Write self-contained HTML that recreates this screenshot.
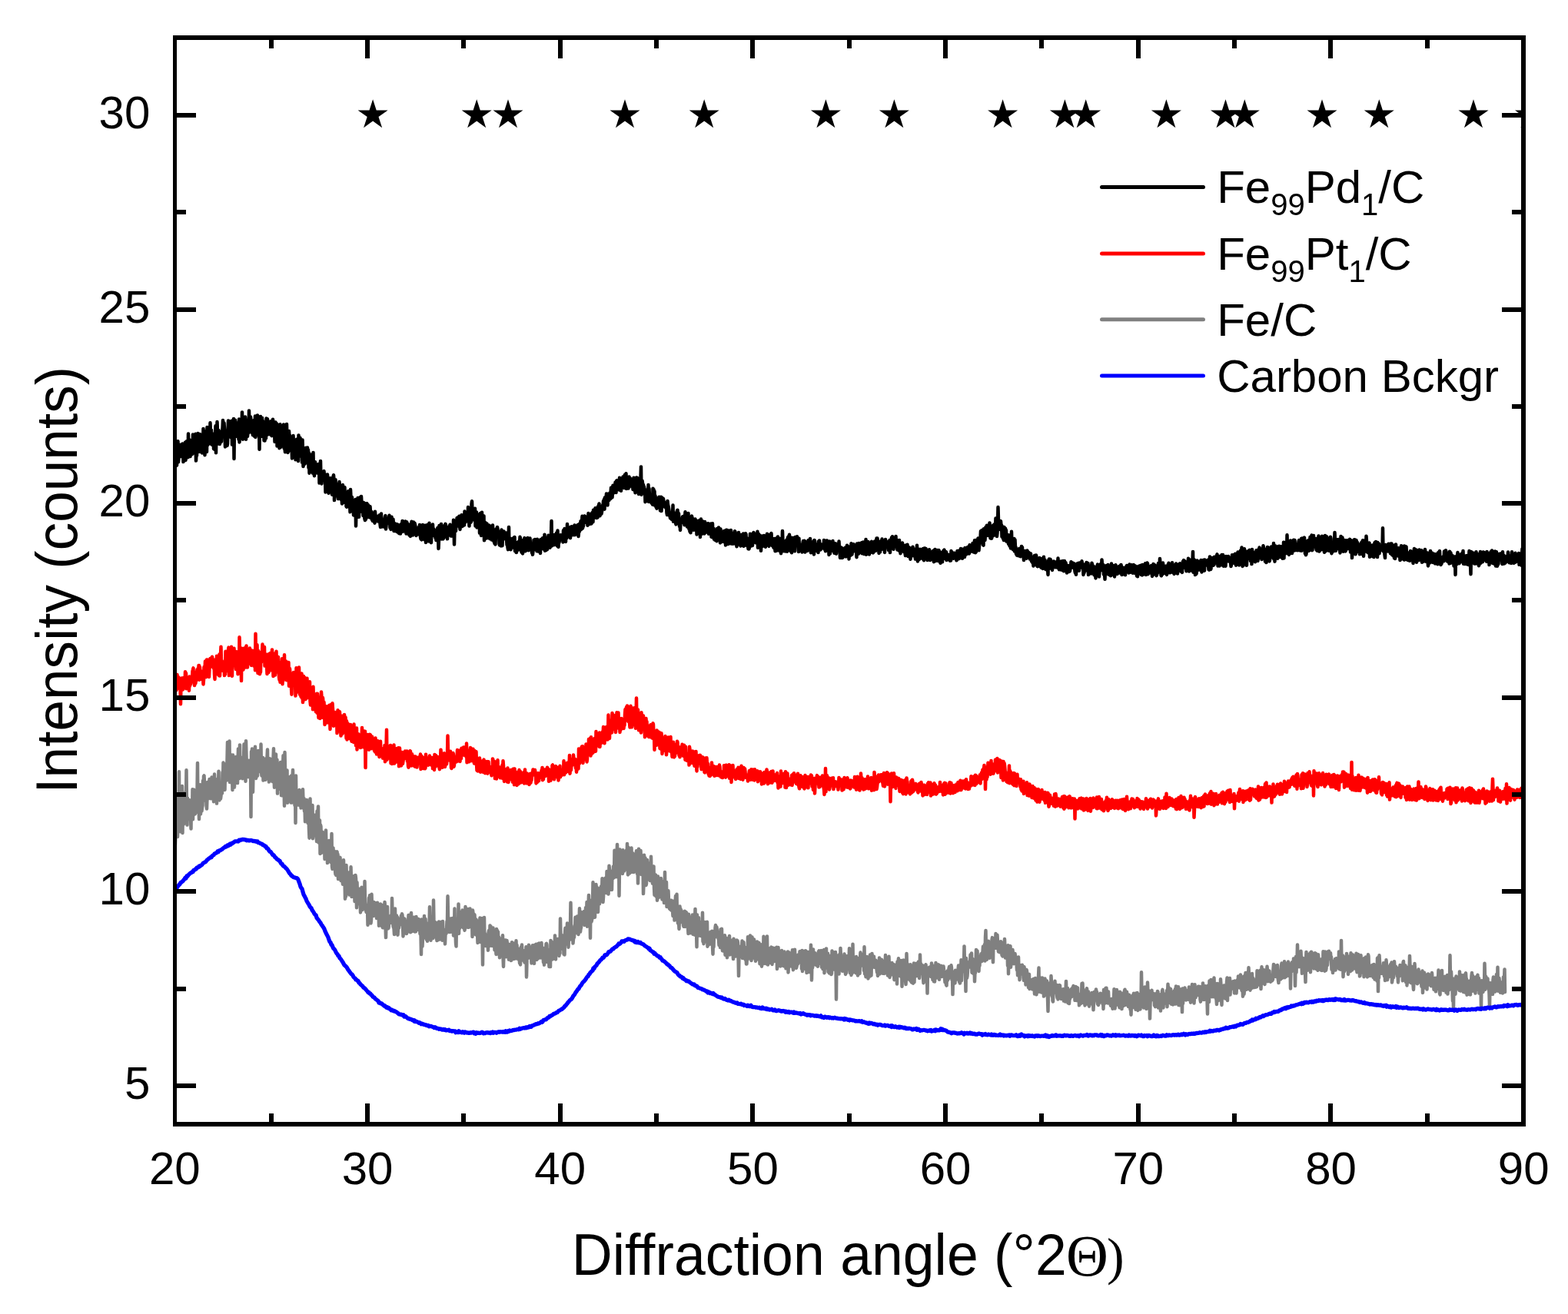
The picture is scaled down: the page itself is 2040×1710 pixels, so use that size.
<!DOCTYPE html>
<html><head><meta charset="utf-8"><title>XRD</title>
<style>html,body{margin:0;padding:0;background:#fff;overflow:hidden;width:2040px;height:1710px;}svg{display:block;}</style>
</head><body>
<svg width="2040" height="1710" viewBox="0 0 2040 1710">
<defs><clipPath id="pc"><rect x="230" y="52" width="1749" height="1408"/></clipPath></defs>
<rect width="100%" height="100%" fill="#fff"/>
<g clip-path="url(#pc)" fill="none" stroke-width="4.5" stroke-linejoin="round" stroke-linecap="round">
<path stroke="#808080" d="M227.0 1056.4L227.5 1060.3 228.0 1098.8 228.5 1082.5 229.0 1035.1 229.5 1067.3 230.0 1061.4 230.5 1052.0 231.0 1089.1 231.5 1041.4 232.0 1053.4 232.5 1067.0 233.0 1004.3 233.5 1075.5 234.0 1067.4 234.5 1082.2 235.0 1049.0 235.5 1074.7 236.0 1064.6 236.5 1034.6 237.0 1023.0 237.5 1084.0 238.0 1035.3 238.5 1045.1 239.0 1072.5 239.5 1064.4 240.0 1060.0 240.5 1055.9 241.0 1031.6 241.5 1068.3 242.0 1042.8 242.5 1002.3 243.0 1055.0 243.5 1073.6 244.0 1038.8 244.5 1065.9 245.0 1048.6 245.5 1062.7 246.0 1058.5 246.5 1041.2 247.0 1053.4 247.5 1051.2 248.0 1063.0 248.5 1078.4 249.0 1041.6 249.5 1063.3 250.0 1062.9 250.5 1027.3 251.0 1066.2 251.5 1038.4 252.0 1048.6 252.5 1027.8 253.0 1059.8 253.5 1034.5 254.0 1059.0 254.5 1034.6 255.0 1052.7 255.5 1035.2 256.0 1056.7 256.5 1030.1 257.0 993.0 257.5 1054.9 258.0 1052.2 258.5 1039.8 259.0 1066.0 259.5 1029.6 260.0 1054.2 260.5 1021.3 261.0 1059.5 261.5 1046.7 262.0 1048.9 262.5 1055.5 263.0 1050.7 263.5 1048.6 264.0 1016.1 264.5 1034.6 265.0 1010.2 265.5 1009.4 266.0 1018.1 266.5 1041.4 267.0 1040.5 267.5 1019.4 268.0 1029.9 268.5 1047.9 269.0 1052.6 269.5 1038.1 270.0 1017.9 270.5 1036.4 271.0 1037.7 271.5 1018.6 272.0 1039.0 272.5 1014.0 273.0 1037.0 273.5 1029.0 274.0 1037.6 274.5 1039.3 275.0 1035.5 275.5 1011.6 276.0 1024.9 276.5 1013.1 277.0 1033.2 277.5 1026.4 278.0 1043.2 278.5 1024.4 279.0 1007.6 279.5 1027.4 280.0 1021.7 280.5 1031.1 281.0 1017.2 281.5 1024.6 282.0 1045.6 282.5 1015.5 283.0 1014.7 283.5 1013.2 284.0 1024.7 284.5 1003.8 285.0 1029.6 285.5 1041.4 286.0 1024.2 286.5 1030.6 287.0 1039.5 287.5 1035.7 288.0 1027.6 288.5 1030.7 289.0 1032.5 289.5 1005.0 290.0 1018.0 290.5 992.6 291.0 1000.1 291.5 1016.2 292.0 1011.0 292.5 1027.9 293.0 1005.0 293.5 994.3 294.0 1004.6 294.5 1002.5 295.0 1015.4 295.5 989.0 296.0 965.9 296.5 1005.9 297.0 1002.8 297.5 995.3 298.0 992.2 298.5 964.4 299.0 1018.1 299.5 994.7 300.0 982.1 300.5 992.1 301.0 1003.6 301.5 992.2 302.0 1002.8 302.5 1027.9 303.0 982.4 303.5 1020.1 304.0 1010.9 304.5 1010.3 305.0 1024.4 305.5 988.5 306.0 1000.4 306.5 1015.1 307.0 985.0 307.5 1002.2 308.0 987.3 308.5 998.6 309.0 1019.1 309.5 992.6 310.0 974.4 310.5 981.1 311.0 991.8 311.5 1012.9 312.0 969.4 312.5 1009.1 313.0 998.6 313.5 985.5 314.0 1004.4 314.5 988.7 315.0 995.3 315.5 1013.2 316.0 1006.8 316.5 1008.0 317.0 990.3 317.5 968.5 318.0 1000.0 318.5 1013.1 319.0 978.7 319.5 1016.8 320.0 964.3 320.5 984.3 321.0 999.4 321.5 1007.1 322.0 1001.6 322.5 1009.0 323.0 1011.1 323.5 1002.1 324.0 989.7 324.5 991.5 325.0 1008.6 325.5 1000.9 326.0 998.6 326.5 1063.1 327.0 977.9 327.5 990.5 328.0 974.4 328.5 988.3 329.0 1030.8 329.5 1005.3 330.0 999.7 330.5 982.9 331.0 991.0 331.5 1003.9 332.0 971.7 332.5 1006.4 333.0 1012.9 333.5 1010.7 334.0 977.5 334.5 980.5 335.0 1009.8 335.5 993.4 336.0 977.0 336.5 990.5 337.0 1002.3 337.5 986.6 338.0 992.8 338.5 1004.2 339.0 1002.4 339.5 968.5 340.0 1003.6 340.5 1009.6 341.0 995.2 341.5 994.2 342.0 986.1 342.5 1015.6 343.0 989.0 343.5 1001.9 344.0 988.9 344.5 997.0 345.0 1011.9 345.5 1014.8 346.0 987.2 346.5 1005.4 347.0 1011.6 347.5 985.5 348.0 975.5 348.5 1011.5 349.0 1002.0 349.5 998.6 350.0 1017.6 350.5 1011.3 351.0 987.3 351.5 1010.1 352.0 1002.9 352.5 1008.8 353.0 1009.5 353.5 988.0 354.0 992.5 354.5 1017.1 355.0 991.3 355.5 987.2 356.0 974.3 356.5 1012.4 357.0 1024.8 357.5 989.0 358.0 989.2 358.5 986.8 359.0 981.5 359.5 1010.5 360.0 1013.5 360.5 988.8 361.0 1032.6 361.5 1002.7 362.0 1022.1 362.5 1027.0 363.0 1024.3 363.5 1006.1 364.0 1005.9 364.5 1014.7 365.0 992.0 365.5 1008.1 366.0 1035.1 366.5 1035.2 367.0 991.4 367.5 1015.6 368.0 998.8 368.5 983.2 369.0 995.3 369.5 1019.4 370.0 1048.7 370.5 979.0 371.0 1003.4 371.5 1012.1 372.0 1035.0 372.5 1031.7 373.0 1020.7 373.5 1002.5 374.0 1044.7 374.5 1014.4 375.0 1027.3 375.5 1039.9 376.0 1020.1 376.5 1027.0 377.0 1027.7 377.5 1010.9 378.0 1012.9 378.5 1044.5 379.0 1009.4 379.5 1030.7 380.0 1044.4 380.5 1013.1 381.0 1002.1 381.5 1028.4 382.0 1023.2 382.5 1030.6 383.0 1023.8 383.5 1048.0 384.0 1013.6 384.5 1071.1 385.0 1009.6 385.5 1048.2 386.0 1030.9 386.5 1038.3 387.0 1030.5 387.5 1031.3 388.0 1041.5 388.5 1037.4 389.0 1047.8 389.5 1027.9 390.0 1039.6 390.5 1042.7 391.0 1029.3 391.5 1051.4 392.0 1044.8 392.5 1035.8 393.0 1040.7 393.5 1051.3 394.0 1027.2 394.5 1043.3 395.0 1045.0 395.5 1038.9 396.0 1055.8 396.5 1048.6 397.0 1069.2 397.5 1056.1 398.0 1044.6 398.5 1046.5 399.0 1041.0 399.5 1049.8 400.0 1062.8 400.5 1071.0 401.0 1049.0 401.5 1057.6 402.0 1078.8 402.5 1090.7 403.0 1049.4 403.5 1039.4 404.0 1069.5 404.5 1067.9 405.0 1067.8 405.5 1069.9 406.0 1087.5 406.5 1048.1 407.0 1091.2 407.5 1087.6 408.0 1060.4 408.5 1062.7 409.0 1060.6 409.5 1072.4 410.0 1061.1 410.5 1077.2 411.0 1083.1 411.5 1074.2 412.0 1094.9 412.5 1055.5 413.0 1095.0 413.5 1059.7 414.0 1049.5 414.5 1096.6 415.0 1080.3 415.5 1068.0 416.0 1067.5 416.5 1111.0 417.0 1073.6 417.5 1075.7 418.0 1110.1 418.5 1101.7 419.0 1085.1 419.5 1082.7 420.0 1105.7 420.5 1107.5 421.0 1100.5 421.5 1095.3 422.0 1095.5 422.5 1118.0 423.0 1103.1 423.5 1085.1 424.0 1080.6 424.5 1107.4 425.0 1107.8 425.5 1103.8 426.0 1123.1 426.5 1100.1 427.0 1103.6 427.5 1099.9 428.0 1093.9 428.5 1102.9 429.0 1121.1 429.5 1099.8 430.0 1098.9 430.5 1122.1 431.0 1111.5 431.5 1085.0 432.0 1127.8 432.5 1130.9 433.0 1104.4 433.5 1103.5 434.0 1116.6 434.5 1118.0 435.0 1107.7 435.5 1127.8 436.0 1132.8 436.5 1137.7 437.0 1113.1 437.5 1139.1 438.0 1109.9 438.5 1108.3 439.0 1112.1 439.5 1111.7 440.0 1144.0 440.5 1125.6 441.0 1132.7 441.5 1129.7 442.0 1117.9 442.5 1115.9 443.0 1125.1 443.5 1146.0 444.0 1126.3 444.5 1128.2 445.0 1130.6 445.5 1147.0 446.0 1150.7 446.5 1131.0 447.0 1119.3 447.5 1133.9 448.0 1142.6 448.5 1142.6 449.0 1169.7 449.5 1157.9 450.0 1166.7 450.5 1126.1 451.0 1145.8 451.5 1137.8 452.0 1139.7 452.5 1158.9 453.0 1149.7 453.5 1147.2 454.0 1135.5 454.5 1164.4 455.0 1156.9 455.5 1145.8 456.0 1164.4 456.5 1128.2 457.0 1145.8 457.5 1167.0 458.0 1141.8 458.5 1141.4 459.0 1159.6 459.5 1163.4 460.0 1161.3 460.5 1140.0 461.0 1152.0 461.5 1172.9 462.0 1157.2 462.5 1139.1 463.0 1143.1 463.5 1153.8 464.0 1181.3 464.5 1148.3 465.0 1163.7 465.5 1176.3 466.0 1171.2 466.5 1156.5 467.0 1176.2 467.5 1156.9 468.0 1168.0 468.5 1163.9 469.0 1187.4 469.5 1180.2 470.0 1184.5 470.5 1154.7 471.0 1176.3 471.5 1184.1 472.0 1165.0 472.5 1174.5 473.0 1163.9 473.5 1164.0 474.0 1179.3 474.5 1147.0 475.0 1174.7 475.5 1181.7 476.0 1184.2 476.5 1186.9 477.0 1183.8 477.5 1179.6 478.0 1177.9 478.5 1203.8 479.0 1183.4 479.5 1184.5 480.0 1168.5 480.5 1172.1 481.0 1165.3 481.5 1169.8 482.0 1182.4 482.5 1201.4 483.0 1197.3 483.5 1163.7 484.0 1180.5 484.5 1191.3 485.0 1177.0 485.5 1178.4 486.0 1191.9 486.5 1174.1 487.0 1177.4 487.5 1182.7 488.0 1175.1 488.5 1178.3 489.0 1187.9 489.5 1180.2 490.0 1194.9 490.5 1186.3 491.0 1174.8 491.5 1186.8 492.0 1189.5 492.5 1177.2 493.0 1204.8 493.5 1180.6 494.0 1177.8 494.5 1187.4 495.0 1176.4 495.5 1196.3 496.0 1178.3 496.5 1177.6 497.0 1205.5 497.5 1193.5 498.0 1207.2 498.5 1201.3 499.0 1198.1 499.5 1181.8 500.0 1197.2 500.5 1174.0 501.0 1180.4 501.5 1202.6 502.0 1220.1 502.5 1199.4 503.0 1192.8 503.5 1205.4 504.0 1180.0 504.5 1208.6 505.0 1197.4 505.5 1207.9 506.0 1202.4 506.5 1195.3 507.0 1193.3 507.5 1196.4 508.0 1200.7 508.5 1191.4 509.0 1196.7 509.5 1200.9 510.0 1169.1 510.5 1188.6 511.0 1192.8 511.5 1205.2 512.0 1207.1 512.5 1207.9 513.0 1216.1 513.5 1202.1 514.0 1182.6 514.5 1209.2 515.0 1198.5 515.5 1205.8 516.0 1191.6 516.5 1215.3 517.0 1193.8 517.5 1216.7 518.0 1207.3 518.5 1199.6 519.0 1207.7 519.5 1197.0 520.0 1204.1 520.5 1202.6 521.0 1197.2 521.5 1194.8 522.0 1191.4 522.5 1199.2 523.0 1189.3 523.5 1191.0 524.0 1200.9 524.5 1218.4 525.0 1210.1 525.5 1204.5 526.0 1196.5 526.5 1195.6 527.0 1199.2 527.5 1206.3 528.0 1214.5 528.5 1200.2 529.0 1215.1 529.5 1210.8 530.0 1212.9 530.5 1198.8 531.0 1205.5 531.5 1191.1 532.0 1204.7 532.5 1191.0 533.0 1209.8 533.5 1196.5 534.0 1213.3 534.5 1201.0 535.0 1188.1 535.5 1203.4 536.0 1200.3 536.5 1211.9 537.0 1196.7 537.5 1206.8 538.0 1202.6 538.5 1193.7 539.0 1203.0 539.5 1212.5 540.0 1199.4 540.5 1211.3 541.0 1212.3 541.5 1193.1 542.0 1201.0 542.5 1198.3 543.0 1209.9 543.5 1201.4 544.0 1207.2 544.5 1196.0 545.0 1198.5 545.5 1199.8 546.0 1207.3 546.5 1215.4 547.0 1201.4 547.5 1216.0 548.0 1242.0 548.5 1196.6 549.0 1203.7 549.5 1231.7 550.0 1220.3 550.5 1208.3 551.0 1201.8 551.5 1211.9 552.0 1192.1 552.5 1220.2 553.0 1204.1 553.5 1195.9 554.0 1206.7 554.5 1210.7 555.0 1222.9 555.5 1205.5 556.0 1224.8 556.5 1214.6 557.0 1208.3 557.5 1203.5 558.0 1200.9 558.5 1204.7 559.0 1180.3 559.5 1200.0 560.0 1203.5 560.5 1223.8 561.0 1197.8 561.5 1215.5 562.0 1207.4 562.5 1216.1 563.0 1215.2 563.5 1220.9 564.0 1171.5 564.5 1201.9 565.0 1202.0 565.5 1205.0 566.0 1208.0 566.5 1203.9 567.0 1200.5 567.5 1211.8 568.0 1220.7 568.5 1224.1 569.0 1212.0 569.5 1222.3 570.0 1222.9 570.5 1217.2 571.0 1199.5 571.5 1217.7 572.0 1222.6 572.5 1211.8 573.0 1221.6 573.5 1199.9 574.0 1201.0 574.5 1213.6 575.0 1204.7 575.5 1223.7 576.0 1199.1 576.5 1215.3 577.0 1216.2 577.5 1209.7 578.0 1212.2 578.5 1211.2 579.0 1228.4 579.5 1215.0 580.0 1215.1 580.5 1215.0 581.0 1209.7 581.5 1199.0 582.0 1197.7 582.5 1166.3 583.0 1194.8 583.5 1205.6 584.0 1209.7 584.5 1213.0 585.0 1205.0 585.5 1200.0 586.0 1195.6 586.5 1210.6 587.0 1212.6 587.5 1196.4 588.0 1200.7 588.5 1195.0 589.0 1197.1 589.5 1202.3 590.0 1217.5 590.5 1197.4 591.0 1208.9 591.5 1182.4 592.0 1213.2 592.5 1213.0 593.0 1227.2 593.5 1231.6 594.0 1197.1 594.5 1201.6 595.0 1214.3 595.5 1203.7 596.0 1213.7 596.5 1176.4 597.0 1215.0 597.5 1197.3 598.0 1208.3 598.5 1186.9 599.0 1206.3 599.5 1204.2 600.0 1203.4 600.5 1203.6 601.0 1192.2 601.5 1184.4 602.0 1198.1 602.5 1207.0 603.0 1207.6 603.5 1198.5 604.0 1205.2 604.5 1210.8 605.0 1207.2 605.5 1180.0 606.0 1185.6 606.5 1205.8 607.0 1192.0 607.5 1201.8 608.0 1201.5 608.5 1206.7 609.0 1183.0 609.5 1203.7 610.0 1206.7 610.5 1187.1 611.0 1206.0 611.5 1182.6 612.0 1203.5 612.5 1198.0 613.0 1200.2 613.5 1206.8 614.0 1185.5 614.5 1219.0 615.0 1184.6 615.5 1188.1 616.0 1197.7 616.5 1189.8 617.0 1208.4 617.5 1190.5 618.0 1204.2 618.5 1215.8 619.0 1216.3 619.5 1196.5 620.0 1197.9 620.5 1208.0 621.0 1211.0 621.5 1226.9 622.0 1208.0 622.5 1209.9 623.0 1204.3 623.5 1220.7 624.0 1201.0 624.5 1194.4 625.0 1225.9 625.5 1200.6 626.0 1214.3 626.5 1213.2 627.0 1194.9 627.5 1217.3 628.0 1255.5 628.5 1208.5 629.0 1222.1 629.5 1202.3 630.0 1194.0 630.5 1226.7 631.0 1215.0 631.5 1224.5 632.0 1231.0 632.5 1217.2 633.0 1223.9 633.5 1225.8 634.0 1220.2 634.5 1224.0 635.0 1236.8 635.5 1213.8 636.0 1211.0 636.5 1218.1 637.0 1230.9 637.5 1204.6 638.0 1224.8 638.5 1205.5 639.0 1220.8 639.5 1214.5 640.0 1231.0 640.5 1222.4 641.0 1229.3 641.5 1207.6 642.0 1224.9 642.5 1231.1 643.0 1224.7 643.5 1236.5 644.0 1222.8 644.5 1227.7 645.0 1234.5 645.5 1241.9 646.0 1208.9 646.5 1214.5 647.0 1211.1 647.5 1214.6 648.0 1212.7 648.5 1241.7 649.0 1219.4 649.5 1230.9 650.0 1246.3 650.5 1232.4 651.0 1221.4 651.5 1225.5 652.0 1225.0 652.5 1226.7 653.0 1229.4 653.5 1233.6 654.0 1217.3 654.5 1245.0 655.0 1257.9 655.5 1237.3 656.0 1223.3 656.5 1243.5 657.0 1236.1 657.5 1232.6 658.0 1223.5 658.5 1245.3 659.0 1235.9 659.5 1224.1 660.0 1231.8 660.5 1228.0 661.0 1234.1 661.5 1237.1 662.0 1248.8 662.5 1228.9 663.0 1246.3 663.5 1247.4 664.0 1233.2 664.5 1229.5 665.0 1250.1 665.5 1242.2 666.0 1226.3 666.5 1237.4 667.0 1245.9 667.5 1238.2 668.0 1227.4 668.5 1248.1 669.0 1238.5 669.5 1231.8 670.0 1232.8 670.5 1230.7 671.0 1243.7 671.5 1224.2 672.0 1247.5 672.5 1229.9 673.0 1238.7 673.5 1237.5 674.0 1236.4 674.5 1244.3 675.0 1248.9 675.5 1235.0 676.0 1253.2 676.5 1247.2 677.0 1255.4 677.5 1236.4 678.0 1232.2 678.5 1248.6 679.0 1229.5 679.5 1247.2 680.0 1249.5 680.5 1236.8 681.0 1239.4 681.5 1243.5 682.0 1249.1 682.5 1252.4 683.0 1242.3 683.5 1245.3 684.0 1249.9 684.5 1232.3 685.0 1271.4 685.5 1249.9 686.0 1234.4 686.5 1240.7 687.0 1247.0 687.5 1244.5 688.0 1229.8 688.5 1231.8 689.0 1233.0 689.5 1232.5 690.0 1240.4 690.5 1246.8 691.0 1238.9 691.5 1253.5 692.0 1243.0 692.5 1237.7 693.0 1230.2 693.5 1239.8 694.0 1245.1 694.5 1251.3 695.0 1253.9 695.5 1230.0 696.0 1245.7 696.5 1238.7 697.0 1243.5 697.5 1228.8 698.0 1232.2 698.5 1248.9 699.0 1238.3 699.5 1234.8 700.0 1247.4 700.5 1227.9 701.0 1232.5 701.5 1227.5 702.0 1237.2 702.5 1234.2 703.0 1232.5 703.5 1246.5 704.0 1244.0 704.5 1227.1 705.0 1245.2 705.5 1233.3 706.0 1244.9 706.5 1242.4 707.0 1252.4 707.5 1240.2 708.0 1255.7 708.5 1243.1 709.0 1233.7 709.5 1240.6 710.0 1245.0 710.5 1228.2 711.0 1227.8 711.5 1229.8 712.0 1251.9 712.5 1245.6 713.0 1244.7 713.5 1236.1 714.0 1249.2 714.5 1258.0 715.0 1240.3 715.5 1236.3 716.0 1258.1 716.5 1223.9 717.0 1228.6 717.5 1225.5 718.0 1226.2 718.5 1248.6 719.0 1232.1 719.5 1247.6 720.0 1241.6 720.5 1231.0 721.0 1247.6 721.5 1241.7 722.0 1217.5 722.5 1243.0 723.0 1248.4 723.5 1222.9 724.0 1225.1 724.5 1235.8 725.0 1221.9 725.5 1233.8 726.0 1235.7 726.5 1228.4 727.0 1221.7 727.5 1243.9 728.0 1236.3 728.5 1240.6 729.0 1195.6 729.5 1217.9 730.0 1235.1 730.5 1220.7 731.0 1232.1 731.5 1229.1 732.0 1217.4 732.5 1227.1 733.0 1221.9 733.5 1241.7 734.0 1218.6 734.5 1242.5 735.0 1214.2 735.5 1207.8 736.0 1217.3 736.5 1223.9 737.0 1228.5 737.5 1217.3 738.0 1201.5 738.5 1224.2 739.0 1210.0 739.5 1232.7 740.0 1215.7 740.5 1218.6 741.0 1220.3 741.5 1222.7 742.0 1205.4 742.5 1174.8 743.0 1208.0 743.5 1204.4 744.0 1216.4 744.5 1217.0 745.0 1207.5 745.5 1227.6 746.0 1222.2 746.5 1220.3 747.0 1219.7 747.5 1207.5 748.0 1214.9 748.5 1193.8 749.0 1195.1 749.5 1196.4 750.0 1197.4 750.5 1210.6 751.0 1192.6 751.5 1200.6 752.0 1213.9 752.5 1216.0 753.0 1208.7 753.5 1198.5 754.0 1182.2 754.5 1201.7 755.0 1212.6 755.5 1208.6 756.0 1207.3 756.5 1187.1 757.0 1188.4 757.5 1190.6 758.0 1188.7 758.5 1187.7 759.0 1187.8 759.5 1197.4 760.0 1186.1 760.5 1203.9 761.0 1190.9 761.5 1201.0 762.0 1181.2 762.5 1192.6 763.0 1198.5 763.5 1174.1 764.0 1205.7 764.5 1195.2 765.0 1200.0 765.5 1178.7 766.0 1164.9 766.5 1190.9 767.0 1179.2 767.5 1184.1 768.0 1220.7 768.5 1172.1 769.0 1185.8 769.5 1199.5 770.0 1197.3 770.5 1194.3 771.0 1178.1 771.5 1148.3 772.0 1167.6 772.5 1193.2 773.0 1184.0 773.5 1184.9 774.0 1193.8 774.5 1166.9 775.0 1166.8 775.5 1151.1 776.0 1164.7 776.5 1154.4 777.0 1175.3 777.5 1173.1 778.0 1187.0 778.5 1165.7 779.0 1156.7 779.5 1158.1 780.0 1176.3 780.5 1163.4 781.0 1155.8 781.5 1165.3 782.0 1153.6 782.5 1158.9 783.0 1161.4 783.5 1143.3 784.0 1150.6 784.5 1174.0 785.0 1167.8 785.5 1155.2 786.0 1151.1 786.5 1144.7 787.0 1150.0 787.5 1142.7 788.0 1155.1 788.5 1162.1 789.0 1155.2 789.5 1134.0 790.0 1137.6 790.5 1156.3 791.0 1156.5 791.5 1163.6 792.0 1154.5 792.5 1126.8 793.0 1131.9 793.5 1157.8 794.0 1145.6 794.5 1135.2 795.0 1150.3 795.5 1139.5 796.0 1158.0 796.5 1133.6 797.0 1138.7 797.5 1143.1 798.0 1127.5 798.5 1136.1 799.0 1141.9 799.5 1106.7 800.0 1119.7 800.5 1117.9 801.0 1129.7 801.5 1117.5 802.0 1141.2 802.5 1114.4 803.0 1099.1 803.5 1112.8 804.0 1114.7 804.5 1130.0 805.0 1106.7 805.5 1165.8 806.0 1129.1 806.5 1105.5 807.0 1134.9 807.5 1113.0 808.0 1124.9 808.5 1113.0 809.0 1113.3 809.5 1122.4 810.0 1137.0 810.5 1106.3 811.0 1111.9 811.5 1120.4 812.0 1133.6 812.5 1115.0 813.0 1131.9 813.5 1129.0 814.0 1124.5 814.5 1128.3 815.0 1106.5 815.5 1121.7 816.0 1098.0 816.5 1125.9 817.0 1138.5 817.5 1102.8 818.0 1109.3 818.5 1127.6 819.0 1136.6 819.5 1125.9 820.0 1131.0 820.5 1110.6 821.0 1135.1 821.5 1103.6 822.0 1133.3 822.5 1122.9 823.0 1127.8 823.5 1110.5 824.0 1117.4 824.5 1135.1 825.0 1130.8 825.5 1117.4 826.0 1117.8 826.5 1134.1 827.0 1113.1 827.5 1117.9 828.0 1107.3 828.5 1125.8 829.0 1137.1 829.5 1111.0 830.0 1149.5 830.5 1129.8 831.0 1104.7 831.5 1123.1 832.0 1126.8 832.5 1112.1 833.0 1137.3 833.5 1106.9 834.0 1117.6 834.5 1138.0 835.0 1122.8 835.5 1136.0 836.0 1126.4 836.5 1127.0 837.0 1163.1 837.5 1149.5 838.0 1112.7 838.5 1119.2 839.0 1141.9 839.5 1116.6 840.0 1125.8 840.5 1152.1 841.0 1149.9 841.5 1120.1 842.0 1119.0 842.5 1134.2 843.0 1143.9 843.5 1144.3 844.0 1123.3 844.5 1132.3 845.0 1139.2 845.5 1130.2 846.0 1146.1 846.5 1138.2 847.0 1114.7 847.5 1139.5 848.0 1134.5 848.5 1143.4 849.0 1149.7 849.5 1135.2 850.0 1130.8 850.5 1127.4 851.0 1154.9 851.5 1164.8 852.0 1151.3 852.5 1142.6 853.0 1138.4 853.5 1166.4 854.0 1152.3 854.5 1142.7 855.0 1171.8 855.5 1168.1 856.0 1140.5 856.5 1163.3 857.0 1162.8 857.5 1167.7 858.0 1164.9 858.5 1163.9 859.0 1146.9 859.5 1149.1 860.0 1143.1 860.5 1160.6 861.0 1163.2 861.5 1170.6 862.0 1147.5 862.5 1151.6 863.0 1147.1 863.5 1152.9 864.0 1175.0 864.5 1169.3 865.0 1135.1 865.5 1169.6 866.0 1165.7 866.5 1163.9 867.0 1148.1 867.5 1180.0 868.0 1170.5 868.5 1159.4 869.0 1171.9 869.5 1159.3 870.0 1173.2 870.5 1180.4 871.0 1182.6 871.5 1171.5 872.0 1183.5 872.5 1175.9 873.0 1184.4 873.5 1171.7 874.0 1179.3 874.5 1185.6 875.0 1185.1 875.5 1192.1 876.0 1187.8 876.5 1192.0 877.0 1172.5 877.5 1197.6 878.0 1186.8 878.5 1176.2 879.0 1166.0 879.5 1182.5 880.0 1182.1 880.5 1163.7 881.0 1192.7 881.5 1196.2 882.0 1201.5 882.5 1190.0 883.0 1198.9 883.5 1209.0 884.0 1191.3 884.5 1179.5 885.0 1189.1 885.5 1183.0 886.0 1191.5 886.5 1185.1 887.0 1200.1 887.5 1186.8 888.0 1191.1 888.5 1187.0 889.0 1204.3 889.5 1205.6 890.0 1201.3 890.5 1186.6 891.0 1185.8 891.5 1205.9 892.0 1198.5 892.5 1187.1 893.0 1187.5 893.5 1191.8 894.0 1205.2 894.5 1190.6 895.0 1206.6 895.5 1215.0 896.0 1189.7 896.5 1193.4 897.0 1202.5 897.5 1193.9 898.0 1214.3 898.5 1199.8 899.0 1211.2 899.5 1209.8 900.0 1193.6 900.5 1199.4 901.0 1190.5 901.5 1215.8 902.0 1205.5 902.5 1200.3 903.0 1214.4 903.5 1216.4 904.0 1197.9 904.5 1182.9 905.0 1214.1 905.5 1217.2 906.0 1210.0 906.5 1232.2 907.0 1190.6 907.5 1217.7 908.0 1196.2 908.5 1202.2 909.0 1194.2 909.5 1214.3 910.0 1217.5 910.5 1201.1 911.0 1217.7 911.5 1200.5 912.0 1202.0 912.5 1214.0 913.0 1212.3 913.5 1218.7 914.0 1187.8 914.5 1225.2 915.0 1205.7 915.5 1228.3 916.0 1211.6 916.5 1225.6 917.0 1200.0 917.5 1214.9 918.0 1208.8 918.5 1214.2 919.0 1206.6 919.5 1204.4 920.0 1199.8 920.5 1231.7 921.0 1214.2 921.5 1229.6 922.0 1229.4 922.5 1216.7 923.0 1226.6 923.5 1213.6 924.0 1216.4 924.5 1228.6 925.0 1212.5 925.5 1227.5 926.0 1214.7 926.5 1211.7 927.0 1230.5 927.5 1241.7 928.0 1221.7 928.5 1232.4 929.0 1213.1 929.5 1212.0 930.0 1219.8 930.5 1207.4 931.0 1204.0 931.5 1209.3 932.0 1213.9 932.5 1206.6 933.0 1214.4 933.5 1212.4 934.0 1216.5 934.5 1221.4 935.0 1222.9 935.5 1230.1 936.0 1213.8 936.5 1224.3 937.0 1233.0 937.5 1209.6 938.0 1225.3 938.5 1214.3 939.0 1208.8 939.5 1232.2 940.0 1237.2 940.5 1221.4 941.0 1237.6 941.5 1237.1 942.0 1231.3 942.5 1222.2 943.0 1217.2 943.5 1242.8 944.0 1231.4 944.5 1221.4 945.0 1221.0 945.5 1231.9 946.0 1246.2 946.5 1222.2 947.0 1222.9 947.5 1242.2 948.0 1222.6 948.5 1223.4 949.0 1217.9 949.5 1242.4 950.0 1232.4 950.5 1223.6 951.0 1233.1 951.5 1241.7 952.0 1229.6 952.5 1226.1 953.0 1236.1 953.5 1240.5 954.0 1248.1 954.5 1221.8 955.0 1241.8 955.5 1224.8 956.0 1224.2 956.5 1234.1 957.0 1244.6 957.5 1243.6 958.0 1244.0 958.5 1223.6 959.0 1230.7 959.5 1224.2 960.0 1226.8 960.5 1242.8 961.0 1270.0 961.5 1242.5 962.0 1241.1 962.5 1232.0 963.0 1240.2 963.5 1245.1 964.0 1243.2 964.5 1241.9 965.0 1240.8 965.5 1224.5 966.0 1247.0 966.5 1245.2 967.0 1228.2 967.5 1226.3 968.0 1235.4 968.5 1239.1 969.0 1234.0 969.5 1248.4 970.0 1233.3 970.5 1245.1 971.0 1254.6 971.5 1254.5 972.0 1241.6 972.5 1249.0 973.0 1219.2 973.5 1241.0 974.0 1238.9 974.5 1247.1 975.0 1233.3 975.5 1242.3 976.0 1217.6 976.5 1238.7 977.0 1244.4 977.5 1250.1 978.0 1245.1 978.5 1219.4 979.0 1232.3 979.5 1231.6 980.0 1229.1 980.5 1241.3 981.0 1222.4 981.5 1233.9 982.0 1247.4 982.5 1234.4 983.0 1250.8 983.5 1238.9 984.0 1248.8 984.5 1238.5 985.0 1225.4 985.5 1248.3 986.0 1237.1 986.5 1228.8 987.0 1245.4 987.5 1226.9 988.0 1241.7 988.5 1254.3 989.0 1238.6 989.5 1245.7 990.0 1229.3 990.5 1249.4 991.0 1257.7 991.5 1242.7 992.0 1251.7 992.5 1238.9 993.0 1244.4 993.5 1218.7 994.0 1254.0 994.5 1238.2 995.0 1249.9 995.5 1239.8 996.0 1224.1 996.5 1243.7 997.0 1254.3 997.5 1245.9 998.0 1218.4 998.5 1247.2 999.0 1255.6 999.5 1233.9 1000.0 1235.0 1000.5 1253.3 1001.0 1242.1 1001.5 1250.3 1002.0 1244.6 1002.5 1248.3 1003.0 1233.5 1003.5 1232.6 1004.0 1244.2 1004.5 1255.0 1005.0 1249.5 1005.5 1233.4 1006.0 1243.8 1006.5 1250.1 1007.0 1251.1 1007.5 1241.0 1008.0 1234.1 1008.5 1249.7 1009.0 1243.1 1009.5 1234.7 1010.0 1244.7 1010.5 1232.7 1011.0 1261.0 1011.5 1249.8 1012.0 1243.5 1012.5 1233.0 1013.0 1241.7 1013.5 1257.0 1014.0 1251.9 1014.5 1243.5 1015.0 1245.8 1015.5 1257.4 1016.0 1243.6 1016.5 1244.1 1017.0 1236.9 1017.5 1246.9 1018.0 1255.3 1018.5 1246.4 1019.0 1249.8 1019.5 1257.2 1020.0 1251.5 1020.5 1238.5 1021.0 1248.8 1021.5 1241.6 1022.0 1245.8 1022.5 1260.3 1023.0 1240.4 1023.5 1247.6 1024.0 1243.0 1024.5 1258.7 1025.0 1238.5 1025.5 1265.4 1026.0 1251.6 1026.5 1239.5 1027.0 1253.4 1027.5 1257.6 1028.0 1249.5 1028.5 1246.3 1029.0 1240.4 1029.5 1257.5 1030.0 1247.6 1030.5 1246.4 1031.0 1236.2 1031.5 1257.6 1032.0 1262.2 1032.5 1260.6 1033.0 1258.7 1033.5 1251.6 1034.0 1235.7 1034.5 1248.0 1035.0 1249.5 1035.5 1259.0 1036.0 1259.7 1036.5 1257.9 1037.0 1255.4 1037.5 1245.5 1038.0 1254.3 1038.5 1242.6 1039.0 1252.0 1039.5 1247.1 1040.0 1252.3 1040.5 1238.2 1041.0 1241.9 1041.5 1251.6 1042.0 1249.4 1042.5 1241.7 1043.0 1260.7 1043.5 1236.9 1044.0 1263.9 1044.5 1260.8 1045.0 1237.8 1045.5 1257.1 1046.0 1256.4 1046.5 1242.6 1047.0 1256.2 1047.5 1260.8 1048.0 1237.2 1048.5 1244.6 1049.0 1238.1 1049.5 1265.9 1050.0 1240.5 1050.5 1239.4 1051.0 1241.7 1051.5 1258.6 1052.0 1238.9 1052.5 1265.1 1053.0 1242.6 1053.5 1245.8 1054.0 1256.3 1054.5 1244.1 1055.0 1229.8 1055.5 1247.5 1056.0 1275.4 1056.5 1247.4 1057.0 1259.8 1057.5 1255.4 1058.0 1235.6 1058.5 1244.7 1059.0 1254.3 1059.5 1247.5 1060.0 1239.9 1060.5 1242.8 1061.0 1247.4 1061.5 1255.8 1062.0 1247.2 1062.5 1242.9 1063.0 1244.0 1063.5 1243.0 1064.0 1257.7 1064.5 1239.9 1065.0 1238.7 1065.5 1237.4 1066.0 1253.8 1066.5 1241.7 1067.0 1245.5 1067.5 1248.9 1068.0 1246.2 1068.5 1237.1 1069.0 1258.6 1069.5 1245.7 1070.0 1238.0 1070.5 1260.9 1071.0 1242.9 1071.5 1242.1 1072.0 1236.0 1072.5 1266.3 1073.0 1251.1 1073.5 1258.9 1074.0 1239.4 1074.5 1258.6 1075.0 1234.4 1075.5 1259.6 1076.0 1257.4 1076.5 1249.8 1077.0 1240.7 1077.5 1264.7 1078.0 1248.0 1078.5 1243.5 1079.0 1266.4 1079.5 1258.8 1080.0 1245.2 1080.5 1251.9 1081.0 1246.4 1081.5 1268.1 1082.0 1266.3 1082.5 1237.6 1083.0 1259.1 1083.5 1242.0 1084.0 1246.7 1084.5 1247.1 1085.0 1239.6 1085.5 1261.6 1086.0 1253.7 1086.5 1258.4 1087.0 1239.0 1087.5 1255.8 1088.0 1300.4 1088.5 1243.6 1089.0 1263.4 1089.5 1255.3 1090.0 1243.8 1090.5 1257.4 1091.0 1258.8 1091.5 1267.6 1092.0 1250.4 1092.5 1241.7 1093.0 1257.6 1093.5 1233.9 1094.0 1248.7 1094.5 1260.0 1095.0 1257.5 1095.5 1245.0 1096.0 1263.8 1096.5 1260.5 1097.0 1257.7 1097.5 1258.5 1098.0 1245.8 1098.5 1241.6 1099.0 1245.4 1099.5 1262.3 1100.0 1267.9 1100.5 1248.3 1101.0 1266.3 1101.5 1262.1 1102.0 1244.3 1102.5 1250.8 1103.0 1248.6 1103.5 1258.8 1104.0 1248.0 1104.5 1250.1 1105.0 1234.2 1105.5 1246.4 1106.0 1266.1 1106.5 1251.5 1107.0 1241.3 1107.5 1269.0 1108.0 1253.1 1108.5 1267.0 1109.0 1265.1 1109.5 1228.7 1110.0 1263.1 1110.5 1260.2 1111.0 1257.4 1111.5 1249.3 1112.0 1265.0 1112.5 1259.9 1113.0 1252.5 1113.5 1266.2 1114.0 1244.9 1114.5 1255.1 1115.0 1247.3 1115.5 1253.3 1116.0 1269.4 1116.5 1247.2 1117.0 1263.5 1117.5 1264.5 1118.0 1256.5 1118.5 1267.0 1119.0 1247.1 1119.5 1239.6 1120.0 1244.3 1120.5 1252.3 1121.0 1248.2 1121.5 1242.1 1122.0 1243.4 1122.5 1247.1 1123.0 1257.4 1123.5 1251.1 1124.0 1263.2 1124.5 1232.3 1125.0 1267.3 1125.5 1263.4 1126.0 1266.8 1126.5 1271.2 1127.0 1252.9 1127.5 1249.5 1128.0 1245.1 1128.5 1270.3 1129.0 1247.5 1129.5 1273.5 1130.0 1259.0 1130.5 1266.0 1131.0 1245.9 1131.5 1270.6 1132.0 1242.5 1132.5 1261.7 1133.0 1243.5 1133.5 1269.5 1134.0 1247.1 1134.5 1241.0 1135.0 1254.3 1135.5 1248.6 1136.0 1247.4 1136.5 1253.8 1137.0 1244.8 1137.5 1258.7 1138.0 1257.8 1138.5 1258.7 1139.0 1252.2 1139.5 1249.8 1140.0 1253.6 1140.5 1260.7 1141.0 1265.2 1141.5 1259.5 1142.0 1269.9 1142.5 1255.9 1143.0 1262.3 1143.5 1265.7 1144.0 1246.5 1144.5 1267.5 1145.0 1266.7 1145.5 1249.5 1146.0 1261.6 1146.5 1248.8 1147.0 1248.7 1147.5 1250.2 1148.0 1252.4 1148.5 1266.7 1149.0 1266.2 1149.5 1264.8 1150.0 1251.4 1150.5 1267.0 1151.0 1252.1 1151.5 1260.5 1152.0 1243.0 1152.5 1266.3 1153.0 1253.6 1153.5 1261.0 1154.0 1248.9 1154.5 1251.0 1155.0 1269.4 1155.5 1262.7 1156.0 1264.9 1156.5 1244.8 1157.0 1262.0 1157.5 1271.9 1158.0 1268.6 1158.5 1260.7 1159.0 1258.1 1159.5 1268.5 1160.0 1266.3 1160.5 1252.9 1161.0 1260.0 1161.5 1261.4 1162.0 1262.1 1162.5 1255.1 1163.0 1268.0 1163.5 1275.2 1164.0 1260.1 1164.5 1272.8 1165.0 1268.7 1165.5 1273.6 1166.0 1261.1 1166.5 1255.0 1167.0 1280.5 1167.5 1251.5 1168.0 1258.0 1168.5 1252.4 1169.0 1247.2 1169.5 1269.8 1170.0 1259.9 1170.5 1264.9 1171.0 1263.9 1171.5 1250.3 1172.0 1268.0 1172.5 1271.5 1173.0 1249.9 1173.5 1283.7 1174.0 1262.4 1174.5 1265.0 1175.0 1256.5 1175.5 1249.4 1176.0 1252.5 1176.5 1256.0 1177.0 1271.5 1177.5 1267.4 1178.0 1275.5 1178.5 1281.0 1179.0 1272.2 1179.5 1241.1 1180.0 1259.6 1180.5 1268.6 1181.0 1254.9 1181.5 1274.3 1182.0 1259.0 1182.5 1270.2 1183.0 1272.6 1183.5 1258.4 1184.0 1275.7 1184.5 1255.3 1185.0 1272.3 1185.5 1277.5 1186.0 1278.3 1186.5 1265.8 1187.0 1274.1 1187.5 1270.6 1188.0 1279.7 1188.5 1267.1 1189.0 1253.6 1189.5 1278.1 1190.0 1255.1 1190.5 1268.2 1191.0 1260.4 1191.5 1264.6 1192.0 1270.3 1192.5 1253.7 1193.0 1261.5 1193.5 1254.8 1194.0 1264.8 1194.5 1263.8 1195.0 1251.6 1195.5 1261.9 1196.0 1273.0 1196.5 1265.6 1197.0 1242.6 1197.5 1262.1 1198.0 1253.9 1198.5 1256.9 1199.0 1262.9 1199.5 1257.2 1200.0 1266.8 1200.5 1256.5 1201.0 1272.2 1201.5 1279.3 1202.0 1277.2 1202.5 1274.4 1203.0 1270.5 1203.5 1275.8 1204.0 1259.5 1204.5 1255.2 1205.0 1262.8 1205.5 1276.9 1206.0 1269.2 1206.5 1292.6 1207.0 1264.0 1207.5 1271.3 1208.0 1268.1 1208.5 1269.2 1209.0 1258.8 1209.5 1265.2 1210.0 1261.3 1210.5 1259.1 1211.0 1258.1 1211.5 1271.2 1212.0 1253.4 1212.5 1261.2 1213.0 1263.4 1213.5 1275.1 1214.0 1260.3 1214.5 1257.0 1215.0 1277.3 1215.5 1271.6 1216.0 1277.6 1216.5 1269.9 1217.0 1272.0 1217.5 1252.9 1218.0 1257.6 1218.5 1272.5 1219.0 1264.8 1219.5 1270.4 1220.0 1271.8 1220.5 1257.1 1221.0 1255.3 1221.5 1269.2 1222.0 1274.8 1222.5 1260.9 1223.0 1268.3 1223.5 1268.1 1224.0 1256.7 1224.5 1260.9 1225.0 1257.3 1225.5 1270.9 1226.0 1261.0 1226.5 1268.4 1227.0 1267.3 1227.5 1257.4 1228.0 1262.5 1228.5 1266.0 1229.0 1271.5 1229.5 1278.4 1230.0 1270.4 1230.5 1270.6 1231.0 1281.6 1231.5 1282.6 1232.0 1269.4 1232.5 1263.4 1233.0 1275.5 1233.5 1267.8 1234.0 1273.6 1234.5 1260.5 1235.0 1258.1 1235.5 1265.6 1236.0 1269.7 1236.5 1265.8 1237.0 1259.0 1237.5 1256.3 1238.0 1259.7 1238.5 1275.2 1239.0 1268.7 1239.5 1294.1 1240.0 1272.2 1240.5 1265.0 1241.0 1266.2 1241.5 1272.5 1242.0 1265.1 1242.5 1279.5 1243.0 1262.8 1243.5 1263.2 1244.0 1272.5 1244.5 1270.1 1245.0 1274.5 1245.5 1270.9 1246.0 1265.5 1246.5 1261.7 1247.0 1256.6 1247.5 1258.3 1248.0 1277.7 1248.5 1259.6 1249.0 1279.6 1249.5 1272.3 1250.0 1264.7 1250.5 1249.3 1251.0 1276.2 1251.5 1261.4 1252.0 1260.7 1252.5 1251.7 1253.0 1254.2 1253.5 1254.8 1254.0 1254.3 1254.5 1231.4 1255.0 1259.7 1255.5 1260.7 1256.0 1267.4 1256.5 1290.0 1257.0 1247.1 1257.5 1271.5 1258.0 1272.7 1258.5 1270.3 1259.0 1262.1 1259.5 1256.2 1260.0 1256.1 1260.5 1252.3 1261.0 1254.0 1261.5 1251.0 1262.0 1258.6 1262.5 1242.6 1263.0 1247.2 1263.5 1254.1 1264.0 1240.6 1264.5 1265.8 1265.0 1262.5 1265.5 1248.1 1266.0 1260.9 1266.5 1267.1 1267.0 1261.5 1267.5 1252.1 1268.0 1277.3 1268.5 1264.0 1269.0 1266.1 1269.5 1255.6 1270.0 1236.0 1270.5 1250.6 1271.0 1239.5 1271.5 1237.5 1272.0 1258.1 1272.5 1253.0 1273.0 1253.4 1273.5 1264.0 1274.0 1251.1 1274.5 1257.0 1275.0 1244.5 1275.5 1248.2 1276.0 1244.4 1276.5 1241.3 1277.0 1244.8 1277.5 1250.9 1278.0 1239.9 1278.5 1239.6 1279.0 1231.8 1279.5 1242.6 1280.0 1232.8 1280.5 1232.9 1281.0 1229.1 1281.5 1250.5 1282.0 1219.5 1282.5 1211.0 1283.0 1238.8 1283.5 1245.3 1284.0 1248.7 1284.5 1239.7 1285.0 1234.6 1285.5 1228.1 1286.0 1224.7 1286.5 1241.7 1287.0 1243.1 1287.5 1246.7 1288.0 1230.2 1288.5 1231.9 1289.0 1226.9 1289.5 1236.2 1290.0 1237.2 1290.5 1223.0 1291.0 1220.1 1291.5 1243.2 1292.0 1252.3 1292.5 1223.3 1293.0 1221.3 1293.5 1223.2 1294.0 1232.0 1294.5 1233.7 1295.0 1233.7 1295.5 1215.0 1296.0 1217.2 1296.5 1228.2 1297.0 1234.0 1297.5 1216.8 1298.0 1226.8 1298.5 1234.1 1299.0 1238.4 1299.5 1230.0 1300.0 1231.4 1300.5 1226.2 1301.0 1239.3 1301.5 1234.7 1302.0 1225.2 1302.5 1238.0 1303.0 1229.9 1303.5 1243.0 1304.0 1226.7 1304.5 1244.4 1305.0 1241.3 1305.5 1241.9 1306.0 1235.0 1306.5 1239.1 1307.0 1222.1 1307.5 1234.5 1308.0 1246.6 1308.5 1238.4 1309.0 1231.9 1309.5 1232.2 1310.0 1235.2 1310.5 1233.3 1311.0 1256.6 1311.5 1230.3 1312.0 1267.3 1312.5 1233.4 1313.0 1231.6 1313.5 1243.6 1314.0 1234.2 1314.5 1231.1 1315.0 1258.8 1315.5 1253.1 1316.0 1249.6 1316.5 1251.9 1317.0 1241.9 1317.5 1236.1 1318.0 1242.7 1318.5 1249.7 1319.0 1254.2 1319.5 1243.1 1320.0 1250.6 1320.5 1240.9 1321.0 1244.6 1321.5 1251.0 1322.0 1249.0 1322.5 1253.1 1323.0 1262.5 1323.5 1251.3 1324.0 1269.2 1324.5 1258.8 1325.0 1245.4 1325.5 1259.4 1326.0 1257.8 1326.5 1275.3 1327.0 1256.1 1327.5 1268.2 1328.0 1265.3 1328.5 1260.5 1329.0 1261.9 1329.5 1259.8 1330.0 1255.8 1330.5 1263.7 1331.0 1260.2 1331.5 1272.7 1332.0 1275.8 1332.5 1258.2 1333.0 1262.8 1333.5 1273.5 1334.0 1263.9 1334.5 1281.5 1335.0 1267.3 1335.5 1261.9 1336.0 1263.9 1336.5 1278.2 1337.0 1279.8 1337.5 1275.0 1338.0 1285.2 1338.5 1269.4 1339.0 1267.8 1339.5 1287.0 1340.0 1275.2 1340.5 1279.6 1341.0 1276.4 1341.5 1275.0 1342.0 1284.1 1342.5 1285.0 1343.0 1287.4 1343.5 1286.8 1344.0 1279.8 1344.5 1273.9 1345.0 1285.9 1345.5 1279.9 1346.0 1293.4 1346.5 1284.9 1347.0 1273.1 1347.5 1275.5 1348.0 1291.7 1348.5 1294.3 1349.0 1277.6 1349.5 1281.0 1350.0 1274.6 1350.5 1279.2 1351.0 1271.6 1351.5 1259.5 1352.0 1290.8 1352.5 1271.7 1353.0 1285.8 1353.5 1286.5 1354.0 1277.8 1354.5 1286.5 1355.0 1291.4 1355.5 1287.2 1356.0 1272.4 1356.5 1287.4 1357.0 1276.3 1357.5 1277.3 1358.0 1296.6 1358.5 1295.7 1359.0 1294.5 1359.5 1273.5 1360.0 1278.7 1360.5 1278.2 1361.0 1284.2 1361.5 1278.7 1362.0 1276.4 1362.5 1292.6 1363.0 1298.6 1363.5 1315.9 1364.0 1285.3 1364.5 1279.8 1365.0 1282.5 1365.5 1293.9 1366.0 1288.9 1366.5 1287.6 1367.0 1294.1 1367.5 1270.1 1368.0 1279.3 1368.5 1296.4 1369.0 1282.2 1369.5 1302.2 1370.0 1303.5 1370.5 1285.3 1371.0 1285.4 1371.5 1291.8 1372.0 1286.1 1372.5 1276.8 1373.0 1289.5 1373.5 1286.6 1374.0 1281.4 1374.5 1283.5 1375.0 1294.3 1375.5 1298.4 1376.0 1282.2 1376.5 1300.4 1377.0 1288.8 1377.5 1290.9 1378.0 1293.8 1378.5 1282.1 1379.0 1282.4 1379.5 1298.7 1380.0 1293.7 1380.5 1299.9 1381.0 1287.5 1381.5 1296.3 1382.0 1298.1 1382.5 1299.8 1383.0 1292.1 1383.5 1287.2 1384.0 1302.6 1384.5 1289.3 1385.0 1290.3 1385.5 1298.6 1386.0 1303.6 1386.5 1289.0 1387.0 1276.9 1387.5 1292.9 1388.0 1301.5 1388.5 1301.9 1389.0 1286.0 1389.5 1305.1 1390.0 1301.0 1390.5 1305.9 1391.0 1306.0 1391.5 1299.0 1392.0 1300.1 1392.5 1294.0 1393.0 1292.8 1393.5 1287.5 1394.0 1297.3 1394.5 1286.8 1395.0 1291.0 1395.5 1285.2 1396.0 1286.7 1396.5 1283.0 1397.0 1284.1 1397.5 1287.7 1398.0 1286.9 1398.5 1301.8 1399.0 1297.1 1399.5 1284.0 1400.0 1291.5 1400.5 1302.1 1401.0 1300.2 1401.5 1287.7 1402.0 1285.4 1402.5 1296.3 1403.0 1293.2 1403.5 1293.8 1404.0 1308.3 1404.5 1304.0 1405.0 1304.8 1405.5 1300.4 1406.0 1306.3 1406.5 1305.0 1407.0 1298.4 1407.5 1280.0 1408.0 1293.0 1408.5 1279.6 1409.0 1294.6 1409.5 1292.9 1410.0 1305.5 1410.5 1290.6 1411.0 1292.1 1411.5 1308.4 1412.0 1303.0 1412.5 1301.1 1413.0 1288.6 1413.5 1287.5 1414.0 1286.3 1414.5 1291.6 1415.0 1292.0 1415.5 1306.8 1416.0 1290.6 1416.5 1307.5 1417.0 1309.6 1417.5 1306.1 1418.0 1307.1 1418.5 1293.9 1419.0 1297.9 1419.5 1295.9 1420.0 1305.8 1420.5 1291.9 1421.0 1297.2 1421.5 1297.0 1422.0 1302.1 1422.5 1314.3 1423.0 1302.1 1423.5 1291.0 1424.0 1295.1 1424.5 1300.8 1425.0 1300.9 1425.5 1294.2 1426.0 1287.5 1426.5 1291.3 1427.0 1290.7 1427.5 1303.3 1428.0 1306.6 1428.5 1306.1 1429.0 1308.0 1429.5 1295.1 1430.0 1305.5 1430.5 1294.3 1431.0 1295.2 1431.5 1292.8 1432.0 1295.9 1432.5 1295.2 1433.0 1298.0 1433.5 1293.6 1434.0 1294.1 1434.5 1306.5 1435.0 1297.9 1435.5 1312.9 1436.0 1288.0 1436.5 1288.5 1437.0 1299.2 1437.5 1292.7 1438.0 1305.4 1438.5 1286.1 1439.0 1303.4 1439.5 1285.7 1440.0 1303.4 1440.5 1304.0 1441.0 1298.6 1441.5 1305.6 1442.0 1290.6 1442.5 1301.2 1443.0 1301.1 1443.5 1300.8 1444.0 1301.1 1444.5 1306.1 1445.0 1308.6 1445.5 1304.0 1446.0 1299.9 1446.5 1300.8 1447.0 1307.4 1447.5 1312.7 1448.0 1312.6 1448.5 1305.4 1449.0 1301.7 1449.5 1287.2 1450.0 1300.9 1450.5 1312.6 1451.0 1308.2 1451.5 1304.8 1452.0 1308.3 1452.5 1292.1 1453.0 1288.1 1453.5 1304.3 1454.0 1297.7 1454.5 1295.0 1455.0 1295.2 1455.5 1294.6 1456.0 1307.3 1456.5 1311.2 1457.0 1290.8 1457.5 1300.5 1458.0 1297.9 1458.5 1302.4 1459.0 1292.4 1459.5 1313.1 1460.0 1298.1 1460.5 1305.5 1461.0 1295.0 1461.5 1309.2 1462.0 1297.9 1462.5 1294.3 1463.0 1289.2 1463.5 1287.7 1464.0 1293.9 1464.5 1307.8 1465.0 1305.0 1465.5 1299.8 1466.0 1290.8 1466.5 1297.0 1467.0 1302.1 1467.5 1302.7 1468.0 1310.1 1468.5 1294.8 1469.0 1304.3 1469.5 1295.1 1470.0 1296.7 1470.5 1313.7 1471.0 1309.0 1471.5 1320.7 1472.0 1305.9 1472.5 1303.0 1473.0 1300.2 1473.5 1300.8 1474.0 1295.1 1474.5 1311.0 1475.0 1292.7 1475.5 1296.3 1476.0 1308.6 1476.5 1301.1 1477.0 1298.0 1477.5 1313.7 1478.0 1292.6 1478.5 1294.7 1479.0 1300.8 1479.5 1292.1 1480.0 1313.9 1480.5 1314.8 1481.0 1293.7 1481.5 1309.3 1482.0 1298.4 1482.5 1301.3 1483.0 1295.2 1483.5 1313.4 1484.0 1300.2 1484.5 1306.2 1485.0 1265.3 1485.5 1293.5 1486.0 1309.4 1486.5 1286.6 1487.0 1290.1 1487.5 1307.9 1488.0 1311.5 1488.5 1310.3 1489.0 1308.1 1489.5 1284.4 1490.0 1289.6 1490.5 1307.6 1491.0 1310.6 1491.5 1312.9 1492.0 1293.0 1492.5 1297.5 1493.0 1278.5 1493.5 1291.1 1494.0 1288.4 1494.5 1301.7 1495.0 1290.1 1495.5 1298.9 1496.0 1325.6 1496.5 1306.0 1497.0 1294.9 1497.5 1293.2 1498.0 1291.8 1498.5 1288.7 1499.0 1295.9 1499.5 1293.7 1500.0 1301.3 1500.5 1293.2 1501.0 1296.3 1501.5 1293.3 1502.0 1308.3 1502.5 1303.3 1503.0 1310.2 1503.5 1297.3 1504.0 1309.3 1504.5 1293.1 1505.0 1298.7 1505.5 1301.3 1506.0 1289.9 1506.5 1290.7 1507.0 1311.4 1507.5 1297.4 1508.0 1304.8 1508.5 1294.8 1509.0 1301.9 1509.5 1304.7 1510.0 1315.6 1510.5 1294.0 1511.0 1308.6 1511.5 1308.0 1512.0 1290.1 1512.5 1287.9 1513.0 1297.9 1513.5 1311.4 1514.0 1299.0 1514.5 1293.5 1515.0 1296.6 1515.5 1305.7 1516.0 1294.0 1516.5 1304.4 1517.0 1300.1 1517.5 1299.3 1518.0 1289.1 1518.5 1310.3 1519.0 1293.1 1519.5 1280.8 1520.0 1295.6 1520.5 1284.9 1521.0 1297.6 1521.5 1292.0 1522.0 1305.2 1522.5 1303.7 1523.0 1286.9 1523.5 1289.9 1524.0 1306.8 1524.5 1298.0 1525.0 1304.8 1525.5 1300.1 1526.0 1307.4 1526.5 1306.5 1527.0 1298.2 1527.5 1292.4 1528.0 1289.2 1528.5 1297.7 1529.0 1287.1 1529.5 1306.6 1530.0 1283.6 1530.5 1297.8 1531.0 1305.1 1531.5 1303.3 1532.0 1299.7 1532.5 1295.0 1533.0 1284.3 1533.5 1308.1 1534.0 1298.9 1534.5 1308.2 1535.0 1302.8 1535.5 1287.6 1536.0 1305.3 1536.5 1300.3 1537.0 1295.3 1537.5 1296.6 1538.0 1317.1 1538.5 1286.6 1539.0 1306.0 1539.5 1297.5 1540.0 1297.5 1540.5 1299.0 1541.0 1288.5 1541.5 1285.5 1542.0 1289.7 1542.5 1295.8 1543.0 1301.4 1543.5 1297.7 1544.0 1297.5 1544.5 1288.9 1545.0 1289.3 1545.5 1296.7 1546.0 1300.7 1546.5 1293.4 1547.0 1284.4 1547.5 1292.5 1548.0 1295.2 1548.5 1292.9 1549.0 1304.7 1549.5 1286.5 1550.0 1294.3 1550.5 1291.8 1551.0 1281.1 1551.5 1291.7 1552.0 1285.3 1552.5 1292.0 1553.0 1301.5 1553.5 1305.5 1554.0 1297.4 1554.5 1281.2 1555.0 1296.5 1555.5 1298.2 1556.0 1292.0 1556.5 1289.9 1557.0 1294.4 1557.5 1294.3 1558.0 1286.3 1558.5 1294.2 1559.0 1283.8 1559.5 1295.3 1560.0 1283.9 1560.5 1290.5 1561.0 1284.0 1561.5 1300.9 1562.0 1303.6 1562.5 1297.1 1563.0 1293.8 1563.5 1293.1 1564.0 1298.0 1564.5 1293.0 1565.0 1279.4 1565.5 1300.8 1566.0 1291.8 1566.5 1301.1 1567.0 1288.3 1567.5 1285.3 1568.0 1283.2 1568.5 1291.5 1569.0 1295.6 1569.5 1284.4 1570.0 1284.7 1570.5 1301.8 1571.0 1319.4 1571.5 1282.8 1572.0 1297.8 1572.5 1299.2 1573.0 1303.9 1573.5 1276.6 1574.0 1294.3 1574.5 1294.9 1575.0 1296.6 1575.5 1275.1 1576.0 1289.3 1576.5 1297.2 1577.0 1286.0 1577.5 1293.0 1578.0 1292.2 1578.5 1288.9 1579.0 1297.3 1579.5 1272.6 1580.0 1290.0 1580.5 1293.7 1581.0 1281.3 1581.5 1291.2 1582.0 1299.0 1582.5 1300.4 1583.0 1307.0 1583.5 1279.9 1584.0 1292.6 1584.5 1293.3 1585.0 1302.1 1585.5 1301.4 1586.0 1300.0 1586.5 1281.8 1587.0 1279.9 1587.5 1299.2 1588.0 1274.2 1588.5 1282.5 1589.0 1297.4 1589.5 1307.9 1590.0 1287.9 1590.5 1294.1 1591.0 1288.0 1591.5 1287.7 1592.0 1287.9 1592.5 1282.5 1593.0 1286.0 1593.5 1292.1 1594.0 1299.6 1594.5 1295.4 1595.0 1285.0 1595.5 1288.1 1596.0 1278.0 1596.5 1272.6 1597.0 1301.9 1597.5 1276.8 1598.0 1287.1 1598.5 1288.2 1599.0 1281.7 1599.5 1280.5 1600.0 1273.0 1600.5 1294.6 1601.0 1284.6 1601.5 1280.7 1602.0 1279.9 1602.5 1286.6 1603.0 1286.6 1603.5 1277.5 1604.0 1277.3 1604.5 1282.8 1605.0 1285.6 1605.5 1281.7 1606.0 1292.5 1606.5 1276.6 1607.0 1287.5 1607.5 1279.2 1608.0 1279.7 1608.5 1292.6 1609.0 1285.2 1609.5 1282.5 1610.0 1275.2 1610.5 1285.0 1611.0 1270.4 1611.5 1275.9 1612.0 1272.5 1612.5 1285.5 1613.0 1271.9 1613.5 1273.9 1614.0 1268.5 1614.5 1282.8 1615.0 1279.8 1615.5 1288.8 1616.0 1289.6 1616.5 1282.4 1617.0 1296.7 1617.5 1276.4 1618.0 1271.1 1618.5 1293.7 1619.0 1288.3 1619.5 1269.4 1620.0 1278.0 1620.5 1266.0 1621.0 1283.4 1621.5 1287.8 1622.0 1272.7 1622.5 1287.4 1623.0 1278.9 1623.5 1265.0 1624.0 1275.4 1624.5 1259.2 1625.0 1270.4 1625.5 1276.7 1626.0 1278.9 1626.5 1288.7 1627.0 1271.6 1627.5 1274.1 1628.0 1286.5 1628.5 1276.7 1629.0 1267.1 1629.5 1279.3 1630.0 1278.7 1630.5 1273.1 1631.0 1285.2 1631.5 1281.7 1632.0 1282.4 1632.5 1281.8 1633.0 1283.0 1633.5 1284.7 1634.0 1275.0 1634.5 1284.4 1635.0 1284.2 1635.5 1263.2 1636.0 1274.4 1636.5 1281.8 1637.0 1276.5 1637.5 1272.3 1638.0 1265.0 1638.5 1281.8 1639.0 1272.2 1639.5 1262.8 1640.0 1274.2 1640.5 1287.1 1641.0 1275.0 1641.5 1258.2 1642.0 1263.2 1642.5 1268.7 1643.0 1275.3 1643.5 1279.6 1644.0 1278.1 1644.5 1262.2 1645.0 1279.9 1645.5 1281.0 1646.0 1271.3 1646.5 1262.7 1647.0 1269.8 1647.5 1263.9 1648.0 1267.4 1648.5 1257.8 1649.0 1262.8 1649.5 1277.2 1650.0 1268.3 1650.5 1268.7 1651.0 1268.2 1651.5 1263.5 1652.0 1272.9 1652.5 1276.8 1653.0 1277.7 1653.5 1275.7 1654.0 1270.8 1654.5 1274.7 1655.0 1276.4 1655.5 1269.2 1656.0 1274.8 1656.5 1261.2 1657.0 1254.9 1657.5 1269.2 1658.0 1259.9 1658.5 1264.0 1659.0 1270.8 1659.5 1256.8 1660.0 1270.9 1660.5 1268.5 1661.0 1267.3 1661.5 1259.2 1662.0 1256.0 1662.5 1271.3 1663.0 1275.7 1663.5 1279.1 1664.0 1266.1 1664.5 1264.6 1665.0 1271.9 1665.5 1265.5 1666.0 1274.6 1666.5 1266.8 1667.0 1257.4 1667.5 1253.5 1668.0 1273.0 1668.5 1257.6 1669.0 1255.6 1669.5 1253.9 1670.0 1258.0 1670.5 1271.3 1671.0 1251.3 1671.5 1272.3 1672.0 1258.6 1672.5 1265.5 1673.0 1267.2 1673.5 1270.7 1674.0 1257.3 1674.5 1263.1 1675.0 1254.7 1675.5 1252.8 1676.0 1251.5 1676.5 1269.8 1677.0 1266.2 1677.5 1264.2 1678.0 1255.3 1678.5 1254.9 1679.0 1286.5 1679.5 1256.3 1680.0 1258.8 1680.5 1264.2 1681.0 1252.2 1681.5 1257.2 1682.0 1263.2 1682.5 1259.8 1683.0 1247.5 1683.5 1256.8 1684.0 1258.5 1684.5 1256.6 1685.0 1283.0 1685.5 1261.9 1686.0 1245.0 1686.5 1265.7 1687.0 1251.2 1687.5 1249.8 1688.0 1229.6 1688.5 1252.6 1689.0 1252.1 1689.5 1249.0 1690.0 1258.3 1690.5 1246.4 1691.0 1243.6 1691.5 1252.2 1692.0 1251.1 1692.5 1237.8 1693.0 1251.5 1693.5 1253.0 1694.0 1266.8 1694.5 1257.9 1695.0 1246.7 1695.5 1264.2 1696.0 1262.4 1696.5 1262.1 1697.0 1252.4 1697.5 1254.7 1698.0 1264.0 1698.5 1278.1 1699.0 1253.2 1699.5 1238.9 1700.0 1253.1 1700.5 1241.7 1701.0 1262.8 1701.5 1253.1 1702.0 1258.9 1702.5 1258.7 1703.0 1250.1 1703.5 1256.4 1704.0 1248.3 1704.5 1240.2 1705.0 1265.2 1705.5 1247.5 1706.0 1238.7 1706.5 1256.9 1707.0 1257.1 1707.5 1257.0 1708.0 1259.0 1708.5 1242.0 1709.0 1240.8 1709.5 1260.4 1710.0 1251.4 1710.5 1244.6 1711.0 1240.2 1711.5 1260.2 1712.0 1241.1 1712.5 1261.0 1713.0 1251.3 1713.5 1247.6 1714.0 1261.4 1714.5 1262.8 1715.0 1242.3 1715.5 1247.4 1716.0 1253.1 1716.5 1249.7 1717.0 1261.4 1717.5 1251.7 1718.0 1254.9 1718.5 1258.7 1719.0 1262.8 1719.5 1248.2 1720.0 1262.9 1720.5 1249.1 1721.0 1261.0 1721.5 1238.3 1722.0 1243.5 1722.5 1245.7 1723.0 1252.1 1723.5 1263.7 1724.0 1238.6 1724.5 1254.1 1725.0 1262.9 1725.5 1260.3 1726.0 1249.7 1726.5 1239.6 1727.0 1256.1 1727.5 1249.4 1728.0 1238.2 1728.5 1245.6 1729.0 1237.7 1729.5 1241.3 1730.0 1247.8 1730.5 1245.8 1731.0 1240.2 1731.5 1246.8 1732.0 1245.2 1732.5 1261.7 1733.0 1250.8 1733.5 1254.6 1734.0 1266.1 1734.5 1251.7 1735.0 1255.5 1735.5 1253.9 1736.0 1262.3 1736.5 1252.3 1737.0 1247.9 1737.5 1262.6 1738.0 1249.6 1738.5 1247.3 1739.0 1259.8 1739.5 1249.8 1740.0 1251.8 1740.5 1249.3 1741.0 1251.5 1741.5 1258.8 1742.0 1238.4 1742.5 1261.0 1743.0 1254.6 1743.5 1255.2 1744.0 1261.7 1744.5 1257.2 1745.0 1223.9 1745.5 1255.4 1746.0 1256.9 1746.5 1261.8 1747.0 1243.5 1747.5 1271.2 1748.0 1259.8 1748.5 1251.8 1749.0 1264.2 1749.5 1245.7 1750.0 1254.0 1750.5 1255.0 1751.0 1257.9 1751.5 1253.8 1752.0 1240.9 1752.5 1261.7 1753.0 1259.7 1753.5 1255.1 1754.0 1268.0 1754.5 1258.2 1755.0 1257.4 1755.5 1244.4 1756.0 1249.7 1756.5 1260.4 1757.0 1263.9 1757.5 1240.2 1758.0 1258.5 1758.5 1251.3 1759.0 1262.6 1759.5 1244.1 1760.0 1242.5 1760.5 1252.2 1761.0 1249.4 1761.5 1252.0 1762.0 1260.4 1762.5 1258.7 1763.0 1248.3 1763.5 1247.8 1764.0 1256.7 1764.5 1240.8 1765.0 1260.7 1765.5 1265.2 1766.0 1242.8 1766.5 1246.7 1767.0 1241.9 1767.5 1249.0 1768.0 1250.3 1768.5 1251.7 1769.0 1270.4 1769.5 1269.8 1770.0 1252.8 1770.5 1243.2 1771.0 1253.8 1771.5 1263.6 1772.0 1261.6 1772.5 1265.5 1773.0 1261.0 1773.5 1252.3 1774.0 1249.2 1774.5 1271.2 1775.0 1246.9 1775.5 1261.6 1776.0 1255.6 1776.5 1266.1 1777.0 1245.5 1777.5 1261.3 1778.0 1247.4 1778.5 1269.6 1779.0 1271.4 1779.5 1260.8 1780.0 1242.3 1780.5 1244.2 1781.0 1264.8 1781.5 1256.5 1782.0 1264.6 1782.5 1270.0 1783.0 1263.5 1783.5 1266.7 1784.0 1262.6 1784.5 1256.5 1785.0 1264.4 1785.5 1256.0 1786.0 1259.2 1786.5 1272.0 1787.0 1271.4 1787.5 1254.9 1788.0 1270.5 1788.5 1274.5 1789.0 1257.9 1789.5 1259.8 1790.0 1257.1 1790.5 1262.0 1791.0 1264.3 1791.5 1276.7 1792.0 1247.1 1792.5 1246.4 1793.0 1290.1 1793.5 1252.9 1794.0 1272.5 1794.5 1243.2 1795.0 1251.9 1795.5 1265.0 1796.0 1261.2 1796.5 1257.3 1797.0 1265.3 1797.5 1266.6 1798.0 1259.9 1798.5 1263.0 1799.0 1267.0 1799.5 1264.7 1800.0 1253.2 1800.5 1267.1 1801.0 1270.3 1801.5 1258.2 1802.0 1276.0 1802.5 1269.0 1803.0 1261.5 1803.5 1249.3 1804.0 1256.0 1804.5 1256.9 1805.0 1275.2 1805.5 1271.6 1806.0 1263.5 1806.5 1270.1 1807.0 1271.2 1807.5 1269.9 1808.0 1267.2 1808.5 1260.3 1809.0 1255.2 1809.5 1269.7 1810.0 1256.3 1810.5 1252.6 1811.0 1278.5 1811.5 1275.1 1812.0 1263.3 1812.5 1269.8 1813.0 1272.1 1813.5 1261.7 1814.0 1251.2 1814.5 1258.8 1815.0 1264.8 1815.5 1260.6 1816.0 1257.8 1816.5 1264.6 1817.0 1259.2 1817.5 1266.2 1818.0 1270.6 1818.5 1268.8 1819.0 1278.4 1819.5 1263.6 1820.0 1269.2 1820.5 1270.4 1821.0 1261.4 1821.5 1255.9 1822.0 1260.0 1822.5 1267.1 1823.0 1256.7 1823.5 1261.7 1824.0 1262.1 1824.5 1261.9 1825.0 1276.3 1825.5 1252.7 1826.0 1251.0 1826.5 1273.2 1827.0 1268.8 1827.5 1270.1 1828.0 1274.8 1828.5 1256.6 1829.0 1278.0 1829.5 1265.1 1830.0 1272.1 1830.5 1282.4 1831.0 1268.2 1831.5 1259.0 1832.0 1263.6 1832.5 1278.2 1833.0 1267.5 1833.5 1265.5 1834.0 1243.9 1834.5 1257.0 1835.0 1261.4 1835.5 1263.8 1836.0 1279.2 1836.5 1271.8 1837.0 1258.1 1837.5 1269.8 1838.0 1267.9 1838.5 1281.5 1839.0 1287.9 1839.5 1277.0 1840.0 1277.2 1840.5 1254.0 1841.0 1263.4 1841.5 1272.9 1842.0 1266.2 1842.5 1274.6 1843.0 1279.1 1843.5 1270.0 1844.0 1280.3 1844.5 1268.7 1845.0 1277.5 1845.5 1261.4 1846.0 1274.4 1846.5 1269.5 1847.0 1269.6 1847.5 1278.6 1848.0 1265.9 1848.5 1275.3 1849.0 1274.3 1849.5 1283.9 1850.0 1273.7 1850.5 1263.5 1851.0 1292.0 1851.5 1279.3 1852.0 1268.5 1852.5 1268.0 1853.0 1265.7 1853.5 1285.5 1854.0 1268.8 1854.5 1268.4 1855.0 1280.7 1855.5 1273.2 1856.0 1278.0 1856.5 1287.6 1857.0 1275.3 1857.5 1279.4 1858.0 1267.6 1858.5 1281.6 1859.0 1278.2 1859.5 1273.1 1860.0 1279.8 1860.5 1278.2 1861.0 1268.5 1861.5 1271.5 1862.0 1283.3 1862.5 1269.5 1863.0 1266.1 1863.5 1273.6 1864.0 1276.3 1864.5 1277.0 1865.0 1277.1 1865.5 1287.8 1866.0 1273.4 1866.5 1273.4 1867.0 1272.9 1867.5 1287.5 1868.0 1290.3 1868.5 1280.9 1869.0 1275.8 1869.5 1287.0 1870.0 1279.9 1870.5 1271.4 1871.0 1277.3 1871.5 1262.6 1872.0 1269.9 1872.5 1277.4 1873.0 1292.9 1873.5 1294.4 1874.0 1280.8 1874.5 1274.0 1875.0 1265.2 1875.5 1285.2 1876.0 1262.9 1876.5 1284.3 1877.0 1285.7 1877.5 1272.4 1878.0 1288.9 1878.5 1279.2 1879.0 1276.5 1879.5 1286.5 1880.0 1270.8 1880.5 1281.7 1881.0 1272.5 1881.5 1291.6 1882.0 1280.6 1882.5 1279.2 1883.0 1269.0 1883.5 1293.6 1884.0 1279.5 1884.5 1287.0 1885.0 1288.3 1885.5 1281.6 1886.0 1278.4 1886.5 1243.3 1887.0 1276.1 1887.5 1281.2 1888.0 1264.4 1888.5 1275.5 1889.0 1287.7 1889.5 1288.4 1890.0 1302.6 1890.5 1292.1 1891.0 1312.2 1891.5 1273.8 1892.0 1287.2 1892.5 1286.4 1893.0 1290.7 1893.5 1293.7 1894.0 1275.2 1894.5 1270.4 1895.0 1281.2 1895.5 1274.0 1896.0 1281.4 1896.5 1279.0 1897.0 1275.5 1897.5 1282.9 1898.0 1287.4 1898.5 1288.7 1899.0 1264.4 1899.5 1275.9 1900.0 1268.5 1900.5 1289.6 1901.0 1280.7 1901.5 1277.2 1902.0 1275.3 1902.5 1283.5 1903.0 1269.2 1903.5 1277.8 1904.0 1291.1 1904.5 1281.4 1905.0 1276.3 1905.5 1285.0 1906.0 1291.6 1906.5 1267.6 1907.0 1266.3 1907.5 1274.2 1908.0 1273.8 1908.5 1294.7 1909.0 1285.2 1909.5 1285.6 1910.0 1285.7 1910.5 1277.5 1911.0 1280.5 1911.5 1276.8 1912.0 1294.3 1912.5 1286.4 1913.0 1294.4 1913.5 1279.5 1914.0 1279.3 1914.5 1270.1 1915.0 1266.0 1915.5 1289.7 1916.0 1269.8 1916.5 1282.0 1917.0 1289.0 1917.5 1289.7 1918.0 1280.7 1918.5 1284.6 1919.0 1275.4 1919.5 1292.6 1920.0 1271.6 1920.5 1274.0 1921.0 1275.1 1921.5 1281.6 1922.0 1274.1 1922.5 1268.7 1923.0 1288.3 1923.5 1273.2 1924.0 1273.0 1924.5 1292.6 1925.0 1288.8 1925.5 1284.8 1926.0 1288.1 1926.5 1277.8 1927.0 1312.4 1927.5 1276.2 1928.0 1281.3 1928.5 1284.9 1929.0 1279.4 1929.5 1291.0 1930.0 1276.1 1930.5 1278.7 1931.0 1285.7 1931.5 1253.7 1932.0 1272.0 1932.5 1287.8 1933.0 1270.6 1933.5 1271.9 1934.0 1285.7 1934.5 1282.0 1935.0 1284.1 1935.5 1273.6 1936.0 1285.2 1936.5 1278.7 1937.0 1284.8 1937.5 1293.1 1938.0 1309.9 1938.5 1284.9 1939.0 1279.2 1939.5 1289.5 1940.0 1292.8 1940.5 1286.8 1941.0 1279.8 1941.5 1293.8 1942.0 1293.9 1942.5 1275.3 1943.0 1271.4 1943.5 1284.8 1944.0 1276.1 1944.5 1290.2 1945.0 1290.5 1945.5 1275.3 1946.0 1275.7 1946.5 1287.7 1947.0 1267.9 1947.5 1275.6 1948.0 1283.5 1948.5 1258.8 1949.0 1289.7 1949.5 1278.9 1950.0 1279.5 1950.5 1273.1 1951.0 1279.3 1951.5 1285.9 1952.0 1291.7 1952.5 1282.3 1953.0 1282.7 1953.5 1284.0 1954.0 1278.3 1954.5 1286.4 1955.0 1292.5 1955.5 1291.1 1956.0 1271.4 1956.5 1276.2 1957.0 1275.0 1957.5 1261.4 1958.0 1290.9"/>
<path stroke="#ff0000" d="M227.0 884.3L227.5 884.9 228.0 899.2 228.5 878.0 229.0 889.2 229.5 898.2 230.0 880.0 230.5 878.0 231.0 884.3 231.5 895.7 232.0 889.3 232.5 881.4 233.0 888.8 233.5 893.0 234.0 886.6 234.5 892.3 235.0 916.2 235.5 892.0 236.0 883.2 236.5 882.4 237.0 882.5 237.5 886.0 238.0 897.4 238.5 895.0 239.0 882.1 239.5 895.5 240.0 886.9 240.5 892.8 241.0 874.2 241.5 878.6 242.0 876.0 242.5 896.2 243.0 889.2 243.5 893.4 244.0 890.1 244.5 885.6 245.0 889.1 245.5 889.5 246.0 898.8 246.5 880.6 247.0 892.7 247.5 886.9 248.0 890.4 248.5 884.4 249.0 887.3 249.5 882.3 250.0 882.8 250.5 873.3 251.0 871.6 251.5 869.4 252.0 887.5 252.5 882.6 253.0 892.1 253.5 890.4 254.0 876.1 254.5 889.2 255.0 880.2 255.5 885.7 256.0 875.9 256.5 871.6 257.0 872.0 257.5 870.1 258.0 883.3 258.5 866.1 259.0 866.1 259.5 884.8 260.0 868.1 260.5 874.7 261.0 874.4 261.5 878.2 262.0 873.5 262.5 883.9 263.0 882.5 263.5 875.1 264.0 879.5 264.5 890.5 265.0 884.9 265.5 868.0 266.0 877.9 266.5 870.6 267.0 860.5 267.5 870.0 268.0 881.2 268.5 879.3 269.0 858.5 269.5 863.3 270.0 858.8 270.5 879.8 271.0 861.6 271.5 858.8 272.0 881.0 272.5 869.2 273.0 866.5 273.5 857.0 274.0 868.0 274.5 867.1 275.0 865.6 275.5 856.6 276.0 854.7 276.5 857.8 277.0 866.7 277.5 860.7 278.0 869.8 278.5 864.3 279.0 877.6 279.5 883.9 280.0 858.6 280.5 861.8 281.0 866.5 281.5 871.6 282.0 853.8 282.5 861.8 283.0 864.5 283.5 870.0 284.0 878.0 284.5 878.7 285.0 877.3 285.5 851.4 286.0 879.6 286.5 869.6 287.0 851.6 287.5 841.7 288.0 863.7 288.5 860.5 289.0 860.4 289.5 872.6 290.0 872.9 290.5 862.2 291.0 873.5 291.5 861.9 292.0 879.1 292.5 863.7 293.0 877.6 293.5 847.8 294.0 873.7 294.5 864.6 295.0 864.3 295.5 849.3 296.0 865.5 296.5 855.3 297.0 845.8 297.5 842.6 298.0 879.1 298.5 868.0 299.0 846.8 299.5 851.1 300.0 856.2 300.5 868.2 301.0 841.7 301.5 876.7 302.0 879.8 302.5 851.3 303.0 859.5 303.5 854.3 304.0 860.9 304.5 843.7 305.0 859.4 305.5 864.6 306.0 862.3 306.5 865.0 307.0 871.1 307.5 847.9 308.0 849.3 308.5 850.9 309.0 855.4 309.5 877.3 310.0 869.9 310.5 860.9 311.0 875.1 311.5 829.2 312.0 847.6 312.5 851.7 313.0 850.2 313.5 860.7 314.0 886.0 314.5 843.7 315.0 859.8 315.5 860.5 316.0 860.0 316.5 871.5 317.0 866.4 317.5 867.3 318.0 843.5 318.5 846.4 319.0 845.4 319.5 864.8 320.0 868.5 320.5 840.6 321.0 865.7 321.5 862.8 322.0 868.4 322.5 846.0 323.0 861.2 323.5 845.5 324.0 845.4 324.5 863.5 325.0 843.5 325.5 859.2 326.0 849.3 326.5 856.6 327.0 865.9 327.5 846.6 328.0 854.0 328.5 852.0 329.0 847.1 329.5 852.1 330.0 847.0 330.5 866.8 331.0 861.1 331.5 847.4 332.0 872.2 332.5 824.7 333.0 865.5 333.5 863.3 334.0 853.2 334.5 839.3 335.0 868.5 335.5 876.1 336.0 846.8 336.5 851.4 337.0 854.6 337.5 861.6 338.0 877.3 338.5 875.3 339.0 874.5 339.5 849.0 340.0 861.8 340.5 856.0 341.0 848.7 341.5 838.6 342.0 849.1 342.5 852.0 343.0 843.2 343.5 844.2 344.0 842.0 344.5 866.6 345.0 862.8 345.5 851.3 346.0 861.4 346.5 856.0 347.0 865.5 347.5 877.1 348.0 855.2 348.5 863.8 349.0 851.4 349.5 874.9 350.0 871.9 350.5 850.8 351.0 852.3 351.5 853.6 352.0 849.7 352.5 856.0 353.0 872.3 353.5 866.2 354.0 845.4 354.5 859.1 355.0 855.6 355.5 880.0 356.0 850.4 356.5 859.5 357.0 859.0 357.5 859.2 358.0 878.4 358.5 851.8 359.0 858.7 359.5 847.8 360.0 874.7 360.5 862.1 361.0 871.3 361.5 858.0 362.0 854.9 362.5 867.0 363.0 880.8 363.5 884.8 364.0 862.2 364.5 887.8 365.0 861.9 365.5 872.5 366.0 865.3 366.5 871.5 367.0 857.2 367.5 890.3 368.0 867.8 368.5 885.7 369.0 858.9 369.5 875.2 370.0 852.2 370.5 879.1 371.0 868.2 371.5 873.6 372.0 860.5 372.5 867.4 373.0 885.3 373.5 861.7 374.0 871.8 374.5 868.9 375.0 866.0 375.5 862.0 376.0 892.8 376.5 892.8 377.0 870.1 377.5 876.2 378.0 891.3 378.5 884.5 379.0 895.2 379.5 903.8 380.0 879.3 380.5 887.7 381.0 882.0 381.5 878.8 382.0 874.9 382.5 889.4 383.0 884.5 383.5 890.3 384.0 885.1 384.5 905.6 385.0 895.9 385.5 869.3 386.0 898.4 386.5 900.5 387.0 898.0 387.5 880.1 388.0 883.9 388.5 881.0 389.0 868.5 389.5 886.7 390.0 903.6 390.5 901.0 391.0 897.4 391.5 906.7 392.0 882.0 392.5 876.5 393.0 908.6 393.5 884.6 394.0 913.9 394.5 888.4 395.0 880.0 395.5 900.1 396.0 881.4 396.5 910.3 397.0 891.1 397.5 910.0 398.0 882.7 398.5 903.7 399.0 902.3 399.5 882.7 400.0 908.3 400.5 888.1 401.0 895.7 401.5 894.7 402.0 907.7 402.5 890.5 403.0 887.2 403.5 912.5 404.0 917.6 404.5 906.8 405.0 895.5 405.5 914.9 406.0 902.6 406.5 896.2 407.0 923.2 407.5 893.7 408.0 913.0 408.5 911.7 409.0 916.2 409.5 913.2 410.0 915.8 410.5 921.1 411.0 926.2 411.5 906.7 412.0 902.8 412.5 927.8 413.0 902.8 413.5 907.6 414.0 925.2 414.5 934.2 415.0 931.2 415.5 918.6 416.0 913.6 416.5 935.0 417.0 925.7 417.5 923.5 418.0 900.4 418.5 907.2 419.0 907.6 419.5 933.7 420.0 908.1 420.5 913.9 421.0 928.0 421.5 913.8 422.0 921.5 422.5 943.0 423.0 938.6 423.5 919.1 424.0 938.0 424.5 923.2 425.0 926.0 425.5 920.2 426.0 940.4 426.5 919.2 427.0 934.4 427.5 932.4 428.0 937.4 428.5 917.8 429.0 926.7 429.5 948.9 430.0 929.2 430.5 922.6 431.0 916.8 431.5 926.9 432.0 939.5 432.5 915.3 433.0 922.9 433.5 933.3 434.0 944.8 434.5 936.2 435.0 939.5 435.5 928.2 436.0 927.1 436.5 933.4 437.0 929.7 437.5 935.9 438.0 927.8 438.5 954.1 439.0 939.8 439.5 924.2 440.0 928.7 440.5 951.5 441.0 938.5 441.5 931.3 442.0 926.2 442.5 945.4 443.0 944.7 443.5 957.6 444.0 931.6 444.5 952.5 445.0 949.5 445.5 955.0 446.0 953.5 446.5 945.9 447.0 931.3 447.5 950.2 448.0 930.1 448.5 934.1 449.0 951.0 449.5 933.4 450.0 944.0 450.5 960.6 451.0 938.3 451.5 962.4 452.0 960.7 452.5 941.4 453.0 948.7 453.5 954.9 454.0 954.8 454.5 944.7 455.0 961.2 455.5 951.0 456.0 942.9 456.5 961.8 457.0 960.1 457.5 964.7 458.0 959.3 458.5 949.9 459.0 956.9 459.5 953.9 460.0 965.9 460.5 942.5 461.0 963.1 461.5 964.8 462.0 948.1 462.5 947.9 463.0 970.3 463.5 969.8 464.0 947.6 464.5 975.5 465.0 959.9 465.5 961.5 466.0 961.9 466.5 955.6 467.0 968.0 467.5 965.0 468.0 969.8 468.5 962.7 469.0 973.1 469.5 958.4 470.0 960.6 470.5 962.5 471.0 947.0 471.5 966.0 472.0 952.5 472.5 972.3 473.0 951.3 473.5 966.1 474.0 966.3 474.5 961.4 475.0 951.7 475.5 999.1 476.0 957.8 476.5 957.6 477.0 966.8 477.5 975.0 478.0 956.1 478.5 962.2 479.0 969.8 479.5 957.2 480.0 975.8 480.5 967.5 481.0 955.7 481.5 956.1 482.0 956.6 482.5 965.9 483.0 974.2 483.5 973.2 484.0 958.4 484.5 961.7 485.0 967.7 485.5 963.8 486.0 967.8 486.5 961.9 487.0 976.8 487.5 970.3 488.0 978.6 488.5 960.5 489.0 970.0 489.5 966.3 490.0 981.4 490.5 974.6 491.0 976.6 491.5 964.3 492.0 975.5 492.5 982.1 493.0 980.1 493.5 985.0 494.0 977.3 494.5 976.1 495.0 964.7 495.5 980.7 496.0 983.5 496.5 980.9 497.0 979.1 497.5 976.1 498.0 986.7 498.5 978.9 499.0 974.0 499.5 978.0 500.0 980.9 500.5 969.9 501.0 991.3 501.5 986.9 502.0 970.3 502.5 971.3 503.0 949.8 503.5 988.8 504.0 970.4 504.5 987.0 505.0 976.4 505.5 971.5 506.0 974.7 506.5 977.2 507.0 983.6 507.5 977.3 508.0 969.9 508.5 993.1 509.0 981.0 509.5 973.8 510.0 994.1 510.5 987.2 511.0 981.3 511.5 970.7 512.0 988.1 512.5 969.5 513.0 993.6 513.5 989.7 514.0 985.7 514.5 988.3 515.0 991.5 515.5 982.8 516.0 991.4 516.5 973.9 517.0 986.8 517.5 990.3 518.0 981.3 518.5 973.3 519.0 997.2 519.5 991.6 520.0 973.5 520.5 989.1 521.0 978.2 521.5 980.4 522.0 996.4 522.5 987.7 523.0 991.4 523.5 978.9 524.0 993.8 524.5 990.5 525.0 983.1 525.5 984.1 526.0 979.0 526.5 987.2 527.0 977.6 527.5 984.3 528.0 985.3 528.5 983.3 529.0 981.5 529.5 977.4 530.0 990.7 530.5 986.8 531.0 996.7 531.5 998.8 532.0 996.8 532.5 985.0 533.0 993.3 533.5 977.3 534.0 977.6 534.5 995.1 535.0 991.7 535.5 996.4 536.0 981.2 536.5 986.8 537.0 993.9 537.5 990.8 538.0 994.8 538.5 984.5 539.0 996.5 539.5 997.5 540.0 997.6 540.5 984.4 541.0 996.9 541.5 988.0 542.0 989.0 542.5 998.6 543.0 993.5 543.5 989.5 544.0 985.8 544.5 991.7 545.0 990.9 545.5 990.6 546.0 991.6 546.5 985.7 547.0 981.6 547.5 1000.9 548.0 992.0 548.5 983.9 549.0 986.5 549.5 994.9 550.0 987.1 550.5 999.9 551.0 995.4 551.5 995.7 552.0 994.1 552.5 985.8 553.0 1000.3 553.5 999.3 554.0 981.7 554.5 994.4 555.0 995.3 555.5 989.7 556.0 988.9 556.5 990.7 557.0 995.7 557.5 993.8 558.0 986.2 558.5 986.8 559.0 983.5 559.5 994.9 560.0 994.1 560.5 989.7 561.0 991.3 561.5 995.8 562.0 985.9 562.5 985.9 563.0 1000.1 563.5 986.8 564.0 986.8 564.5 996.5 565.0 1001.9 565.5 981.9 566.0 989.1 566.5 997.8 567.0 983.1 567.5 986.9 568.0 995.5 568.5 996.4 569.0 984.8 569.5 989.4 570.0 992.2 570.5 990.1 571.0 990.9 571.5 999.1 572.0 1001.1 572.5 987.7 573.0 987.1 573.5 975.7 574.0 981.9 574.5 984.9 575.0 990.8 575.5 998.8 576.0 986.9 576.5 983.6 577.0 993.6 577.5 986.6 578.0 980.2 578.5 981.3 579.0 997.9 579.5 982.6 580.0 992.9 580.5 989.9 581.0 994.4 581.5 987.8 582.0 982.1 582.5 957.6 583.0 982.5 583.5 983.5 584.0 986.5 584.5 983.2 585.0 989.7 585.5 988.6 586.0 977.8 586.5 985.6 587.0 999.0 587.5 1000.0 588.0 983.0 588.5 980.2 589.0 984.8 589.5 980.0 590.0 981.8 590.5 997.7 591.0 995.7 591.5 984.9 592.0 989.0 592.5 990.4 593.0 990.5 593.5 991.5 594.0 989.8 594.5 989.5 595.0 976.0 595.5 988.4 596.0 990.4 596.5 978.3 597.0 979.3 597.5 990.1 598.0 979.7 598.5 990.9 599.0 976.3 599.5 985.9 600.0 987.2 600.5 973.7 601.0 977.3 601.5 979.0 602.0 976.0 602.5 973.5 603.0 972.7 603.5 982.7 604.0 972.6 604.5 981.8 605.0 981.4 605.5 978.0 606.0 973.6 606.5 985.0 607.0 967.6 607.5 992.3 608.0 982.2 608.5 990.3 609.0 981.4 609.5 976.9 610.0 978.0 610.5 991.3 611.0 982.0 611.5 978.6 612.0 972.9 612.5 975.0 613.0 976.0 613.5 982.7 614.0 990.2 614.5 974.8 615.0 982.5 615.5 974.8 616.0 980.6 616.5 983.7 617.0 993.6 617.5 977.1 618.0 983.2 618.5 993.2 619.0 989.8 619.5 978.3 620.0 994.7 620.5 1002.7 621.0 995.3 621.5 1003.4 622.0 998.7 622.5 990.9 623.0 997.2 623.5 999.3 624.0 986.6 624.5 992.9 625.0 1004.7 625.5 1001.4 626.0 994.2 626.5 1002.4 627.0 1002.5 627.5 990.4 628.0 996.9 628.5 1004.8 629.0 990.4 629.5 988.6 630.0 990.3 630.5 993.8 631.0 1006.2 631.5 994.9 632.0 1005.9 632.5 1003.8 633.0 1003.6 633.5 990.9 634.0 997.9 634.5 1006.7 635.0 1003.5 635.5 991.2 636.0 1000.3 636.5 999.1 637.0 1002.9 637.5 998.4 638.0 1003.6 638.5 998.3 639.0 1005.6 639.5 1009.3 640.0 1006.3 640.5 1006.1 641.0 987.4 641.5 989.2 642.0 992.1 642.5 1001.7 643.0 996.3 643.5 990.9 644.0 1013.1 644.5 997.5 645.0 993.4 645.5 999.1 646.0 1013.5 646.5 1007.9 647.0 1010.9 647.5 989.3 648.0 1008.6 648.5 1001.5 649.0 997.9 649.5 1002.4 650.0 1003.5 650.5 1009.6 651.0 1012.3 651.5 1002.4 652.0 1001.3 652.5 1007.7 653.0 1002.8 653.5 995.4 654.0 1012.9 654.5 990.3 655.0 996.1 655.5 1006.5 656.0 1016.9 656.5 1016.1 657.0 1009.1 657.5 1001.2 658.0 1015.0 658.5 1012.4 659.0 1009.8 659.5 1006.2 660.0 1017.6 660.5 999.6 661.0 1014.0 661.5 1018.0 662.0 1007.9 662.5 1004.2 663.0 1014.3 663.5 1009.4 664.0 1004.0 664.5 1002.1 665.0 1014.4 665.5 1002.8 666.0 1009.6 666.5 1009.9 667.0 1017.8 667.5 1000.8 668.0 1013.4 668.5 1000.7 669.0 1021.2 669.5 1000.4 670.0 1019.2 670.5 1011.4 671.0 1004.4 671.5 1009.5 672.0 1005.2 672.5 1021.9 673.0 1015.4 673.5 1011.4 674.0 1018.5 674.5 1020.4 675.0 1006.0 675.5 1002.1 676.0 1016.6 676.5 1007.8 677.0 1004.1 677.5 1018.5 678.0 1013.6 678.5 1006.4 679.0 1013.3 679.5 1013.8 680.0 1017.7 680.5 1010.0 681.0 1011.3 681.5 1005.1 682.0 1019.5 682.5 1018.0 683.0 1001.5 683.5 1016.8 684.0 1018.5 684.5 1019.1 685.0 1016.6 685.5 1006.4 686.0 1019.3 686.5 1008.3 687.0 1019.3 687.5 1014.6 688.0 1014.3 688.5 1021.0 689.0 1019.4 689.5 1007.0 690.0 1008.7 690.5 1018.7 691.0 1011.2 691.5 1015.5 692.0 1005.9 692.5 1006.2 693.0 1006.2 693.5 1001.4 694.0 1008.4 694.5 1003.0 695.0 1006.4 695.5 1006.8 696.0 1002.0 696.5 1005.1 697.0 1010.6 697.5 1019.4 698.0 1008.9 698.5 1010.2 699.0 1018.0 699.5 1008.6 700.0 1006.3 700.5 1008.6 701.0 1016.3 701.5 1006.6 702.0 1012.3 702.5 1007.4 703.0 1009.4 703.5 1009.8 704.0 1007.9 704.5 1002.6 705.0 1005.6 705.5 998.9 706.0 1015.2 706.5 1013.1 707.0 1014.2 707.5 1006.4 708.0 1008.7 708.5 1010.3 709.0 1001.4 709.5 1009.9 710.0 1005.2 710.5 1005.6 711.0 1001.9 711.5 1002.3 712.0 998.8 712.5 1009.4 713.0 1004.0 713.5 1000.6 714.0 1016.7 714.5 1015.2 715.0 1004.0 715.5 1008.4 716.0 1002.2 716.5 1015.7 717.0 1004.5 717.5 1012.1 718.0 1010.2 718.5 996.0 719.0 995.5 719.5 1003.1 720.0 998.7 720.5 1012.9 721.0 1014.2 721.5 1008.5 722.0 1001.5 722.5 998.4 723.0 997.1 723.5 1005.5 724.0 1004.9 724.5 998.6 725.0 1007.7 725.5 1011.9 726.0 1006.6 726.5 1015.5 727.0 1010.0 727.5 1004.7 728.0 1000.2 728.5 996.8 729.0 1011.3 729.5 1001.6 730.0 1007.4 730.5 1003.5 731.0 1008.8 731.5 1006.3 732.0 1003.2 732.5 1004.5 733.0 1006.7 733.5 990.2 734.0 1008.3 734.5 994.4 735.0 1000.1 735.5 1001.5 736.0 1005.5 736.5 996.6 737.0 1003.5 737.5 1002.3 738.0 992.7 738.5 1001.7 739.0 995.7 739.5 1004.1 740.0 1004.2 740.5 996.7 741.0 982.9 741.5 1006.7 742.0 999.8 742.5 987.9 743.0 1002.0 743.5 993.4 744.0 988.7 744.5 990.7 745.0 995.6 745.5 991.3 746.0 982.5 746.5 986.5 747.0 987.7 747.5 994.6 748.0 989.2 748.5 988.0 749.0 999.7 749.5 991.8 750.0 1004.7 750.5 1000.4 751.0 998.3 751.5 993.0 752.0 994.6 752.5 1000.5 753.0 974.6 753.5 987.0 754.0 993.6 754.5 979.4 755.0 975.6 755.5 985.7 756.0 974.8 756.5 973.2 757.0 971.6 757.5 987.0 758.0 971.2 758.5 992.9 759.0 982.9 759.5 977.5 760.0 975.3 760.5 975.7 761.0 974.6 761.5 987.9 762.0 982.0 762.5 968.4 763.0 982.0 763.5 991.4 764.0 988.1 764.5 968.7 765.0 977.5 765.5 981.1 766.0 962.1 766.5 969.7 767.0 967.0 767.5 980.0 768.0 960.8 768.5 983.5 769.0 959.2 769.5 981.4 770.0 971.1 770.5 962.2 771.0 965.0 771.5 979.7 772.0 965.6 772.5 975.8 773.0 978.0 773.5 960.9 774.0 968.7 774.5 967.0 775.0 977.8 775.5 952.0 776.0 963.8 776.5 969.5 777.0 955.5 777.5 955.6 778.0 966.3 778.5 963.9 779.0 964.8 779.5 971.7 780.0 953.6 780.5 972.0 781.0 953.9 781.5 967.7 782.0 966.8 782.5 966.0 783.0 962.1 783.5 966.3 784.0 952.3 784.5 958.0 785.0 946.0 785.5 961.3 786.0 966.2 786.5 967.2 787.0 948.7 787.5 961.7 788.0 956.2 788.5 950.9 789.0 946.1 789.5 952.0 790.0 947.5 790.5 962.6 791.0 957.3 791.5 930.6 792.0 954.1 792.5 951.6 793.0 960.9 793.5 944.0 794.0 953.4 794.5 947.7 795.0 938.9 795.5 937.2 796.0 953.4 796.5 928.0 797.0 936.4 797.5 942.5 798.0 936.3 798.5 947.5 799.0 930.9 799.5 948.9 800.0 945.7 800.5 944.8 801.0 953.0 801.5 932.3 802.0 938.7 802.5 927.2 803.0 931.5 803.5 940.7 804.0 947.4 804.5 927.5 805.0 947.3 805.5 945.5 806.0 938.3 806.5 953.0 807.0 936.9 807.5 949.8 808.0 948.7 808.5 935.1 809.0 946.0 809.5 939.6 810.0 937.6 810.5 940.4 811.0 944.3 811.5 947.9 812.0 942.2 812.5 943.8 813.0 929.7 813.5 923.2 814.0 922.6 814.5 924.9 815.0 920.2 815.5 937.2 816.0 918.4 816.5 930.9 817.0 927.5 817.5 939.1 818.0 932.3 818.5 923.4 819.0 941.6 819.5 946.5 820.0 938.7 820.5 918.8 821.0 943.4 821.5 924.2 822.0 946.3 822.5 940.4 823.0 939.4 823.5 921.6 824.0 927.5 824.5 926.9 825.0 943.1 825.5 921.2 826.0 931.6 826.5 941.5 827.0 947.8 827.5 933.9 828.0 908.5 828.5 946.9 829.0 943.3 829.5 937.3 830.0 923.5 830.5 932.8 831.0 950.2 831.5 944.0 832.0 941.0 832.5 940.2 833.0 930.4 833.5 948.7 834.0 953.4 834.5 927.3 835.0 943.0 835.5 935.5 836.0 948.4 836.5 931.7 837.0 931.5 837.5 941.5 838.0 939.5 838.5 949.0 839.0 959.3 839.5 937.6 840.0 940.1 840.5 935.1 841.0 943.6 841.5 938.9 842.0 953.0 842.5 945.6 843.0 950.0 843.5 958.3 844.0 958.9 844.5 944.7 845.0 949.2 845.5 954.5 846.0 953.7 846.5 943.3 847.0 959.4 847.5 958.4 848.0 952.2 848.5 945.4 849.0 960.7 849.5 941.2 850.0 942.9 850.5 957.4 851.0 956.2 851.5 975.8 852.0 952.1 852.5 952.3 853.0 957.0 853.5 970.1 854.0 964.8 854.5 950.5 855.0 951.3 855.5 969.3 856.0 963.6 856.5 962.1 857.0 953.1 857.5 952.8 858.0 953.4 858.5 974.0 859.0 974.3 859.5 964.0 860.0 969.3 860.5 954.2 861.0 962.1 861.5 980.9 862.0 966.5 862.5 967.9 863.0 967.5 863.5 977.1 864.0 960.3 864.5 972.0 865.0 974.9 865.5 957.9 866.0 964.1 866.5 971.3 867.0 982.3 867.5 974.8 868.0 969.5 868.5 973.5 869.0 968.9 869.5 959.6 870.0 961.9 870.5 974.9 871.0 977.2 871.5 968.5 872.0 966.6 872.5 958.9 873.0 978.2 873.5 966.5 874.0 975.9 874.5 984.9 875.0 979.5 875.5 975.6 876.0 965.8 876.5 975.5 877.0 985.4 877.5 969.0 878.0 984.2 878.5 975.1 879.0 980.5 879.5 978.7 880.0 973.3 880.5 973.7 881.0 964.8 881.5 965.8 882.0 972.5 882.5 977.6 883.0 971.9 883.5 983.1 884.0 978.4 884.5 985.3 885.0 981.9 885.5 972.6 886.0 972.4 886.5 978.9 887.0 977.7 887.5 968.8 888.0 969.7 888.5 975.8 889.0 983.8 889.5 976.2 890.0 969.7 890.5 972.3 891.0 980.7 891.5 988.8 892.0 971.7 892.5 986.1 893.0 988.5 893.5 989.8 894.0 984.9 894.5 986.6 895.0 986.1 895.5 989.2 896.0 980.8 896.5 995.6 897.0 971.8 897.5 975.0 898.0 987.7 898.5 993.2 899.0 981.9 899.5 985.2 900.0 992.8 900.5 992.3 901.0 977.5 901.5 991.8 902.0 982.4 902.5 994.0 903.0 992.5 903.5 996.8 904.0 991.1 904.5 978.2 905.0 984.9 905.5 978.0 906.0 996.5 906.5 1003.4 907.0 987.5 907.5 998.0 908.0 983.9 908.5 990.0 909.0 989.3 909.5 989.9 910.0 983.0 910.5 984.6 911.0 982.8 911.5 994.4 912.0 989.2 912.5 1001.2 913.0 997.5 913.5 987.5 914.0 985.2 914.5 999.8 915.0 1000.9 915.5 993.4 916.0 995.8 916.5 1004.9 917.0 1005.3 917.5 986.6 918.0 995.6 918.5 1003.6 919.0 997.7 919.5 986.3 920.0 994.9 920.5 994.6 921.0 993.8 921.5 1007.0 922.0 1004.3 922.5 1009.5 923.0 1004.8 923.5 1010.1 924.0 999.5 924.5 1009.1 925.0 998.8 925.5 1004.7 926.0 992.6 926.5 1006.2 927.0 998.9 927.5 1007.5 928.0 996.8 928.5 997.3 929.0 999.1 929.5 1009.8 930.0 1003.0 930.5 998.0 931.0 998.8 931.5 998.6 932.0 1009.1 932.5 1006.4 933.0 998.0 933.5 1008.8 934.0 999.2 934.5 1008.3 935.0 1009.2 935.5 1008.9 936.0 995.6 936.5 998.0 937.0 1008.2 937.5 1005.4 938.0 1011.2 938.5 1006.4 939.0 1006.2 939.5 1009.4 940.0 1012.0 940.5 1004.1 941.0 1009.3 941.5 1009.9 942.0 996.2 942.5 1004.1 943.0 1004.4 943.5 1004.7 944.0 1011.7 944.5 995.7 945.0 995.8 945.5 1010.2 946.0 999.5 946.5 1004.0 947.0 1001.2 947.5 1010.1 948.0 1007.1 948.5 995.3 949.0 1012.7 949.5 1004.2 950.0 1000.8 950.5 997.5 951.0 996.6 951.5 1017.9 952.0 1001.1 952.5 1002.2 953.0 1004.8 953.5 996.1 954.0 1009.7 954.5 1006.8 955.0 1011.3 955.5 1005.6 956.0 1003.4 956.5 1008.9 957.0 1013.9 957.5 1009.5 958.0 1012.6 958.5 1001.2 959.0 1011.4 959.5 1003.4 960.0 1002.9 960.5 998.7 961.0 1012.9 961.5 1000.8 962.0 1001.2 962.5 1005.4 963.0 1004.1 963.5 1013.9 964.0 1001.4 964.5 996.8 965.0 1000.6 965.5 1012.5 966.0 1013.5 966.5 1014.7 967.0 1007.3 967.5 998.9 968.0 1008.3 968.5 1002.7 969.0 1000.1 969.5 1003.7 970.0 1011.8 970.5 1009.2 971.0 1011.1 971.5 1011.7 972.0 1010.0 972.5 1012.4 973.0 1016.6 973.5 1008.3 974.0 1012.2 974.5 1006.3 975.0 1002.9 975.5 1012.2 976.0 1011.0 976.5 1014.7 977.0 1006.9 977.5 1001.2 978.0 1014.2 978.5 1003.4 979.0 1014.7 979.5 1001.6 980.0 1002.6 980.5 1004.5 981.0 1002.5 981.5 1015.4 982.0 1001.2 982.5 1005.2 983.0 1007.0 983.5 1009.2 984.0 1012.5 984.5 1009.5 985.0 1004.2 985.5 1003.4 986.0 1017.2 986.5 1008.6 987.0 1006.3 987.5 1007.3 988.0 1005.2 988.5 1015.3 989.0 1004.2 989.5 1013.8 990.0 1008.1 990.5 1013.1 991.0 1020.5 991.5 1010.7 992.0 1006.4 992.5 1014.6 993.0 1007.7 993.5 1008.0 994.0 1019.6 994.5 1005.0 995.0 1008.2 995.5 1009.5 996.0 1017.0 996.5 1017.3 997.0 1007.9 997.5 1001.5 998.0 1004.2 998.5 1005.6 999.0 1020.2 999.5 1011.1 1000.0 1013.4 1000.5 1017.1 1001.0 1009.3 1001.5 1005.5 1002.0 1018.6 1002.5 1006.1 1003.0 1009.0 1003.5 1004.1 1004.0 1015.7 1004.5 1018.7 1005.0 1010.3 1005.5 1003.5 1006.0 1010.7 1006.5 1007.9 1007.0 1007.9 1007.5 1016.0 1008.0 1014.5 1008.5 1015.5 1009.0 1010.2 1009.5 1014.5 1010.0 1012.4 1010.5 1008.0 1011.0 1006.0 1011.5 1018.4 1012.0 1009.9 1012.5 1025.5 1013.0 1020.5 1013.5 1011.5 1014.0 1020.3 1014.5 1012.7 1015.0 1019.1 1015.5 1023.8 1016.0 1003.5 1016.5 1020.1 1017.0 1009.2 1017.5 1009.4 1018.0 1018.9 1018.5 1007.2 1019.0 1014.4 1019.5 1007.1 1020.0 1007.3 1020.5 1014.0 1021.0 1007.4 1021.5 1024.6 1022.0 1004.2 1022.5 1008.9 1023.0 1025.1 1023.5 1009.7 1024.0 1017.6 1024.5 1006.6 1025.0 1022.0 1025.5 1015.7 1026.0 1020.8 1026.5 1020.1 1027.0 1018.6 1027.5 1013.7 1028.0 1016.8 1028.5 1021.3 1029.0 1014.5 1029.5 1019.6 1030.0 1009.0 1030.5 1022.0 1031.0 1019.3 1031.5 1007.8 1032.0 1009.2 1032.5 1011.8 1033.0 1006.2 1033.5 1015.7 1034.0 1017.3 1034.5 1017.0 1035.0 1013.5 1035.5 1010.4 1036.0 1020.0 1036.5 1012.7 1037.0 1008.5 1037.5 1020.7 1038.0 1006.7 1038.5 1019.9 1039.0 1020.4 1039.5 1024.2 1040.0 1026.3 1040.5 1014.3 1041.0 1016.7 1041.5 1009.2 1042.0 1017.7 1042.5 1012.1 1043.0 1017.7 1043.5 1010.9 1044.0 1023.9 1044.5 1017.3 1045.0 1022.3 1045.5 1014.6 1046.0 1013.8 1046.5 1026.4 1047.0 1013.5 1047.5 1009.1 1048.0 1011.3 1048.5 1020.1 1049.0 1014.8 1049.5 1024.2 1050.0 1019.8 1050.5 1024.2 1051.0 1011.1 1051.5 1025.3 1052.0 1011.2 1052.5 1017.1 1053.0 1013.4 1053.5 1016.4 1054.0 1019.1 1054.5 1012.8 1055.0 1008.6 1055.5 1016.2 1056.0 1009.6 1056.5 1023.5 1057.0 1017.1 1057.5 1015.6 1058.0 1027.9 1058.5 1015.6 1059.0 1016.5 1059.5 1013.1 1060.0 1032.4 1060.5 1022.7 1061.0 1018.7 1061.5 1013.6 1062.0 1019.3 1062.5 1011.7 1063.0 1009.1 1063.5 1017.8 1064.0 1010.6 1064.5 1011.3 1065.0 1017.6 1065.5 1024.5 1066.0 1013.5 1066.5 1024.2 1067.0 1011.7 1067.5 1017.2 1068.0 1016.3 1068.5 1022.3 1069.0 1020.4 1069.5 1017.9 1070.0 1009.5 1070.5 1010.4 1071.0 1010.5 1071.5 1024.4 1072.0 1027.4 1072.5 1034.0 1073.0 1024.1 1073.5 1023.1 1074.0 1000.0 1074.5 1030.1 1075.0 1009.4 1075.5 1011.8 1076.0 1009.3 1076.5 1022.1 1077.0 1023.6 1077.5 1013.8 1078.0 1015.3 1078.5 1012.4 1079.0 1027.4 1079.5 1025.5 1080.0 1019.5 1080.5 1020.4 1081.0 1016.1 1081.5 1018.2 1082.0 1012.8 1082.5 1021.4 1083.0 1022.2 1083.5 1021.2 1084.0 1012.2 1084.5 1027.1 1085.0 1021.2 1085.5 1021.1 1086.0 1017.1 1086.5 1018.2 1087.0 1021.8 1087.5 1017.6 1088.0 1021.7 1088.5 1023.3 1089.0 1022.4 1089.5 1019.3 1090.0 1024.2 1090.5 1027.6 1091.0 1022.2 1091.5 1011.9 1092.0 1014.3 1092.5 1020.3 1093.0 1017.5 1093.5 1021.1 1094.0 1017.8 1094.5 1018.3 1095.0 1014.4 1095.5 1028.5 1096.0 1021.6 1096.5 1027.5 1097.0 1026.5 1097.5 1027.4 1098.0 1024.1 1098.5 1012.1 1099.0 1019.0 1099.5 1019.2 1100.0 1015.2 1100.5 1014.7 1101.0 1015.0 1101.5 1024.5 1102.0 1016.1 1102.5 1012.2 1103.0 1024.8 1103.5 1020.3 1104.0 1015.4 1104.5 1015.4 1105.0 1017.1 1105.5 1021.3 1106.0 1026.4 1106.5 1025.9 1107.0 1015.4 1107.5 1016.9 1108.0 1019.3 1108.5 1021.5 1109.0 1016.4 1109.5 1017.2 1110.0 1019.7 1110.5 1022.9 1111.0 1024.4 1111.5 1020.2 1112.0 1011.1 1112.5 1015.0 1113.0 1020.1 1113.5 1016.1 1114.0 1027.7 1114.5 1013.6 1115.0 1025.7 1115.5 1010.7 1116.0 1025.1 1116.5 1021.9 1117.0 1027.5 1117.5 1027.6 1118.0 1024.2 1118.5 1028.6 1119.0 1017.1 1119.5 1021.0 1120.0 1006.6 1120.5 1014.6 1121.0 1025.8 1121.5 1012.3 1122.0 1017.2 1122.5 1013.7 1123.0 1024.5 1123.5 1027.6 1124.0 1021.2 1124.5 1025.2 1125.0 1026.9 1125.5 1014.2 1126.0 1021.8 1126.5 1026.0 1127.0 1025.3 1127.5 1022.8 1128.0 1023.4 1128.5 1018.0 1129.0 1010.5 1129.5 1024.8 1130.0 1026.3 1130.5 1015.2 1131.0 1018.1 1131.5 1024.9 1132.0 1014.6 1132.5 1015.3 1133.0 1015.4 1133.5 1011.9 1134.0 1028.7 1134.5 1024.7 1135.0 1019.2 1135.5 1023.5 1136.0 1024.5 1136.5 1018.1 1137.0 1028.2 1137.5 1004.9 1138.0 1010.4 1138.5 1009.8 1139.0 1020.4 1139.5 1022.3 1140.0 1023.6 1140.5 1027.1 1141.0 1024.6 1141.5 1020.1 1142.0 1015.6 1142.5 1016.2 1143.0 1008.4 1143.5 1017.3 1144.0 1014.7 1144.5 1009.1 1145.0 1011.7 1145.5 1009.6 1146.0 1008.2 1146.5 1009.4 1147.0 1015.8 1147.5 1008.3 1148.0 1017.4 1148.5 1019.0 1149.0 1022.8 1149.5 1018.5 1150.0 1005.9 1150.5 1006.4 1151.0 1023.4 1151.5 1007.2 1152.0 1011.0 1152.5 1012.9 1153.0 1018.9 1153.5 1011.8 1154.0 1005.3 1154.5 1018.9 1155.0 1020.6 1155.5 1006.6 1156.0 1016.1 1156.5 1010.8 1157.0 1020.2 1157.5 1010.7 1158.0 1014.0 1158.5 1043.2 1159.0 1018.1 1159.5 1020.8 1160.0 1006.4 1160.5 1011.9 1161.0 1017.2 1161.5 1024.0 1162.0 1013.7 1162.5 1014.0 1163.0 1006.2 1163.5 1013.4 1164.0 1018.9 1164.5 1019.3 1165.0 1016.4 1165.5 1025.9 1166.0 1011.5 1166.5 1022.0 1167.0 1016.3 1167.5 1020.7 1168.0 1017.6 1168.5 1015.6 1169.0 1012.9 1169.5 1013.4 1170.0 1020.9 1170.5 1029.9 1171.0 1016.5 1171.5 1029.4 1172.0 1024.3 1172.5 1015.0 1173.0 1015.1 1173.5 1016.5 1174.0 1031.5 1174.5 1026.0 1175.0 1033.2 1175.5 1019.5 1176.0 1018.3 1176.5 1023.4 1177.0 1015.6 1177.5 1025.2 1178.0 1024.9 1178.5 1033.4 1179.0 1029.1 1179.5 1012.4 1180.0 1016.4 1180.5 1017.3 1181.0 1025.7 1181.5 1022.2 1182.0 1027.4 1182.5 1031.5 1183.0 1022.5 1183.5 1025.8 1184.0 1033.4 1184.5 1027.3 1185.0 1024.1 1185.5 1016.2 1186.0 1016.9 1186.5 1031.5 1187.0 1014.8 1187.5 1017.5 1188.0 1029.9 1188.5 1029.5 1189.0 1026.0 1189.5 1027.0 1190.0 1021.2 1190.5 1023.3 1191.0 1022.3 1191.5 1019.9 1192.0 1027.3 1192.5 1026.3 1193.0 1025.6 1193.5 1028.2 1194.0 1030.2 1194.5 1031.4 1195.0 1024.8 1195.5 1021.0 1196.0 1019.7 1196.5 1026.9 1197.0 1020.5 1197.5 1023.0 1198.0 1029.5 1198.5 1018.1 1199.0 1024.3 1199.5 1020.9 1200.0 1024.8 1200.5 1035.5 1201.0 1022.1 1201.5 1033.1 1202.0 1028.7 1202.5 1021.7 1203.0 1033.9 1203.5 1030.5 1204.0 1025.0 1204.5 1032.6 1205.0 1030.2 1205.5 1023.8 1206.0 1034.0 1206.5 1027.1 1207.0 1019.8 1207.5 1022.5 1208.0 1018.2 1208.5 1030.8 1209.0 1018.9 1209.5 1027.5 1210.0 1028.1 1210.5 1018.5 1211.0 1035.5 1211.5 1033.9 1212.0 1034.0 1212.5 1022.5 1213.0 1021.8 1213.5 1021.1 1214.0 1033.5 1214.5 1031.5 1215.0 1023.7 1215.5 1019.2 1216.0 1032.9 1216.5 1022.3 1217.0 1021.6 1217.5 1032.8 1218.0 1033.5 1218.5 1027.3 1219.0 1032.2 1219.5 1026.3 1220.0 1024.6 1220.5 1030.2 1221.0 1027.2 1221.5 1023.9 1222.0 1030.0 1222.5 1028.1 1223.0 1017.9 1223.5 1028.5 1224.0 1025.4 1224.5 1029.4 1225.0 1027.9 1225.5 1030.1 1226.0 1023.5 1226.5 1028.1 1227.0 1034.4 1227.5 1020.9 1228.0 1030.4 1228.5 1019.4 1229.0 1018.9 1229.5 1033.8 1230.0 1021.1 1230.5 1019.5 1231.0 1032.4 1231.5 1024.4 1232.0 1027.2 1232.5 1029.0 1233.0 1026.7 1233.5 1029.8 1234.0 1024.4 1234.5 1031.8 1235.0 1022.0 1235.5 1018.3 1236.0 1030.3 1236.5 1032.5 1237.0 1031.0 1237.5 1019.1 1238.0 1024.8 1238.5 1028.1 1239.0 1027.1 1239.5 1030.4 1240.0 1032.1 1240.5 1027.9 1241.0 1031.1 1241.5 1021.9 1242.0 1024.0 1242.5 1031.0 1243.0 1022.2 1243.5 1025.6 1244.0 1027.2 1244.5 1020.5 1245.0 1027.1 1245.5 1029.3 1246.0 1025.9 1246.5 1017.9 1247.0 1022.2 1247.5 1024.1 1248.0 1020.4 1248.5 1027.9 1249.0 1026.7 1249.5 1015.7 1250.0 1026.4 1250.5 1028.0 1251.0 1025.4 1251.5 1025.3 1252.0 1024.7 1252.5 1017.7 1253.0 1016.7 1253.5 1023.8 1254.0 1025.3 1254.5 1017.0 1255.0 1023.0 1255.5 1015.9 1256.0 1026.4 1256.5 1026.2 1257.0 1014.2 1257.5 1025.6 1258.0 1017.6 1258.5 1020.0 1259.0 1020.1 1259.5 1027.0 1260.0 1019.1 1260.5 1023.2 1261.0 1026.5 1261.5 1021.1 1262.0 1021.3 1262.5 1023.0 1263.0 1018.7 1263.5 1010.2 1264.0 1015.9 1264.5 1014.2 1265.0 1012.8 1265.5 1021.5 1266.0 1013.6 1266.5 1012.1 1267.0 1010.6 1267.5 1014.9 1268.0 1014.0 1268.5 1022.0 1269.0 1008.7 1269.5 1019.2 1270.0 1009.6 1270.5 1019.9 1271.0 1011.0 1271.5 1014.2 1272.0 1015.8 1272.5 1014.3 1273.0 1017.8 1273.5 1013.8 1274.0 1012.2 1274.5 1010.0 1275.0 1008.2 1275.5 1019.6 1276.0 1008.4 1276.5 1011.0 1277.0 1005.4 1277.5 1014.0 1278.0 1004.3 1278.5 1001.6 1279.0 1006.5 1279.5 1007.5 1280.0 1001.1 1280.5 996.0 1281.0 1001.8 1281.5 998.2 1282.0 1027.0 1282.5 1004.5 1283.0 1011.3 1283.5 1014.5 1284.0 1002.4 1284.5 1011.3 1285.0 1002.6 1285.5 992.7 1286.0 1003.2 1286.5 1001.6 1287.0 997.3 1287.5 995.9 1288.0 1007.2 1288.5 1007.7 1289.0 1007.5 1289.5 989.9 1290.0 1006.8 1290.5 1005.8 1291.0 994.2 1291.5 1005.0 1292.0 995.5 1292.5 1006.7 1293.0 997.6 1293.5 996.0 1294.0 1000.2 1294.5 1003.3 1295.0 988.7 1295.5 997.7 1296.0 988.5 1296.5 988.9 1297.0 991.9 1297.5 987.0 1298.0 1005.5 1298.5 997.3 1299.0 991.0 1299.5 1000.6 1300.0 993.2 1300.5 988.9 1301.0 997.5 1301.5 992.9 1302.0 996.3 1302.5 1012.0 1303.0 990.4 1303.5 1000.9 1304.0 1001.6 1304.5 1004.3 1305.0 1015.5 1305.5 991.1 1306.0 1011.7 1306.5 993.1 1307.0 995.4 1307.5 1001.5 1308.0 1007.6 1308.5 1006.0 1309.0 1012.0 1309.5 1017.1 1310.0 1015.1 1310.5 1009.2 1311.0 1018.3 1311.5 1005.4 1312.0 1006.7 1312.5 1008.0 1313.0 996.5 1313.5 1019.2 1314.0 1002.8 1314.5 1004.4 1315.0 1004.9 1315.5 1016.0 1316.0 1017.2 1316.5 1019.4 1317.0 1008.3 1317.5 1007.9 1318.0 1020.9 1318.5 1010.0 1319.0 1005.9 1319.5 1022.2 1320.0 1006.5 1320.5 1021.1 1321.0 1011.8 1321.5 1019.9 1322.0 1017.1 1322.5 1023.0 1323.0 1014.9 1323.5 1007.8 1324.0 1018.3 1324.5 1013.4 1325.0 1016.0 1325.5 1013.7 1326.0 1016.8 1326.5 1016.2 1327.0 1017.8 1327.5 1024.0 1328.0 1014.3 1328.5 1027.4 1329.0 1016.6 1329.5 1029.4 1330.0 1027.3 1330.5 1024.8 1331.0 1023.5 1331.5 1016.7 1332.0 1032.9 1332.5 1027.7 1333.0 1022.0 1333.5 1022.7 1334.0 1031.6 1334.5 1029.0 1335.0 1030.3 1335.5 1032.0 1336.0 1018.3 1336.5 1034.9 1337.0 1033.2 1337.5 1027.6 1338.0 1029.6 1338.5 1028.4 1339.0 1035.8 1339.5 1020.4 1340.0 1021.9 1340.5 1024.4 1341.0 1032.3 1341.5 1029.6 1342.0 1030.2 1342.5 1038.0 1343.0 1032.8 1343.5 1023.1 1344.0 1030.3 1344.5 1031.3 1345.0 1038.7 1345.5 1025.0 1346.0 1035.6 1346.5 1038.5 1347.0 1026.6 1347.5 1041.5 1348.0 1031.7 1348.5 1027.2 1349.0 1040.4 1349.5 1043.6 1350.0 1035.4 1350.5 1029.2 1351.0 1027.1 1351.5 1043.3 1352.0 1036.4 1352.5 1043.7 1353.0 1036.2 1353.5 1040.4 1354.0 1037.0 1354.5 1035.4 1355.0 1039.3 1355.5 1027.9 1356.0 1034.7 1356.5 1039.8 1357.0 1032.8 1357.5 1031.7 1358.0 1032.8 1358.5 1031.5 1359.0 1042.0 1359.5 1030.9 1360.0 1044.8 1360.5 1035.2 1361.0 1041.7 1361.5 1038.4 1362.0 1036.9 1362.5 1038.0 1363.0 1031.8 1363.5 1032.0 1364.0 1044.2 1364.5 1049.7 1365.0 1047.7 1365.5 1041.0 1366.0 1034.8 1366.5 1038.7 1367.0 1041.4 1367.5 1040.8 1368.0 1044.8 1368.5 1038.7 1369.0 1046.1 1369.5 1044.4 1370.0 1042.0 1370.5 1043.0 1371.0 1048.7 1371.5 1046.9 1372.0 1033.5 1372.5 1048.2 1373.0 1049.6 1373.5 1032.9 1374.0 1037.3 1374.5 1049.1 1375.0 1040.0 1375.5 1046.1 1376.0 1048.2 1376.5 1044.2 1377.0 1039.6 1377.5 1045.7 1378.0 1042.8 1378.5 1040.2 1379.0 1041.2 1379.5 1049.7 1380.0 1040.6 1380.5 1049.3 1381.0 1044.3 1381.5 1038.9 1382.0 1037.1 1382.5 1047.8 1383.0 1037.0 1383.5 1051.3 1384.0 1036.2 1384.5 1052.7 1385.0 1036.2 1385.5 1036.8 1386.0 1050.7 1386.5 1039.4 1387.0 1039.8 1387.5 1042.6 1388.0 1043.9 1388.5 1038.1 1389.0 1049.7 1389.5 1037.5 1390.0 1038.1 1390.5 1051.3 1391.0 1042.6 1391.5 1036.2 1392.0 1037.3 1392.5 1040.2 1393.0 1041.2 1393.5 1051.4 1394.0 1043.5 1394.5 1042.2 1395.0 1042.9 1395.5 1039.3 1396.0 1042.8 1396.5 1051.3 1397.0 1050.4 1397.5 1045.2 1398.0 1039.4 1398.5 1065.5 1399.0 1041.8 1399.5 1052.9 1400.0 1049.8 1400.5 1048.6 1401.0 1041.9 1401.5 1045.9 1402.0 1052.5 1402.5 1048.9 1403.0 1042.3 1403.5 1049.1 1404.0 1041.3 1404.5 1039.4 1405.0 1049.2 1405.5 1051.5 1406.0 1049.7 1406.5 1041.9 1407.0 1038.6 1407.5 1052.6 1408.0 1042.5 1408.5 1049.5 1409.0 1050.5 1409.5 1039.5 1410.0 1054.5 1410.5 1053.8 1411.0 1041.1 1411.5 1042.0 1412.0 1053.4 1412.5 1042.2 1413.0 1045.3 1413.5 1039.1 1414.0 1051.1 1414.5 1042.4 1415.0 1052.7 1415.5 1054.9 1416.0 1046.2 1416.5 1045.0 1417.0 1040.2 1417.5 1050.9 1418.0 1052.7 1418.5 1039.0 1419.0 1055.7 1419.5 1041.4 1420.0 1045.1 1420.5 1044.7 1421.0 1046.0 1421.5 1044.1 1422.0 1051.0 1422.5 1038.6 1423.0 1048.0 1423.5 1044.0 1424.0 1047.2 1424.5 1047.5 1425.0 1044.8 1425.5 1042.1 1426.0 1042.8 1426.5 1051.9 1427.0 1037.6 1427.5 1052.3 1428.0 1051.2 1428.5 1045.6 1429.0 1050.8 1429.5 1042.1 1430.0 1037.0 1430.5 1051.6 1431.0 1041.5 1431.5 1043.8 1432.0 1048.2 1432.5 1042.5 1433.0 1040.0 1433.5 1053.4 1434.0 1045.2 1434.5 1050.3 1435.0 1047.8 1435.5 1045.2 1436.0 1055.3 1436.5 1054.0 1437.0 1046.5 1437.5 1043.5 1438.0 1045.1 1438.5 1050.9 1439.0 1041.6 1439.5 1045.5 1440.0 1037.7 1440.5 1042.1 1441.0 1052.2 1441.5 1054.9 1442.0 1053.5 1442.5 1040.2 1443.0 1046.6 1443.5 1048.8 1444.0 1050.5 1444.5 1042.3 1445.0 1052.0 1445.5 1044.2 1446.0 1045.6 1446.5 1041.6 1447.0 1040.4 1447.5 1048.4 1448.0 1050.7 1448.5 1045.5 1449.0 1050.3 1449.5 1045.3 1450.0 1051.9 1450.5 1044.2 1451.0 1041.8 1451.5 1049.3 1452.0 1041.9 1452.5 1049.2 1453.0 1051.3 1453.5 1041.7 1454.0 1048.0 1454.5 1047.1 1455.0 1052.2 1455.5 1042.1 1456.0 1042.2 1456.5 1043.3 1457.0 1051.1 1457.5 1041.2 1458.0 1041.5 1458.5 1045.9 1459.0 1051.6 1459.5 1050.1 1460.0 1040.4 1460.5 1044.5 1461.0 1053.0 1461.5 1047.4 1462.0 1041.4 1462.5 1040.1 1463.0 1046.2 1463.5 1049.4 1464.0 1054.9 1464.5 1050.9 1465.0 1050.5 1465.5 1042.7 1466.0 1036.7 1466.5 1043.6 1467.0 1046.3 1467.5 1047.7 1468.0 1053.3 1468.5 1048.2 1469.0 1051.4 1469.5 1048.4 1470.0 1043.6 1470.5 1045.4 1471.0 1052.2 1471.5 1045.3 1472.0 1043.9 1472.5 1039.5 1473.0 1048.7 1473.5 1044.4 1474.0 1040.0 1474.5 1044.7 1475.0 1047.5 1475.5 1049.7 1476.0 1051.2 1476.5 1043.0 1477.0 1047.1 1477.5 1042.2 1478.0 1046.3 1478.5 1047.3 1479.0 1049.7 1479.5 1039.1 1480.0 1039.4 1480.5 1049.7 1481.0 1043.6 1481.5 1040.5 1482.0 1045.4 1482.5 1045.0 1483.0 1042.5 1483.5 1052.6 1484.0 1050.7 1484.5 1044.8 1485.0 1051.0 1485.5 1045.8 1486.0 1043.4 1486.5 1043.6 1487.0 1044.1 1487.5 1047.9 1488.0 1052.9 1488.5 1051.1 1489.0 1050.2 1489.5 1046.6 1490.0 1049.5 1490.5 1043.7 1491.0 1039.3 1491.5 1040.7 1492.0 1045.0 1492.5 1044.4 1493.0 1052.5 1493.5 1048.8 1494.0 1050.8 1494.5 1042.5 1495.0 1048.9 1495.5 1041.6 1496.0 1049.5 1496.5 1042.0 1497.0 1039.7 1497.5 1040.5 1498.0 1044.4 1498.5 1050.6 1499.0 1051.5 1499.5 1041.6 1500.0 1044.6 1500.5 1040.5 1501.0 1048.7 1501.5 1041.6 1502.0 1048.7 1502.5 1045.9 1503.0 1045.2 1503.5 1044.9 1504.0 1061.4 1504.5 1053.7 1505.0 1042.6 1505.5 1045.5 1506.0 1052.4 1506.5 1041.9 1507.0 1039.4 1507.5 1047.9 1508.0 1043.8 1508.5 1049.4 1509.0 1052.8 1509.5 1046.1 1510.0 1044.1 1510.5 1042.7 1511.0 1051.1 1511.5 1045.4 1512.0 1046.8 1512.5 1048.3 1513.0 1042.3 1513.5 1052.0 1514.0 1042.6 1514.5 1049.5 1515.0 1050.2 1515.5 1037.4 1516.0 1048.2 1516.5 1044.5 1517.0 1052.0 1517.5 1032.8 1518.0 1049.1 1518.5 1040.3 1519.0 1045.3 1519.5 1050.1 1520.0 1039.0 1520.5 1042.0 1521.0 1039.8 1521.5 1038.0 1522.0 1042.0 1522.5 1043.5 1523.0 1047.9 1523.5 1040.5 1524.0 1040.1 1524.5 1039.6 1525.0 1045.9 1525.5 1047.8 1526.0 1048.9 1526.5 1048.3 1527.0 1042.7 1527.5 1049.4 1528.0 1041.5 1528.5 1044.7 1529.0 1049.9 1529.5 1044.9 1530.0 1052.8 1530.5 1040.1 1531.0 1053.2 1531.5 1044.6 1532.0 1050.2 1532.5 1039.7 1533.0 1043.4 1533.5 1038.0 1534.0 1052.2 1534.5 1042.1 1535.0 1052.9 1535.5 1052.3 1536.0 1041.6 1536.5 1035.9 1537.0 1040.4 1537.5 1037.8 1538.0 1051.1 1538.5 1038.9 1539.0 1049.6 1539.5 1038.9 1540.0 1046.8 1540.5 1037.7 1541.0 1043.7 1541.5 1039.9 1542.0 1043.3 1542.5 1050.2 1543.0 1052.7 1543.5 1051.7 1544.0 1043.2 1544.5 1047.7 1545.0 1050.8 1545.5 1052.5 1546.0 1043.6 1546.5 1048.5 1547.0 1044.9 1547.5 1054.6 1548.0 1041.5 1548.5 1046.8 1549.0 1035.8 1549.5 1049.9 1550.0 1047.7 1550.5 1039.2 1551.0 1047.9 1551.5 1048.7 1552.0 1047.6 1552.5 1051.5 1553.0 1042.2 1553.5 1063.8 1554.0 1053.4 1554.5 1038.5 1555.0 1037.1 1555.5 1038.6 1556.0 1049.6 1556.5 1045.8 1557.0 1048.9 1557.5 1044.9 1558.0 1045.9 1558.5 1043.0 1559.0 1050.0 1559.5 1049.3 1560.0 1039.3 1560.5 1042.6 1561.0 1044.4 1561.5 1049.2 1562.0 1040.8 1562.5 1051.2 1563.0 1047.1 1563.5 1038.2 1564.0 1047.7 1564.5 1049.5 1565.0 1049.9 1565.5 1049.6 1566.0 1036.2 1566.5 1049.4 1567.0 1039.7 1567.5 1034.4 1568.0 1033.7 1568.5 1043.5 1569.0 1041.5 1569.5 1041.8 1570.0 1039.5 1570.5 1042.4 1571.0 1046.1 1571.5 1039.9 1572.0 1035.4 1572.5 1034.8 1573.0 1043.8 1573.5 1034.5 1574.0 1032.4 1574.5 1045.7 1575.0 1032.4 1575.5 1030.0 1576.0 1046.7 1576.5 1033.4 1577.0 1034.2 1577.5 1035.4 1578.0 1037.2 1578.5 1032.8 1579.0 1043.6 1579.5 1048.2 1580.0 1045.6 1580.5 1043.9 1581.0 1033.8 1581.5 1046.6 1582.0 1032.9 1582.5 1038.8 1583.0 1041.6 1583.5 1041.5 1584.0 1046.5 1584.5 1041.9 1585.0 1038.6 1585.5 1043.9 1586.0 1043.8 1586.5 1034.8 1587.0 1040.7 1587.5 1043.1 1588.0 1039.2 1588.5 1042.8 1589.0 1043.1 1589.5 1031.9 1590.0 1045.3 1590.5 1036.6 1591.0 1030.7 1591.5 1035.2 1592.0 1045.3 1592.5 1034.7 1593.0 1046.2 1593.5 1038.1 1594.0 1035.0 1594.5 1043.7 1595.0 1032.0 1595.5 1039.2 1596.0 1032.7 1596.5 1029.8 1597.0 1037.1 1597.5 1034.8 1598.0 1028.8 1598.5 1034.6 1599.0 1041.4 1599.5 1039.4 1600.0 1043.9 1600.5 1028.1 1601.0 1039.2 1601.5 1035.8 1602.0 1040.6 1602.5 1037.1 1603.0 1035.1 1603.5 1043.0 1604.0 1039.4 1604.5 1037.6 1605.0 1040.0 1605.5 1033.0 1606.0 1052.3 1606.5 1038.7 1607.0 1039.0 1607.5 1042.3 1608.0 1036.6 1608.5 1040.6 1609.0 1038.5 1609.5 1038.4 1610.0 1041.3 1610.5 1036.1 1611.0 1033.6 1611.5 1031.3 1612.0 1042.7 1612.5 1032.2 1613.0 1027.0 1613.5 1035.4 1614.0 1037.5 1614.5 1039.7 1615.0 1029.4 1615.5 1039.5 1616.0 1038.5 1616.5 1034.4 1617.0 1029.2 1617.5 1044.0 1618.0 1030.7 1618.5 1029.8 1619.0 1033.3 1619.5 1036.4 1620.0 1041.2 1620.5 1035.6 1621.0 1037.7 1621.5 1029.5 1622.0 1036.9 1622.5 1039.8 1623.0 1038.4 1623.5 1036.4 1624.0 1028.5 1624.5 1033.5 1625.0 1036.3 1625.5 1041.3 1626.0 1041.7 1626.5 1026.2 1627.0 1040.8 1627.5 1031.6 1628.0 1034.2 1628.5 1029.0 1629.0 1030.6 1629.5 1026.8 1630.0 1031.2 1630.5 1029.4 1631.0 1028.0 1631.5 1028.5 1632.0 1036.3 1632.5 1031.9 1633.0 1029.9 1633.5 1027.6 1634.0 1029.5 1634.5 1038.3 1635.0 1038.8 1635.5 1036.0 1636.0 1037.3 1636.5 1039.5 1637.0 1023.6 1637.5 1041.4 1638.0 1037.6 1638.5 1026.4 1639.0 1040.6 1639.5 1034.7 1640.0 1026.8 1640.5 1038.0 1641.0 1024.9 1641.5 1032.3 1642.0 1029.9 1642.5 1032.7 1643.0 1037.3 1643.5 1030.0 1644.0 1036.0 1644.5 1024.8 1645.0 1037.5 1645.5 1027.9 1646.0 1020.3 1646.5 1023.2 1647.0 1037.9 1647.5 1018.4 1648.0 1037.6 1648.5 1035.2 1649.0 1033.0 1649.5 1035.9 1650.0 1024.0 1650.5 1034.9 1651.0 1024.2 1651.5 1035.2 1652.0 1023.6 1652.5 1032.8 1653.0 1029.2 1653.5 1034.8 1654.0 1030.6 1654.5 1044.6 1655.0 1026.1 1655.5 1033.6 1656.0 1037.4 1656.5 1020.4 1657.0 1032.2 1657.5 1024.7 1658.0 1036.5 1658.5 1034.5 1659.0 1030.7 1659.5 1024.6 1660.0 1033.7 1660.5 1032.5 1661.0 1023.1 1661.5 1024.6 1662.0 1020.8 1662.5 1027.6 1663.0 1022.9 1663.5 1024.1 1664.0 1025.3 1664.5 1028.0 1665.0 1033.8 1665.5 1021.0 1666.0 1019.5 1666.5 1029.2 1667.0 1029.0 1667.5 1026.1 1668.0 1033.4 1668.5 1021.3 1669.0 1030.8 1669.5 1027.6 1670.0 1030.3 1670.5 1021.6 1671.0 1016.7 1671.5 1027.7 1672.0 1022.3 1672.5 1021.4 1673.0 1027.3 1673.5 1022.2 1674.0 1031.1 1674.5 1019.0 1675.0 1024.7 1675.5 1020.1 1676.0 1016.4 1676.5 1024.7 1677.0 1023.1 1677.5 1024.4 1678.0 1022.1 1678.5 1018.6 1679.0 1016.0 1679.5 1020.9 1680.0 1020.5 1680.5 1013.4 1681.0 1018.5 1681.5 1011.7 1682.0 1013.5 1682.5 1010.8 1683.0 1011.2 1683.5 1021.4 1684.0 1022.1 1684.5 1022.7 1685.0 1018.0 1685.5 1019.7 1686.0 1018.8 1686.5 1008.5 1687.0 1012.1 1687.5 1026.7 1688.0 1007.0 1688.5 1010.0 1689.0 1017.8 1689.5 1016.0 1690.0 1021.1 1690.5 1015.2 1691.0 1022.1 1691.5 1014.6 1692.0 1018.1 1692.5 1021.2 1693.0 1026.2 1693.5 1008.2 1694.0 1014.8 1694.5 1014.9 1695.0 1006.3 1695.5 1025.7 1696.0 1020.3 1696.5 1012.4 1697.0 1011.4 1697.5 1007.5 1698.0 1011.4 1698.5 1010.7 1699.0 1011.8 1699.5 1017.1 1700.0 1015.4 1700.5 1024.0 1701.0 1020.7 1701.5 1006.1 1702.0 1006.1 1702.5 1018.6 1703.0 1016.1 1703.5 1004.3 1704.0 1008.8 1704.5 1008.7 1705.0 1016.7 1705.5 1010.3 1706.0 1022.1 1706.5 1022.5 1707.0 1020.9 1707.5 1021.5 1708.0 1023.5 1708.5 1009.4 1709.0 1035.4 1709.5 1003.2 1710.0 1008.2 1710.5 1006.8 1711.0 1014.4 1711.5 1016.9 1712.0 1019.2 1712.5 1010.4 1713.0 1006.4 1713.5 1007.9 1714.0 1022.4 1714.5 1024.0 1715.0 1017.9 1715.5 1007.5 1716.0 1006.2 1716.5 1014.3 1717.0 1018.8 1717.5 1020.4 1718.0 1018.2 1718.5 1008.8 1719.0 1021.4 1719.5 1020.8 1720.0 1010.7 1720.5 1008.1 1721.0 1006.0 1721.5 1008.2 1722.0 1012.6 1722.5 1014.0 1723.0 1014.4 1723.5 1023.6 1724.0 1014.0 1724.5 1011.2 1725.0 1021.2 1725.5 1007.7 1726.0 1009.7 1726.5 1018.2 1727.0 1018.2 1727.5 1016.1 1728.0 1011.2 1728.5 1008.6 1729.0 1007.5 1729.5 1020.5 1730.0 1016.0 1730.5 1015.7 1731.0 1017.3 1731.5 1024.0 1732.0 1024.0 1732.5 1012.5 1733.0 1009.4 1733.5 1008.8 1734.0 1009.5 1734.5 1024.0 1735.0 1011.6 1735.5 1008.1 1736.0 1008.7 1736.5 1018.1 1737.0 1016.0 1737.5 1018.3 1738.0 1025.9 1738.5 1014.4 1739.0 1022.0 1739.5 1017.1 1740.0 1009.5 1740.5 1026.1 1741.0 1020.7 1741.5 1019.3 1742.0 1028.0 1742.5 1014.3 1743.0 1015.0 1743.5 1010.0 1744.0 1016.2 1744.5 1017.3 1745.0 1016.8 1745.5 1011.6 1746.0 1008.0 1746.5 1013.9 1747.0 1004.6 1747.5 1005.6 1748.0 1007.3 1748.5 1004.6 1749.0 1024.8 1749.5 1006.5 1750.0 1010.2 1750.5 1023.2 1751.0 1006.9 1751.5 1018.8 1752.0 1022.7 1752.5 1015.1 1753.0 1021.2 1753.5 1022.6 1754.0 1008.5 1754.5 1021.8 1755.0 1019.6 1755.5 1009.3 1756.0 1023.0 1756.5 1023.2 1757.0 1025.8 1757.5 1020.1 1758.0 1022.8 1758.5 991.9 1759.0 1027.8 1759.5 1009.9 1760.0 1016.8 1760.5 1015.4 1761.0 1021.3 1761.5 1025.2 1762.0 1028.3 1762.5 1014.3 1763.0 1023.8 1763.5 1024.1 1764.0 1012.0 1764.5 1028.7 1765.0 1018.0 1765.5 1019.3 1766.0 1013.5 1766.5 1019.7 1767.0 1028.7 1767.5 1008.8 1768.0 1012.8 1768.5 1027.1 1769.0 1016.8 1769.5 1028.9 1770.0 1021.3 1770.5 1024.8 1771.0 1014.0 1771.5 1011.6 1772.0 1012.3 1772.5 1024.4 1773.0 1017.0 1773.5 1014.8 1774.0 1013.1 1774.5 1017.9 1775.0 1021.8 1775.5 1025.0 1776.0 1021.9 1776.5 1021.2 1777.0 1013.9 1777.5 1017.6 1778.0 1026.3 1778.5 1024.0 1779.0 1031.7 1779.5 1012.0 1780.0 1018.2 1780.5 1015.4 1781.0 1029.9 1781.5 1025.9 1782.0 1029.0 1782.5 1016.6 1783.0 1030.0 1783.5 1016.3 1784.0 1015.9 1784.5 1019.3 1785.0 1025.8 1785.5 1027.9 1786.0 1014.6 1786.5 1019.9 1787.0 1028.3 1787.5 1019.4 1788.0 1016.4 1788.5 1014.2 1789.0 1015.9 1789.5 1015.3 1790.0 1031.0 1790.5 1018.5 1791.0 1031.8 1791.5 1025.9 1792.0 1027.3 1792.5 1016.2 1793.0 1017.0 1793.5 1019.1 1794.0 1011.3 1794.5 1025.0 1795.0 1019.6 1795.5 1019.0 1796.0 1022.3 1796.5 1025.7 1797.0 1032.9 1797.5 1022.7 1798.0 1034.5 1798.5 1026.3 1799.0 1017.9 1799.5 1022.9 1800.0 1031.3 1800.5 1018.7 1801.0 1023.4 1801.5 1022.4 1802.0 1020.6 1802.5 1028.6 1803.0 1030.2 1803.5 1020.1 1804.0 1034.4 1804.5 1032.2 1805.0 1036.4 1805.5 1036.2 1806.0 1024.9 1806.5 1026.2 1807.0 1025.2 1807.5 1018.3 1808.0 1040.6 1808.5 1033.7 1809.0 1034.3 1809.5 1029.2 1810.0 1033.6 1810.5 1031.8 1811.0 1035.3 1811.5 1032.3 1812.0 1025.7 1812.5 1024.5 1813.0 1034.6 1813.5 1024.8 1814.0 1033.8 1814.5 1036.4 1815.0 1034.8 1815.5 1029.3 1816.0 1021.9 1816.5 1037.2 1817.0 1020.7 1817.5 1018.9 1818.0 1027.8 1818.5 1036.1 1819.0 1030.1 1819.5 1022.3 1820.0 1019.6 1820.5 1029.4 1821.0 1026.4 1821.5 1022.1 1822.0 1024.6 1822.5 1037.9 1823.0 1030.6 1823.5 1028.6 1824.0 1023.7 1824.5 1026.9 1825.0 1023.5 1825.5 1032.1 1826.0 1032.5 1826.5 1026.1 1827.0 1030.5 1827.5 1031.9 1828.0 1025.5 1828.5 1037.9 1829.0 1025.1 1829.5 1035.2 1830.0 1041.0 1830.5 1029.6 1831.0 1023.4 1831.5 1032.7 1832.0 1030.1 1832.5 1028.0 1833.0 1039.2 1833.5 1023.6 1834.0 1040.7 1834.5 1029.8 1835.0 1028.5 1835.5 1027.0 1836.0 1030.0 1836.5 1033.0 1837.0 1040.9 1837.5 1034.0 1838.0 1032.0 1838.5 1038.0 1839.0 1029.8 1839.5 1026.6 1840.0 1027.9 1840.5 1040.8 1841.0 1035.6 1841.5 1032.5 1842.0 1037.6 1842.5 1026.1 1843.0 1041.6 1843.5 1039.2 1844.0 1027.6 1844.5 1031.0 1845.0 1026.5 1845.5 1017.4 1846.0 1028.1 1846.5 1039.3 1847.0 1024.2 1847.5 1026.4 1848.0 1028.9 1848.5 1024.3 1849.0 1027.7 1849.5 1029.3 1850.0 1034.6 1850.5 1038.0 1851.0 1027.6 1851.5 1031.3 1852.0 1034.7 1852.5 1030.2 1853.0 1035.7 1853.5 1039.9 1854.0 1029.0 1854.5 1030.9 1855.0 1023.5 1855.5 1025.3 1856.0 1034.5 1856.5 1030.5 1857.0 1028.8 1857.5 1041.9 1858.0 1029.1 1858.5 1036.2 1859.0 1029.3 1859.5 1040.2 1860.0 1027.3 1860.5 1026.2 1861.0 1033.7 1861.5 1041.2 1862.0 1030.8 1862.5 1038.3 1863.0 1031.8 1863.5 1038.2 1864.0 1027.3 1864.5 1041.5 1865.0 1036.3 1865.5 1032.4 1866.0 1039.5 1866.5 1028.8 1867.0 1029.7 1867.5 1038.6 1868.0 1041.1 1868.5 1041.3 1869.0 1035.2 1869.5 1037.1 1870.0 1037.8 1870.5 1029.7 1871.0 1041.9 1871.5 1034.1 1872.0 1040.4 1872.5 1027.7 1873.0 1028.7 1873.5 1026.0 1874.0 1031.6 1874.5 1024.7 1875.0 1033.7 1875.5 1035.7 1876.0 1040.4 1876.5 1041.1 1877.0 1042.6 1877.5 1038.5 1878.0 1038.6 1878.5 1032.3 1879.0 1038.7 1879.5 1033.2 1880.0 1037.4 1880.5 1031.8 1881.0 1035.5 1881.5 1037.3 1882.0 1035.2 1882.5 1026.8 1883.0 1026.3 1883.5 1039.9 1884.0 1025.7 1884.5 1032.2 1885.0 1031.1 1885.5 1026.4 1886.0 1031.3 1886.5 1024.7 1887.0 1027.8 1887.5 1046.1 1888.0 1044.5 1888.5 1040.4 1889.0 1040.4 1889.5 1030.7 1890.0 1039.2 1890.5 1026.6 1891.0 1029.3 1891.5 1029.8 1892.0 1035.2 1892.5 1036.2 1893.0 1041.6 1893.5 1039.3 1894.0 1025.2 1894.5 1044.3 1895.0 1035.0 1895.5 1041.6 1896.0 1025.5 1896.5 1041.5 1897.0 1035.3 1897.5 1040.5 1898.0 1039.0 1898.5 1031.4 1899.0 1028.6 1899.5 1028.6 1900.0 1030.0 1900.5 1039.6 1901.0 1035.2 1901.5 1038.0 1902.0 1042.4 1902.5 1025.4 1903.0 1027.6 1903.5 1037.1 1904.0 1041.0 1904.5 1031.4 1905.0 1040.3 1905.5 1040.6 1906.0 1042.2 1906.5 1040.9 1907.0 1041.2 1907.5 1039.3 1908.0 1027.4 1908.5 1029.2 1909.0 1034.7 1909.5 1036.6 1910.0 1026.3 1910.5 1042.3 1911.0 1027.3 1911.5 1038.6 1912.0 1025.2 1912.5 1026.6 1913.0 1030.5 1913.5 1045.0 1914.0 1029.9 1914.5 1026.0 1915.0 1036.4 1915.5 1042.6 1916.0 1035.8 1916.5 1032.5 1917.0 1028.6 1917.5 1037.7 1918.0 1033.4 1918.5 1044.5 1919.0 1035.8 1919.5 1031.1 1920.0 1040.7 1920.5 1044.6 1921.0 1042.5 1921.5 1034.9 1922.0 1044.6 1922.5 1034.3 1923.0 1031.8 1923.5 1032.0 1924.0 1028.8 1924.5 1044.8 1925.0 1041.6 1925.5 1039.6 1926.0 1037.1 1926.5 1030.6 1927.0 1034.2 1927.5 1031.3 1928.0 1030.1 1928.5 1032.3 1929.0 1028.1 1929.5 1039.3 1930.0 1026.6 1930.5 1032.3 1931.0 1035.8 1931.5 1039.9 1932.0 1033.7 1932.5 1045.7 1933.0 1031.8 1933.5 1042.7 1934.0 1044.3 1934.5 1029.5 1935.0 1034.8 1935.5 1031.1 1936.0 1030.5 1936.5 1034.7 1937.0 1038.5 1937.5 1040.5 1938.0 1042.6 1938.5 1037.5 1939.0 1030.6 1939.5 1038.8 1940.0 1042.3 1940.5 1038.1 1941.0 1042.4 1941.5 1025.2 1942.0 1013.7 1942.5 1026.7 1943.0 1041.2 1943.5 1030.3 1944.0 1035.0 1944.5 1035.4 1945.0 1037.0 1945.5 1033.6 1946.0 1029.1 1946.5 1036.1 1947.0 1028.3 1947.5 1032.2 1948.0 1025.4 1948.5 1030.4 1949.0 1031.7 1949.5 1042.6 1950.0 1042.0 1950.5 1037.5 1951.0 1028.8 1951.5 1041.2 1952.0 1043.6 1952.5 1039.7 1953.0 1039.1 1953.5 1033.6 1954.0 1038.3 1954.5 1030.5 1955.0 1033.7 1955.5 1039.8 1956.0 1036.1 1956.5 1029.8 1957.0 1032.0 1957.5 1032.0 1958.0 1034.8 1958.5 1026.0 1959.0 1031.8 1959.5 1041.1 1960.0 1020.2 1960.5 1045.6 1961.0 1032.3 1961.5 1040.2 1962.0 1028.5 1962.5 1034.1 1963.0 1028.4 1963.5 1024.9 1964.0 1035.9 1964.5 1033.5 1965.0 1041.7 1965.5 1026.7 1966.0 1028.4 1966.5 1038.0 1967.0 1027.5 1967.5 1029.9 1968.0 1031.2 1968.5 1027.9 1969.0 1028.0 1969.5 1036.0 1970.0 1029.5 1970.5 1040.7 1971.0 1034.1 1971.5 1030.9 1972.0 1029.5 1972.5 1035.6 1973.0 1037.7 1973.5 1035.5 1974.0 1027.6 1974.5 1037.5 1975.0 1027.7 1975.5 1028.2 1976.0 1035.0 1976.5 1031.6 1977.0 1031.9 1977.5 1038.0 1978.0 1027.5 1978.5 1028.3 1979.0 1030.1 1979.5 1025.8 1980.0 1035.1 1980.5 1036.2 1981.0 1031.4 1981.5 1024.3 1982.0 1032.7 1982.5 1029.8 1983.0 1038.0"/>
<path stroke="#000000" d="M227.0 607.8L227.5 604.5 228.0 579.2 228.5 603.8 229.0 597.2 229.5 583.3 230.0 605.7 230.5 588.7 231.0 590.8 231.5 574.2 232.0 601.4 232.5 595.9 233.0 585.2 233.5 594.5 234.0 585.0 234.5 588.3 235.0 578.8 235.5 585.0 236.0 578.8 236.5 581.1 237.0 594.3 237.5 577.6 238.0 584.3 238.5 601.1 239.0 596.7 239.5 592.7 240.0 586.6 240.5 580.9 241.0 575.8 241.5 598.9 242.0 585.1 242.5 574.4 243.0 590.7 243.5 590.5 244.0 584.3 244.5 595.2 245.0 564.5 245.5 582.8 246.0 584.2 246.5 572.2 247.0 591.1 247.5 594.0 248.0 586.0 248.5 573.7 249.0 591.7 249.5 583.1 250.0 584.4 250.5 590.7 251.0 565.5 251.5 578.9 252.0 586.9 252.5 588.6 253.0 571.2 253.5 582.6 254.0 570.7 254.5 564.8 255.0 599.6 255.5 589.9 256.0 592.9 256.5 581.5 257.0 569.6 257.5 564.1 258.0 581.4 258.5 585.1 259.0 587.6 259.5 575.3 260.0 565.0 260.5 583.7 261.0 587.9 261.5 587.9 262.0 569.8 262.5 574.9 263.0 589.5 263.5 570.2 264.0 577.1 264.5 557.9 265.0 581.9 265.5 588.0 266.0 587.2 266.5 592.2 267.0 578.2 267.5 561.2 268.0 583.9 268.5 565.7 269.0 587.9 269.5 556.0 270.0 579.4 270.5 564.4 271.0 571.3 271.5 571.1 272.0 577.6 272.5 563.3 273.0 566.3 273.5 550.2 274.0 567.0 274.5 573.5 275.0 559.7 275.5 578.4 276.0 569.6 276.5 579.2 277.0 573.2 277.5 566.3 278.0 584.0 278.5 573.5 279.0 584.9 279.5 563.7 280.0 571.7 280.5 554.3 281.0 589.3 281.5 558.5 282.0 564.9 282.5 549.1 283.0 561.3 283.5 577.6 284.0 575.2 284.5 559.9 285.0 566.7 285.5 563.1 286.0 578.0 286.5 564.6 287.0 573.1 287.5 575.2 288.0 574.7 288.5 561.4 289.0 564.1 289.5 557.5 290.0 547.0 290.5 555.4 291.0 559.8 291.5 550.5 292.0 557.8 292.5 564.0 293.0 581.4 293.5 573.3 294.0 573.2 294.5 574.2 295.0 568.1 295.5 580.0 296.0 577.5 296.5 561.2 297.0 547.5 297.5 561.7 298.0 548.0 298.5 548.4 299.0 558.0 299.5 566.8 300.0 552.3 300.5 569.3 301.0 564.0 301.5 547.8 302.0 578.6 302.5 560.9 303.0 554.4 303.5 573.3 304.0 544.9 304.5 596.9 305.0 548.7 305.5 555.7 306.0 546.8 306.5 568.2 307.0 553.1 307.5 560.1 308.0 565.4 308.5 560.8 309.0 557.6 309.5 550.3 310.0 559.8 310.5 571.9 311.0 545.6 311.5 575.5 312.0 562.8 312.5 553.3 313.0 557.0 313.5 557.5 314.0 552.1 314.5 555.1 315.0 536.4 315.5 555.2 316.0 571.8 316.5 546.6 317.0 566.8 317.5 552.7 318.0 545.9 318.5 569.5 319.0 542.5 319.5 547.7 320.0 571.8 320.5 547.9 321.0 568.1 321.5 553.9 322.0 567.9 322.5 558.9 323.0 548.6 323.5 563.5 324.0 534.6 324.5 551.3 325.0 551.2 325.5 557.6 326.0 542.6 326.5 547.0 327.0 556.4 327.5 553.6 328.0 563.7 328.5 559.8 329.0 566.3 329.5 560.6 330.0 556.3 330.5 547.0 331.0 567.6 331.5 555.3 332.0 541.4 332.5 569.0 333.0 558.4 333.5 566.0 334.0 561.4 334.5 564.4 335.0 540.5 335.5 548.5 336.0 562.2 336.5 559.1 337.0 548.0 337.5 584.7 338.0 543.8 338.5 557.5 339.0 542.1 339.5 568.1 340.0 548.6 340.5 544.7 341.0 543.8 341.5 550.9 342.0 547.8 342.5 557.2 343.0 554.2 343.5 573.2 344.0 571.3 344.5 573.5 345.0 567.0 345.5 562.0 346.0 570.5 346.5 544.5 347.0 552.4 347.5 549.9 348.0 545.3 348.5 565.5 349.0 550.3 349.5 552.4 350.0 552.0 350.5 548.9 351.0 565.3 351.5 565.3 352.0 560.6 352.5 548.3 353.0 560.3 353.5 567.2 354.0 550.6 354.5 558.2 355.0 545.7 355.5 549.2 356.0 554.3 356.5 559.9 357.0 560.5 357.5 574.8 358.0 556.6 358.5 549.5 359.0 575.2 359.5 555.1 360.0 551.2 360.5 580.4 361.0 572.2 361.5 560.7 362.0 552.9 362.5 560.6 363.0 561.9 363.5 583.3 364.0 562.6 364.5 552.3 365.0 582.1 365.5 573.1 366.0 559.3 366.5 554.7 367.0 568.0 367.5 554.3 368.0 575.8 368.5 573.3 369.0 552.5 369.5 582.7 370.0 584.0 370.5 583.5 371.0 588.2 371.5 582.6 372.0 561.3 372.5 561.3 373.0 551.9 373.5 573.9 374.0 577.1 374.5 588.9 375.0 572.4 375.5 587.3 376.0 561.0 376.5 567.7 377.0 566.6 377.5 579.8 378.0 579.4 378.5 573.8 379.0 578.3 379.5 579.9 380.0 596.4 380.5 576.4 381.0 592.2 381.5 566.9 382.0 577.0 382.5 582.2 383.0 587.4 383.5 574.1 384.0 578.0 384.5 598.3 385.0 588.2 385.5 585.8 386.0 571.7 386.5 573.9 387.0 574.0 387.5 573.0 388.0 599.9 388.5 566.4 389.0 585.3 389.5 570.9 390.0 593.4 390.5 569.8 391.0 572.9 391.5 576.6 392.0 583.4 392.5 573.5 393.0 601.8 393.5 572.4 394.0 587.2 394.5 606.9 395.0 602.1 395.5 586.7 396.0 601.2 396.5 603.7 397.0 583.8 397.5 602.8 398.0 582.7 398.5 586.5 399.0 594.3 399.5 600.2 400.0 582.6 400.5 595.5 401.0 585.5 401.5 608.8 402.0 589.6 402.5 615.7 403.0 604.1 403.5 593.3 404.0 591.8 404.5 602.4 405.0 596.3 405.5 604.8 406.0 603.0 406.5 591.3 407.0 615.8 407.5 588.9 408.0 616.5 408.5 615.8 409.0 619.2 409.5 611.9 410.0 601.2 410.5 610.9 411.0 607.1 411.5 613.6 412.0 604.2 412.5 615.4 413.0 605.1 413.5 608.1 414.0 614.9 414.5 611.2 415.0 603.8 415.5 628.6 416.0 621.8 416.5 620.6 417.0 599.9 417.5 622.7 418.0 625.5 418.5 629.4 419.0 618.6 419.5 621.1 420.0 616.7 420.5 624.9 421.0 614.5 421.5 613.1 422.0 619.8 422.5 624.7 423.0 618.6 423.5 640.5 424.0 619.4 424.5 618.0 425.0 635.1 425.5 625.3 426.0 617.6 426.5 623.0 427.0 638.8 427.5 641.7 428.0 631.9 428.5 622.8 429.0 631.9 429.5 623.3 430.0 622.4 430.5 630.4 431.0 629.1 431.5 636.9 432.0 643.7 432.5 622.1 433.0 634.9 433.5 620.6 434.0 618.3 434.5 624.0 435.0 651.1 435.5 636.1 436.0 643.2 436.5 624.2 437.0 636.5 437.5 632.4 438.0 632.3 438.5 645.7 439.0 630.2 439.5 639.4 440.0 649.2 440.5 635.7 441.0 637.7 441.5 627.1 442.0 632.9 442.5 635.4 443.0 639.8 443.5 650.0 444.0 646.7 444.5 647.2 445.0 655.6 445.5 632.5 446.0 631.1 446.5 644.7 447.0 634.3 447.5 645.7 448.0 649.7 448.5 634.2 449.0 654.3 449.5 647.7 450.0 647.7 450.5 659.0 451.0 659.7 451.5 642.8 452.0 642.9 452.5 659.2 453.0 639.2 453.5 654.3 454.0 641.5 454.5 645.9 455.0 653.1 455.5 666.3 456.0 637.1 456.5 646.9 457.0 659.4 457.5 652.1 458.0 647.0 458.5 664.3 459.0 651.0 459.5 660.1 460.0 670.4 460.5 662.0 461.0 662.8 461.5 662.0 462.0 664.3 462.5 650.0 463.0 684.5 463.5 663.4 464.0 666.6 464.5 671.5 465.0 668.2 465.5 648.1 466.0 653.0 466.5 657.9 467.0 672.8 467.5 658.2 468.0 654.7 468.5 647.2 469.0 655.8 469.5 665.5 470.0 646.0 470.5 654.3 471.0 654.2 471.5 666.3 472.0 661.4 472.5 671.1 473.0 653.9 473.5 661.3 474.0 671.6 474.5 675.4 475.0 677.0 475.5 655.2 476.0 675.8 476.5 672.0 477.0 663.0 477.5 655.3 478.0 657.9 478.5 672.7 479.0 657.3 479.5 663.4 480.0 665.2 480.5 673.3 481.0 663.9 481.5 659.2 482.0 666.0 482.5 665.2 483.0 674.5 483.5 666.0 484.0 676.6 484.5 673.3 485.0 678.1 485.5 677.9 486.0 672.2 486.5 671.9 487.0 670.6 487.5 680.7 488.0 665.8 488.5 672.3 489.0 672.6 489.5 675.5 490.0 675.6 490.5 675.0 491.0 672.1 491.5 678.4 492.0 672.1 492.5 675.4 493.0 676.2 493.5 670.4 494.0 671.0 494.5 682.0 495.0 686.1 495.5 684.6 496.0 668.5 496.5 684.2 497.0 685.5 497.5 684.9 498.0 682.2 498.5 678.3 499.0 683.5 499.5 681.2 500.0 685.8 500.5 675.9 501.0 672.9 501.5 671.1 502.0 688.5 502.5 684.5 503.0 676.2 503.5 681.0 504.0 675.5 504.5 680.7 505.0 676.9 505.5 677.2 506.0 673.7 506.5 670.8 507.0 673.7 507.5 686.8 508.0 677.2 508.5 688.9 509.0 683.1 509.5 672.7 510.0 681.8 510.5 682.3 511.0 682.3 511.5 675.8 512.0 682.4 512.5 691.0 513.0 680.8 513.5 682.6 514.0 691.1 514.5 690.2 515.0 688.6 515.5 682.0 516.0 690.9 516.5 691.9 517.0 684.5 517.5 682.6 518.0 690.0 518.5 693.3 519.0 689.9 519.5 694.2 520.0 689.4 520.5 690.4 521.0 694.6 521.5 682.5 522.0 692.3 522.5 681.8 523.0 684.5 523.5 677.9 524.0 691.8 524.5 681.8 525.0 691.4 525.5 678.9 526.0 681.5 526.5 682.7 527.0 681.2 527.5 678.4 528.0 690.4 528.5 694.6 529.0 679.2 529.5 680.1 530.0 682.6 530.5 682.0 531.0 693.3 531.5 683.5 532.0 689.1 532.5 696.5 533.0 682.7 533.5 695.9 534.0 697.9 534.5 689.5 535.0 687.8 535.5 678.8 536.0 682.1 536.5 688.6 537.0 696.6 537.5 687.7 538.0 679.6 538.5 687.6 539.0 693.7 539.5 680.8 540.0 683.2 540.5 684.9 541.0 691.3 541.5 697.0 542.0 687.3 542.5 693.1 543.0 687.4 543.5 690.8 544.0 691.9 544.5 695.3 545.0 686.1 545.5 690.0 546.0 683.1 546.5 689.7 547.0 698.9 547.5 701.4 548.0 691.8 548.5 702.4 549.0 690.7 549.5 688.6 550.0 683.0 550.5 699.6 551.0 695.1 551.5 701.0 552.0 702.1 552.5 690.4 553.0 683.7 553.5 684.0 554.0 705.9 554.5 703.7 555.0 683.5 555.5 702.0 556.0 696.0 556.5 682.8 557.0 697.1 557.5 700.9 558.0 704.5 558.5 680.7 559.0 697.7 559.5 699.9 560.0 684.1 560.5 689.4 561.0 706.3 561.5 688.4 562.0 686.9 562.5 697.4 563.0 682.5 563.5 691.5 564.0 688.1 564.5 693.8 565.0 693.9 565.5 694.4 566.0 689.9 566.5 700.1 567.0 699.8 567.5 703.1 568.0 694.3 568.5 694.5 569.0 688.0 569.5 686.8 570.0 695.5 570.5 713.9 571.0 702.0 571.5 684.1 572.0 685.7 572.5 700.1 573.0 696.0 573.5 700.8 574.0 681.9 574.5 701.5 575.0 689.2 575.5 685.4 576.0 686.0 576.5 701.4 577.0 700.5 577.5 684.5 578.0 685.6 578.5 697.0 579.0 683.6 579.5 681.9 580.0 683.7 580.5 698.6 581.0 689.1 581.5 687.5 582.0 701.3 582.5 687.3 583.0 696.0 583.5 689.1 584.0 685.9 584.5 688.1 585.0 684.1 585.5 682.7 586.0 696.8 586.5 697.4 587.0 688.2 587.5 694.0 588.0 697.5 588.5 686.5 589.0 692.7 589.5 695.6 590.0 676.8 590.5 681.7 591.0 708.4 591.5 687.8 592.0 679.1 592.5 689.8 593.0 690.9 593.5 677.7 594.0 681.8 594.5 674.2 595.0 684.7 595.5 673.4 596.0 683.3 596.5 682.3 597.0 682.8 597.5 671.7 598.0 683.6 598.5 688.9 599.0 674.0 599.5 681.7 600.0 684.2 600.5 670.2 601.0 685.1 601.5 685.0 602.0 681.2 602.5 683.0 603.0 670.2 603.5 677.1 604.0 683.4 604.5 665.5 605.0 680.1 605.5 667.4 606.0 676.8 606.5 674.0 607.0 677.0 607.5 668.9 608.0 669.4 608.5 678.6 609.0 660.0 609.5 661.2 610.0 677.7 610.5 684.6 611.0 661.9 611.5 678.8 612.0 664.1 612.5 679.7 613.0 679.0 613.5 655.5 614.0 652.3 614.5 664.0 615.0 676.3 615.5 673.0 616.0 665.1 616.5 675.1 617.0 666.4 617.5 664.4 618.0 661.8 618.5 684.4 619.0 677.9 619.5 670.1 620.0 666.5 620.5 686.4 621.0 674.8 621.5 669.5 622.0 674.9 622.5 686.5 623.0 686.5 623.5 670.4 624.0 693.6 624.5 685.9 625.0 667.9 625.5 690.9 626.0 696.9 626.5 694.5 627.0 666.7 627.5 683.9 628.0 689.7 628.5 696.9 629.0 685.1 629.5 671.4 630.0 703.2 630.5 679.6 631.0 688.5 631.5 680.2 632.0 695.4 632.5 698.4 633.0 700.4 633.5 681.6 634.0 695.7 634.5 685.1 635.0 683.3 635.5 699.9 636.0 688.8 636.5 683.8 637.0 684.1 637.5 701.2 638.0 696.1 638.5 688.2 639.0 701.3 639.5 688.6 640.0 702.6 640.5 698.2 641.0 683.5 641.5 696.2 642.0 701.9 642.5 704.7 643.0 702.3 643.5 707.4 644.0 704.4 644.5 708.4 645.0 695.4 645.5 688.5 646.0 690.8 646.5 693.6 647.0 685.9 647.5 688.5 648.0 699.0 648.5 694.8 649.0 691.6 649.5 707.6 650.0 709.4 650.5 708.3 651.0 696.2 651.5 707.2 652.0 710.4 652.5 689.5 653.0 693.3 653.5 710.2 654.0 696.5 654.5 694.0 655.0 700.4 655.5 691.4 656.0 701.3 656.5 694.9 657.0 697.2 657.5 696.4 658.0 700.2 658.5 693.4 659.0 701.1 659.5 709.0 660.0 700.3 660.5 712.5 661.0 715.1 661.5 702.3 662.0 686.0 662.5 711.0 663.0 700.0 663.5 701.6 664.0 709.6 664.5 715.2 665.0 702.9 665.5 706.3 666.0 708.0 666.5 712.2 667.0 700.7 667.5 712.5 668.0 710.4 668.5 711.0 669.0 699.1 669.5 699.0 670.0 716.9 670.5 715.4 671.0 712.8 671.5 718.8 672.0 719.0 672.5 706.0 673.0 716.4 673.5 715.0 674.0 710.3 674.5 715.0 675.0 704.6 675.5 715.3 676.0 708.5 676.5 698.8 677.0 700.5 677.5 711.9 678.0 703.0 678.5 718.6 679.0 703.3 679.5 707.5 680.0 720.4 680.5 710.2 681.0 717.7 681.5 713.8 682.0 702.3 682.5 700.1 683.0 708.9 683.5 717.3 684.0 704.0 684.5 712.8 685.0 708.1 685.5 705.7 686.0 712.9 686.5 700.0 687.0 704.7 687.5 716.3 688.0 712.7 688.5 709.1 689.0 708.2 689.5 700.5 690.0 708.3 690.5 715.7 691.0 711.4 691.5 710.7 692.0 719.4 692.5 718.4 693.0 721.8 693.5 717.1 694.0 712.7 694.5 702.8 695.0 714.9 695.5 708.4 696.0 702.1 696.5 703.8 697.0 709.8 697.5 715.2 698.0 709.2 698.5 717.3 699.0 701.8 699.5 704.1 700.0 717.5 700.5 715.5 701.0 706.0 701.5 709.5 702.0 711.8 702.5 715.2 703.0 719.9 703.5 702.1 704.0 704.3 704.5 710.6 705.0 709.1 705.5 709.5 706.0 700.2 706.5 703.8 707.0 714.4 707.5 702.2 708.0 710.4 708.5 695.8 709.0 716.8 709.5 699.6 710.0 706.1 710.5 716.2 711.0 705.5 711.5 702.3 712.0 715.1 712.5 709.8 713.0 707.9 713.5 696.8 714.0 704.8 714.5 699.5 715.0 697.6 715.5 712.8 716.0 705.5 716.5 702.1 717.0 696.5 717.5 678.1 718.0 710.4 718.5 698.8 719.0 699.8 719.5 701.1 720.0 696.2 720.5 702.5 721.0 709.2 721.5 695.9 722.0 697.7 722.5 702.4 723.0 698.9 723.5 694.8 724.0 693.5 724.5 699.3 725.0 710.6 725.5 690.5 726.0 706.7 726.5 711.8 727.0 699.3 727.5 706.0 728.0 701.2 728.5 701.7 729.0 697.4 729.5 696.3 730.0 701.2 730.5 697.8 731.0 702.7 731.5 697.9 732.0 700.6 732.5 705.4 733.0 690.2 733.5 692.5 734.0 692.2 734.5 688.0 735.0 697.8 735.5 697.8 736.0 704.9 736.5 694.8 737.0 691.8 737.5 700.2 738.0 682.1 738.5 690.5 739.0 697.5 739.5 687.2 740.0 690.9 740.5 697.6 741.0 691.3 741.5 687.5 742.0 700.2 742.5 685.8 743.0 697.0 743.5 686.4 744.0 685.3 744.5 691.5 745.0 691.2 745.5 695.6 746.0 696.1 746.5 687.8 747.0 690.7 747.5 683.4 748.0 696.2 748.5 686.5 749.0 692.6 749.5 691.7 750.0 694.4 750.5 684.7 751.0 685.4 751.5 683.2 752.0 694.4 752.5 698.0 753.0 692.8 753.5 682.0 754.0 691.7 754.5 689.0 755.0 686.2 755.5 678.2 756.0 682.0 756.5 688.7 757.0 678.3 757.5 671.8 758.0 687.4 758.5 685.3 759.0 684.5 759.5 677.7 760.0 674.2 760.5 671.4 761.0 671.8 761.5 674.4 762.0 679.7 762.5 676.8 763.0 674.1 763.5 676.0 764.0 677.4 764.5 683.8 765.0 681.5 765.5 668.0 766.0 681.1 766.5 670.4 767.0 682.1 767.5 680.3 768.0 676.4 768.5 680.6 769.0 677.6 769.5 681.5 770.0 667.9 770.5 667.2 771.0 676.6 771.5 679.3 772.0 663.7 772.5 670.5 773.0 668.1 773.5 668.2 774.0 673.5 774.5 661.3 775.0 664.6 775.5 667.4 776.0 674.1 776.5 672.1 777.0 671.2 777.5 673.5 778.0 659.2 778.5 666.8 779.0 657.9 779.5 655.5 780.0 665.3 780.5 671.3 781.0 665.0 781.5 663.3 782.0 668.1 782.5 668.5 783.0 666.1 783.5 661.5 784.0 657.4 784.5 660.1 785.0 652.0 785.5 660.1 786.0 649.8 786.5 662.7 787.0 647.4 787.5 647.1 788.0 647.3 788.5 650.6 789.0 642.5 789.5 644.3 790.0 657.3 790.5 657.4 791.0 642.8 791.5 645.3 792.0 642.9 792.5 650.8 793.0 647.4 793.5 641.4 794.0 649.3 794.5 642.2 795.0 634.8 795.5 643.1 796.0 637.9 796.5 647.4 797.0 641.0 797.5 631.8 798.0 642.0 798.5 639.0 799.0 635.2 799.5 634.4 800.0 638.7 800.5 627.8 801.0 636.0 801.5 641.1 802.0 625.9 802.5 625.4 803.0 632.9 803.5 631.4 804.0 627.9 804.5 629.7 805.0 632.8 805.5 637.4 806.0 621.7 806.5 627.6 807.0 633.9 807.5 622.7 808.0 638.8 808.5 630.9 809.0 626.7 809.5 628.5 810.0 624.9 810.5 620.6 811.0 631.0 811.5 631.1 812.0 635.0 812.5 619.5 813.0 617.8 813.5 627.6 814.0 627.8 814.5 616.3 815.0 635.9 815.5 632.6 816.0 635.2 816.5 623.8 817.0 625.7 817.5 635.6 818.0 632.2 818.5 620.4 819.0 633.4 819.5 629.8 820.0 622.6 820.5 626.0 821.0 628.3 821.5 630.6 822.0 628.6 822.5 632.5 823.0 630.3 823.5 637.1 824.0 635.4 824.5 621.7 825.0 626.0 825.5 638.1 826.0 633.7 826.5 641.3 827.0 627.8 827.5 623.3 828.0 621.5 828.5 634.5 829.0 621.7 829.5 636.7 830.0 630.5 830.5 636.8 831.0 643.0 831.5 627.7 832.0 633.7 832.5 639.0 833.0 629.5 833.5 621.5 834.0 607.4 834.5 643.7 835.0 642.2 835.5 625.5 836.0 628.3 836.5 639.4 837.0 630.8 837.5 633.4 838.0 633.4 838.5 638.5 839.0 636.6 839.5 653.2 840.0 642.3 840.5 646.9 841.0 651.6 841.5 651.7 842.0 639.4 842.5 642.2 843.0 644.6 843.5 631.0 844.0 652.9 844.5 635.8 845.0 645.6 845.5 646.6 846.0 651.5 846.5 643.9 847.0 647.5 847.5 654.7 848.0 647.8 848.5 648.8 849.0 656.7 849.5 635.8 850.0 648.3 850.5 637.1 851.0 640.7 851.5 639.3 852.0 657.8 852.5 645.3 853.0 650.7 853.5 659.9 854.0 657.7 854.5 661.7 855.0 654.6 855.5 658.8 856.0 659.9 856.5 648.0 857.0 658.4 857.5 646.7 858.0 654.0 858.5 654.2 859.0 664.4 859.5 655.8 860.0 646.7 860.5 665.1 861.0 655.8 861.5 647.7 862.0 653.1 862.5 658.1 863.0 648.9 863.5 653.0 864.0 653.0 864.5 655.7 865.0 659.7 865.5 655.9 866.0 658.2 866.5 661.3 867.0 659.8 867.5 667.5 868.0 670.0 868.5 651.9 869.0 656.7 869.5 658.8 870.0 661.3 870.5 664.7 871.0 671.2 871.5 670.3 872.0 674.2 872.5 672.9 873.0 668.6 873.5 675.7 874.0 671.5 874.5 667.1 875.0 669.3 875.5 657.5 876.0 678.7 876.5 674.8 877.0 667.2 877.5 677.1 878.0 676.6 878.5 670.2 879.0 680.3 879.5 682.4 880.0 671.0 880.5 678.2 881.0 664.4 881.5 663.9 882.0 668.0 882.5 669.5 883.0 668.1 883.5 677.9 884.0 685.1 884.5 677.4 885.0 689.9 885.5 680.2 886.0 678.6 886.5 678.3 887.0 675.3 887.5 677.3 888.0 672.7 888.5 672.2 889.0 680.0 889.5 679.9 890.0 680.2 890.5 683.2 891.0 674.0 891.5 666.3 892.0 671.6 892.5 675.0 893.0 681.2 893.5 677.7 894.0 685.6 894.5 673.3 895.0 677.9 895.5 668.1 896.0 685.9 896.5 688.5 897.0 686.8 897.5 691.7 898.0 677.7 898.5 693.3 899.0 684.8 899.5 673.5 900.0 671.6 900.5 674.0 901.0 675.6 901.5 686.2 902.0 689.7 902.5 686.5 903.0 687.1 903.5 677.3 904.0 689.6 904.5 675.6 905.0 686.9 905.5 678.1 906.0 677.7 906.5 695.5 907.0 691.1 907.5 690.2 908.0 678.9 908.5 687.4 909.0 683.0 909.5 677.5 910.0 682.6 910.5 678.5 911.0 698.9 911.5 683.4 912.0 675.6 912.5 681.3 913.0 691.5 913.5 689.8 914.0 694.4 914.5 678.6 915.0 680.1 915.5 690.1 916.0 690.4 916.5 694.4 917.0 679.0 917.5 687.9 918.0 687.1 918.5 690.2 919.0 686.0 919.5 692.6 920.0 681.5 920.5 683.9 921.0 686.7 921.5 681.3 922.0 694.7 922.5 692.3 923.0 682.0 923.5 688.6 924.0 690.6 924.5 694.3 925.0 681.5 925.5 698.6 926.0 698.8 926.5 688.3 927.0 681.3 927.5 697.4 928.0 699.6 928.5 687.7 929.0 701.6 929.5 694.1 930.0 702.7 930.5 692.6 931.0 692.5 931.5 691.2 932.0 696.4 932.5 704.3 933.0 688.1 933.5 696.8 934.0 696.6 934.5 698.5 935.0 686.4 935.5 700.9 936.0 697.0 936.5 694.6 937.0 706.4 937.5 688.6 938.0 702.2 938.5 692.1 939.0 705.0 939.5 697.0 940.0 696.0 940.5 695.1 941.0 698.3 941.5 704.9 942.0 691.0 942.5 701.4 943.0 692.9 943.5 693.1 944.0 709.5 944.5 690.1 945.0 704.4 945.5 689.7 946.0 699.6 946.5 702.2 947.0 691.7 947.5 708.1 948.0 690.4 948.5 697.5 949.0 694.0 949.5 705.4 950.0 697.2 950.5 696.2 951.0 690.1 951.5 707.6 952.0 693.8 952.5 698.1 953.0 707.8 953.5 694.9 954.0 705.6 954.5 697.9 955.0 707.6 955.5 694.1 956.0 691.2 956.5 692.3 957.0 699.5 957.5 702.8 958.0 706.5 958.5 711.2 959.0 697.4 959.5 708.8 960.0 699.1 960.5 700.6 961.0 692.9 961.5 707.5 962.0 696.3 962.5 705.6 963.0 708.7 963.5 710.5 964.0 696.1 964.5 706.6 965.0 709.5 965.5 698.0 966.0 709.8 966.5 704.5 967.0 694.4 967.5 710.8 968.0 701.2 968.5 700.7 969.0 709.8 969.5 708.4 970.0 694.3 970.5 695.1 971.0 708.3 971.5 709.7 972.0 700.7 972.5 707.3 973.0 709.8 973.5 714.2 974.0 700.7 974.5 714.4 975.0 711.6 975.5 706.4 976.0 694.7 976.5 706.3 977.0 705.7 977.5 710.4 978.0 704.4 978.5 706.2 979.0 709.9 979.5 696.3 980.0 694.0 980.5 693.0 981.0 695.9 981.5 698.8 982.0 695.2 982.5 704.7 983.0 706.1 983.5 702.2 984.0 695.1 984.5 705.4 985.0 700.2 985.5 691.8 986.0 712.7 986.5 712.1 987.0 695.1 987.5 708.1 988.0 696.2 988.5 705.9 989.0 706.8 989.5 704.7 990.0 716.8 990.5 706.8 991.0 697.5 991.5 711.2 992.0 700.3 992.5 707.7 993.0 705.8 993.5 710.4 994.0 697.0 994.5 703.9 995.0 702.3 995.5 707.2 996.0 711.7 996.5 703.5 997.0 700.4 997.5 707.9 998.0 694.8 998.5 705.7 999.0 702.9 999.5 707.0 1000.0 709.8 1000.5 710.8 1001.0 707.1 1001.5 699.3 1002.0 695.4 1002.5 706.7 1003.0 698.8 1003.5 694.1 1004.0 704.3 1004.5 700.4 1005.0 710.5 1005.5 701.4 1006.0 704.5 1006.5 712.8 1007.0 711.7 1007.5 701.1 1008.0 708.5 1008.5 717.2 1009.0 715.2 1009.5 713.1 1010.0 700.6 1010.5 716.7 1011.0 702.1 1011.5 707.8 1012.0 698.4 1012.5 711.0 1013.0 709.6 1013.5 711.2 1014.0 700.8 1014.5 717.1 1015.0 702.2 1015.5 711.1 1016.0 720.2 1016.5 715.6 1017.0 707.4 1017.5 707.9 1018.0 691.1 1018.5 705.1 1019.0 717.2 1019.5 708.7 1020.0 713.2 1020.5 712.9 1021.0 707.4 1021.5 717.4 1022.0 705.2 1022.5 703.8 1023.0 712.6 1023.5 702.5 1024.0 717.8 1024.5 709.7 1025.0 699.5 1025.5 698.7 1026.0 710.7 1026.5 698.5 1027.0 695.8 1027.5 704.5 1028.0 707.4 1028.5 717.4 1029.0 699.5 1029.5 715.6 1030.0 719.3 1030.5 717.6 1031.0 704.1 1031.5 699.9 1032.0 707.5 1032.5 701.7 1033.0 709.1 1033.5 715.1 1034.0 717.2 1034.5 699.0 1035.0 705.7 1035.5 704.4 1036.0 699.9 1036.5 708.4 1037.0 698.2 1037.5 703.7 1038.0 702.3 1038.5 709.2 1039.0 718.1 1039.5 700.8 1040.0 716.5 1040.5 708.8 1041.0 716.1 1041.5 714.9 1042.0 710.1 1042.5 711.2 1043.0 712.4 1043.5 718.5 1044.0 716.2 1044.5 706.3 1045.0 704.1 1045.5 704.2 1046.0 710.4 1046.5 703.8 1047.0 704.2 1047.5 718.6 1048.0 714.4 1048.5 709.6 1049.0 715.1 1049.5 711.6 1050.0 706.0 1050.5 716.8 1051.0 710.5 1051.5 703.2 1052.0 708.1 1052.5 713.5 1053.0 704.6 1053.5 714.5 1054.0 700.9 1054.5 714.7 1055.0 719.2 1055.5 713.9 1056.0 705.8 1056.5 716.8 1057.0 709.6 1057.5 715.6 1058.0 706.4 1058.5 704.4 1059.0 721.4 1059.5 702.9 1060.0 703.7 1060.5 716.9 1061.0 716.8 1061.5 708.3 1062.0 709.4 1062.5 717.1 1063.0 713.8 1063.5 713.2 1064.0 709.1 1064.5 719.1 1065.0 704.5 1065.5 712.7 1066.0 703.4 1066.5 708.9 1067.0 709.5 1067.5 715.4 1068.0 714.4 1068.5 708.5 1069.0 710.7 1069.5 709.8 1070.0 712.2 1070.5 710.0 1071.0 709.7 1071.5 713.4 1072.0 702.9 1072.5 704.1 1073.0 715.1 1073.5 705.5 1074.0 717.3 1074.5 703.8 1075.0 704.8 1075.5 715.0 1076.0 703.6 1076.5 711.2 1077.0 709.5 1077.5 709.4 1078.0 708.4 1078.5 721.9 1079.0 708.9 1079.5 704.6 1080.0 720.4 1080.5 706.2 1081.0 717.3 1081.5 716.9 1082.0 716.8 1082.5 716.7 1083.0 708.7 1083.5 704.0 1084.0 710.3 1084.5 711.7 1085.0 708.7 1085.5 719.8 1086.0 707.2 1086.5 717.1 1087.0 713.1 1087.5 707.5 1088.0 720.7 1088.5 711.6 1089.0 710.8 1089.5 708.1 1090.0 713.9 1090.5 712.6 1091.0 714.8 1091.5 704.6 1092.0 714.1 1092.5 715.1 1093.0 726.0 1093.5 716.5 1094.0 720.0 1094.5 712.6 1095.0 715.1 1095.5 726.1 1096.0 713.6 1096.5 725.6 1097.0 716.0 1097.5 722.2 1098.0 716.5 1098.5 720.2 1099.0 721.2 1099.5 715.8 1100.0 712.4 1100.5 724.4 1101.0 714.9 1101.5 721.3 1102.0 709.8 1102.5 715.1 1103.0 715.3 1103.5 711.3 1104.0 714.0 1104.5 727.5 1105.0 717.0 1105.5 716.4 1106.0 720.2 1106.5 722.8 1107.0 719.4 1107.5 707.3 1108.0 712.0 1108.5 721.6 1109.0 717.1 1109.5 716.9 1110.0 710.0 1110.5 708.2 1111.0 709.7 1111.5 713.7 1112.0 716.5 1112.5 714.3 1113.0 717.7 1113.5 716.0 1114.0 716.2 1114.5 725.2 1115.0 707.6 1115.5 715.3 1116.0 715.7 1116.5 710.3 1117.0 720.7 1117.5 707.0 1118.0 719.1 1118.5 708.0 1119.0 713.4 1119.5 713.6 1120.0 715.1 1120.5 713.5 1121.0 706.3 1121.5 720.2 1122.0 713.4 1122.5 719.7 1123.0 705.6 1123.5 718.8 1124.0 721.0 1124.5 717.5 1125.0 709.7 1125.5 713.8 1126.0 719.4 1126.5 702.0 1127.0 721.7 1127.5 709.7 1128.0 716.7 1128.5 712.8 1129.0 720.7 1129.5 705.1 1130.0 708.5 1130.5 715.7 1131.0 721.5 1131.5 712.0 1132.0 707.2 1132.5 719.0 1133.0 714.0 1133.5 707.9 1134.0 704.7 1134.5 710.0 1135.0 707.0 1135.5 717.4 1136.0 719.4 1136.5 717.9 1137.0 716.7 1137.5 709.6 1138.0 704.4 1138.5 714.3 1139.0 716.9 1139.5 715.7 1140.0 705.6 1140.5 700.4 1141.0 712.6 1141.5 700.4 1142.0 705.9 1142.5 709.7 1143.0 706.7 1143.5 719.9 1144.0 704.7 1144.5 710.2 1145.0 718.4 1145.5 712.2 1146.0 708.0 1146.5 715.1 1147.0 704.7 1147.5 701.5 1148.0 705.2 1148.5 710.7 1149.0 711.8 1149.5 714.5 1150.0 713.4 1150.5 711.6 1151.0 718.9 1151.5 707.9 1152.0 701.9 1152.5 705.7 1153.0 709.3 1153.5 708.9 1154.0 705.2 1154.5 707.3 1155.0 705.9 1155.5 710.9 1156.0 716.1 1156.5 704.4 1157.0 714.9 1157.5 703.0 1158.0 719.1 1158.5 704.1 1159.0 712.0 1159.5 709.6 1160.0 699.4 1160.5 711.0 1161.0 698.3 1161.5 708.8 1162.0 707.3 1162.5 714.8 1163.0 703.2 1163.5 702.8 1164.0 711.3 1164.5 703.5 1165.0 709.9 1165.5 697.9 1166.0 711.4 1166.5 702.4 1167.0 710.1 1167.5 715.5 1168.0 715.4 1168.5 709.0 1169.0 710.6 1169.5 716.4 1170.0 702.9 1170.5 717.1 1171.0 714.2 1171.5 720.2 1172.0 710.3 1172.5 712.7 1173.0 713.4 1173.5 709.9 1174.0 706.4 1174.5 713.2 1175.0 711.4 1175.5 714.8 1176.0 718.2 1176.5 712.7 1177.0 710.0 1177.5 720.1 1178.0 723.1 1178.5 709.8 1179.0 717.6 1179.5 717.3 1180.0 718.2 1180.5 708.7 1181.0 722.6 1181.5 724.0 1182.0 711.9 1182.5 720.3 1183.0 715.3 1183.5 713.0 1184.0 721.6 1184.5 727.7 1185.0 719.6 1185.5 718.7 1186.0 723.7 1186.5 715.5 1187.0 718.7 1187.5 711.8 1188.0 717.9 1188.5 714.3 1189.0 716.8 1189.5 723.6 1190.0 714.8 1190.5 723.8 1191.0 727.6 1191.5 717.5 1192.0 720.6 1192.5 719.4 1193.0 709.8 1193.5 724.0 1194.0 730.5 1194.5 714.4 1195.0 724.5 1195.5 723.3 1196.0 728.0 1196.5 724.0 1197.0 717.0 1197.5 714.9 1198.0 720.6 1198.5 715.2 1199.0 722.7 1199.5 715.0 1200.0 727.0 1200.5 727.2 1201.0 714.0 1201.5 728.0 1202.0 729.1 1202.5 713.4 1203.0 722.8 1203.5 713.8 1204.0 723.5 1204.5 714.1 1205.0 722.8 1205.5 726.9 1206.0 715.6 1206.5 729.0 1207.0 727.0 1207.5 725.0 1208.0 727.9 1208.5 716.8 1209.0 715.2 1209.5 720.2 1210.0 729.1 1210.5 727.8 1211.0 727.1 1211.5 722.5 1212.0 722.7 1212.5 724.8 1213.0 725.1 1213.5 717.2 1214.0 724.1 1214.5 729.3 1215.0 731.1 1215.5 715.8 1216.0 715.8 1216.5 715.0 1217.0 722.8 1217.5 729.9 1218.0 723.5 1218.5 720.2 1219.0 729.3 1219.5 716.0 1220.0 725.5 1220.5 730.1 1221.0 727.4 1221.5 716.1 1222.0 717.3 1222.5 718.0 1223.0 726.7 1223.5 732.8 1224.0 723.7 1224.5 721.3 1225.0 719.8 1225.5 724.9 1226.0 731.3 1226.5 719.8 1227.0 717.9 1227.5 716.6 1228.0 716.9 1228.5 715.6 1229.0 722.6 1229.5 727.1 1230.0 723.1 1230.5 718.2 1231.0 718.4 1231.5 729.1 1232.0 723.8 1232.5 721.3 1233.0 727.1 1233.5 727.9 1234.0 723.5 1234.5 722.5 1235.0 721.9 1235.5 722.0 1236.0 729.8 1236.5 725.5 1237.0 729.6 1237.5 717.0 1238.0 718.4 1238.5 724.1 1239.0 723.3 1239.5 720.3 1240.0 723.9 1240.5 726.7 1241.0 722.9 1241.5 719.6 1242.0 722.9 1242.5 721.1 1243.0 723.3 1243.5 725.3 1244.0 726.1 1244.5 729.3 1245.0 720.7 1245.5 716.9 1246.0 721.6 1246.5 723.1 1247.0 725.8 1247.5 727.2 1248.0 716.6 1248.5 726.6 1249.0 718.0 1249.5 721.0 1250.0 713.9 1250.5 725.5 1251.0 719.5 1251.5 716.4 1252.0 726.8 1252.5 714.7 1253.0 715.9 1253.5 720.5 1254.0 714.9 1254.5 718.7 1255.0 724.9 1255.5 712.9 1256.0 719.8 1256.5 715.9 1257.0 721.6 1257.5 714.7 1258.0 714.4 1258.5 719.4 1259.0 712.1 1259.5 719.0 1260.0 713.7 1260.5 720.5 1261.0 720.2 1261.5 709.3 1262.0 715.5 1262.5 710.2 1263.0 710.0 1263.5 712.7 1264.0 717.6 1264.5 709.6 1265.0 713.4 1265.5 706.9 1266.0 710.0 1266.5 718.4 1267.0 713.9 1267.5 708.8 1268.0 703.2 1268.5 703.3 1269.0 719.3 1269.5 706.1 1270.0 718.2 1270.5 702.7 1271.0 708.5 1271.5 706.5 1272.0 715.5 1272.5 700.5 1273.0 707.9 1273.5 716.2 1274.0 710.2 1274.5 707.0 1275.0 701.7 1275.5 699.9 1276.0 691.2 1276.5 693.3 1277.0 697.6 1277.5 690.0 1278.0 696.5 1278.5 698.6 1279.0 709.2 1279.5 709.6 1280.0 688.3 1280.5 693.4 1281.0 699.7 1281.5 703.0 1282.0 693.1 1282.5 686.0 1283.0 691.6 1283.5 691.5 1284.0 683.7 1284.5 689.3 1285.0 697.1 1285.5 684.6 1286.0 687.0 1286.5 687.0 1287.0 695.8 1287.5 680.4 1288.0 689.2 1288.5 700.5 1289.0 696.5 1289.5 696.3 1290.0 700.8 1290.5 699.2 1291.0 689.2 1291.5 690.8 1292.0 683.8 1292.5 689.2 1293.0 696.8 1293.5 682.4 1294.0 686.9 1294.5 688.5 1295.0 686.1 1295.5 674.4 1296.0 684.1 1296.5 675.5 1297.0 698.0 1297.5 693.4 1298.0 682.5 1298.5 660.1 1299.0 676.9 1299.5 678.6 1300.0 689.0 1300.5 678.3 1301.0 683.7 1301.5 679.0 1302.0 678.1 1302.5 683.4 1303.0 683.3 1303.5 698.4 1304.0 685.2 1304.5 685.5 1305.0 700.6 1305.5 701.5 1306.0 703.0 1306.5 685.9 1307.0 687.6 1307.5 689.6 1308.0 687.7 1308.5 696.3 1309.0 690.0 1309.5 704.6 1310.0 698.9 1310.5 698.1 1311.0 695.9 1311.5 702.6 1312.0 707.9 1312.5 703.5 1313.0 696.4 1313.5 710.3 1314.0 705.1 1314.5 709.1 1315.0 713.4 1315.5 709.4 1316.0 691.7 1316.5 708.0 1317.0 702.8 1317.5 713.1 1318.0 715.3 1318.5 708.2 1319.0 704.1 1319.5 701.0 1320.0 717.5 1320.5 702.4 1321.0 712.6 1321.5 712.0 1322.0 720.9 1322.5 714.5 1323.0 722.7 1323.5 716.8 1324.0 720.0 1324.5 719.2 1325.0 723.2 1325.5 721.7 1326.0 713.9 1326.5 721.2 1327.0 717.3 1327.5 724.2 1328.0 718.5 1328.5 716.8 1329.0 710.9 1329.5 720.6 1330.0 712.2 1330.5 723.3 1331.0 716.5 1331.5 723.8 1332.0 729.1 1332.5 718.5 1333.0 721.9 1333.5 721.4 1334.0 717.1 1334.5 726.4 1335.0 724.6 1335.5 726.7 1336.0 720.4 1336.5 716.5 1337.0 723.3 1337.5 719.1 1338.0 721.1 1338.5 718.9 1339.0 724.7 1339.5 723.6 1340.0 727.6 1340.5 725.2 1341.0 720.4 1341.5 726.6 1342.0 730.5 1342.5 724.4 1343.0 730.6 1343.5 732.6 1344.0 728.6 1344.5 736.6 1345.0 734.1 1345.5 727.9 1346.0 723.1 1346.5 730.0 1347.0 723.4 1347.5 734.9 1348.0 722.5 1348.5 725.0 1349.0 726.3 1349.5 737.0 1350.0 737.2 1350.5 734.2 1351.0 735.4 1351.5 728.7 1352.0 734.7 1352.5 726.0 1353.0 729.3 1353.5 737.4 1354.0 734.7 1354.5 738.6 1355.0 738.1 1355.5 727.0 1356.0 731.9 1356.5 739.9 1357.0 735.7 1357.5 734.1 1358.0 724.8 1358.5 739.5 1359.0 733.0 1359.5 728.8 1360.0 732.6 1360.5 741.1 1361.0 735.0 1361.5 741.4 1362.0 739.6 1362.5 732.2 1363.0 739.6 1363.5 747.9 1364.0 730.1 1364.5 728.5 1365.0 727.5 1365.5 735.8 1366.0 739.5 1366.5 727.7 1367.0 729.1 1367.5 733.8 1368.0 738.5 1368.5 733.1 1369.0 741.9 1369.5 732.8 1370.0 731.5 1370.5 732.8 1371.0 730.5 1371.5 735.4 1372.0 733.5 1372.5 736.5 1373.0 738.3 1373.5 736.0 1374.0 733.9 1374.5 731.2 1375.0 731.2 1375.5 730.3 1376.0 738.9 1376.5 726.6 1377.0 737.7 1377.5 736.9 1378.0 741.3 1378.5 739.0 1379.0 740.9 1379.5 733.6 1380.0 737.4 1380.5 730.4 1381.0 741.8 1381.5 737.0 1382.0 737.6 1382.5 736.7 1383.0 729.9 1383.5 732.1 1384.0 743.3 1384.5 740.7 1385.0 730.1 1385.5 732.5 1386.0 734.0 1386.5 732.1 1387.0 742.5 1387.5 739.6 1388.0 745.5 1388.5 740.5 1389.0 740.3 1389.5 735.9 1390.0 741.8 1390.5 736.6 1391.0 744.1 1391.5 737.5 1392.0 743.3 1392.5 739.8 1393.0 737.5 1393.5 731.2 1394.0 734.3 1394.5 735.1 1395.0 738.6 1395.5 732.5 1396.0 735.9 1396.5 736.5 1397.0 738.4 1397.5 733.6 1398.0 738.8 1398.5 743.6 1399.0 745.6 1399.5 738.5 1400.0 747.8 1400.5 741.1 1401.0 743.1 1401.5 733.4 1402.0 737.1 1402.5 732.9 1403.0 742.5 1403.5 736.1 1404.0 742.7 1404.5 732.4 1405.0 733.3 1405.5 738.3 1406.0 732.7 1406.5 738.6 1407.0 738.3 1407.5 730.3 1408.0 733.3 1408.5 735.6 1409.0 734.3 1409.5 747.9 1410.0 740.6 1410.5 745.3 1411.0 739.0 1411.5 734.4 1412.0 736.6 1412.5 742.5 1413.0 739.5 1413.5 732.1 1414.0 739.4 1414.5 741.7 1415.0 742.9 1415.5 732.9 1416.0 748.0 1416.5 740.1 1417.0 738.8 1417.5 736.6 1418.0 746.5 1418.5 737.5 1419.0 737.5 1419.5 746.5 1420.0 739.6 1420.5 732.7 1421.0 734.5 1421.5 743.9 1422.0 738.2 1422.5 736.7 1423.0 738.3 1423.5 748.3 1424.0 739.5 1424.5 747.4 1425.0 744.0 1425.5 752.4 1426.0 744.3 1426.5 737.4 1427.0 747.6 1427.5 739.9 1428.0 734.4 1428.5 735.7 1429.0 742.6 1429.5 739.2 1430.0 750.6 1430.5 743.5 1431.0 742.7 1431.5 735.2 1432.0 734.1 1432.5 737.5 1433.0 738.7 1433.5 728.4 1434.0 734.3 1434.5 742.3 1435.0 741.2 1435.5 735.3 1436.0 747.7 1436.5 737.7 1437.0 746.3 1437.5 753.8 1438.0 742.3 1438.5 747.6 1439.0 736.2 1439.5 737.8 1440.0 736.2 1440.5 743.0 1441.0 744.0 1441.5 735.1 1442.0 743.2 1442.5 747.8 1443.0 736.6 1443.5 742.9 1444.0 746.9 1444.5 738.8 1445.0 749.3 1445.5 748.7 1446.0 733.4 1446.5 738.4 1447.0 738.0 1447.5 747.8 1448.0 742.4 1448.5 736.3 1449.0 740.0 1449.5 738.7 1450.0 750.5 1450.5 746.9 1451.0 747.3 1451.5 735.2 1452.0 739.0 1452.5 740.3 1453.0 739.3 1453.5 747.0 1454.0 740.0 1454.5 745.0 1455.0 743.2 1455.5 742.0 1456.0 737.1 1456.5 745.5 1457.0 741.2 1457.5 736.1 1458.0 741.1 1458.5 734.9 1459.0 738.1 1459.5 748.1 1460.0 739.4 1460.5 738.5 1461.0 739.6 1461.5 744.1 1462.0 742.5 1462.5 738.9 1463.0 747.5 1463.5 742.4 1464.0 748.3 1464.5 741.9 1465.0 740.8 1465.5 736.9 1466.0 736.0 1466.5 743.8 1467.0 739.9 1467.5 737.0 1468.0 741.2 1468.5 745.6 1469.0 743.4 1469.5 734.5 1470.0 741.9 1470.5 744.8 1471.0 740.7 1471.5 740.3 1472.0 744.6 1472.5 735.3 1473.0 736.5 1473.5 745.7 1474.0 740.1 1474.5 736.0 1475.0 735.2 1475.5 745.7 1476.0 742.4 1476.5 738.1 1477.0 736.3 1477.5 743.0 1478.0 738.2 1478.5 746.3 1479.0 749.4 1479.5 745.2 1480.0 750.3 1480.5 741.0 1481.0 736.9 1481.5 744.4 1482.0 739.6 1482.5 744.2 1483.0 736.3 1483.5 739.7 1484.0 744.5 1484.5 747.7 1485.0 735.6 1485.5 741.3 1486.0 748.5 1486.5 735.0 1487.0 739.3 1487.5 746.5 1488.0 740.9 1488.5 747.3 1489.0 739.2 1489.5 738.0 1490.0 733.3 1490.5 742.8 1491.0 748.0 1491.5 747.1 1492.0 733.3 1492.5 732.5 1493.0 733.2 1493.5 747.3 1494.0 739.5 1494.5 738.6 1495.0 745.7 1495.5 737.7 1496.0 738.1 1496.5 745.6 1497.0 744.9 1497.5 736.2 1498.0 737.2 1498.5 737.7 1499.0 749.9 1499.5 743.3 1500.0 748.5 1500.5 733.9 1501.0 746.6 1501.5 738.2 1502.0 740.3 1502.5 735.5 1503.0 743.9 1503.5 744.3 1504.0 736.9 1504.5 749.2 1505.0 748.0 1505.5 745.2 1506.0 745.7 1506.5 738.1 1507.0 733.1 1507.5 740.0 1508.0 733.3 1508.5 737.1 1509.0 727.1 1509.5 733.6 1510.0 736.2 1510.5 748.6 1511.0 749.2 1511.5 738.0 1512.0 736.4 1512.5 747.3 1513.0 732.6 1513.5 737.6 1514.0 746.1 1514.5 737.9 1515.0 744.8 1515.5 740.2 1516.0 742.2 1516.5 736.7 1517.0 745.9 1517.5 747.1 1518.0 747.9 1518.5 745.2 1519.0 744.4 1519.5 735.0 1520.0 739.6 1520.5 732.8 1521.0 744.5 1521.5 745.1 1522.0 739.8 1522.5 745.2 1523.0 745.0 1523.5 736.3 1524.0 742.8 1524.5 738.2 1525.0 732.2 1525.5 744.7 1526.0 734.9 1526.5 738.2 1527.0 738.7 1527.5 746.9 1528.0 745.1 1528.5 740.1 1529.0 745.8 1529.5 735.2 1530.0 733.5 1530.5 733.9 1531.0 741.3 1531.5 737.5 1532.0 746.6 1532.5 740.2 1533.0 740.7 1533.5 743.1 1534.0 740.4 1534.5 733.7 1535.0 733.4 1535.5 739.1 1536.0 735.0 1536.5 737.3 1537.0 744.1 1537.5 744.1 1538.0 744.9 1538.5 734.4 1539.0 730.7 1539.5 730.5 1540.0 729.1 1540.5 736.9 1541.0 731.5 1541.5 730.4 1542.0 731.7 1542.5 739.7 1543.0 739.4 1543.5 743.3 1544.0 742.0 1544.5 732.0 1545.0 738.2 1545.5 735.5 1546.0 726.8 1546.5 736.7 1547.0 743.6 1547.5 733.4 1548.0 728.5 1548.5 733.6 1549.0 735.6 1549.5 734.3 1550.0 739.7 1550.5 732.3 1551.0 742.9 1551.5 730.4 1552.0 717.9 1552.5 744.7 1553.0 727.8 1553.5 739.9 1554.0 728.7 1554.5 729.7 1555.0 748.1 1555.5 743.0 1556.0 739.4 1556.5 746.7 1557.0 743.3 1557.5 729.4 1558.0 734.5 1558.5 734.3 1559.0 730.7 1559.5 739.0 1560.0 741.5 1560.5 734.6 1561.0 741.6 1561.5 730.5 1562.0 737.4 1562.5 729.1 1563.0 739.8 1563.5 744.4 1564.0 733.7 1564.5 735.1 1565.0 740.0 1565.5 741.2 1566.0 728.7 1566.5 741.8 1567.0 742.6 1567.5 728.6 1568.0 729.1 1568.5 733.3 1569.0 734.4 1569.5 731.7 1570.0 735.5 1570.5 732.1 1571.0 729.6 1571.5 729.0 1572.0 734.2 1572.5 741.2 1573.0 741.6 1573.5 731.8 1574.0 724.5 1574.5 735.4 1575.0 741.1 1575.5 740.0 1576.0 731.7 1576.5 727.5 1577.0 726.0 1577.5 729.5 1578.0 734.0 1578.5 735.8 1579.0 734.6 1579.5 734.7 1580.0 724.7 1580.5 728.8 1581.0 730.1 1581.5 730.5 1582.0 732.4 1582.5 732.4 1583.0 723.1 1583.5 721.4 1584.0 728.5 1584.5 736.6 1585.0 729.5 1585.5 732.8 1586.0 727.1 1586.5 736.6 1587.0 733.9 1587.5 723.8 1588.0 733.8 1588.5 732.1 1589.0 723.4 1589.5 722.0 1590.0 735.3 1590.5 735.6 1591.0 722.0 1591.5 730.5 1592.0 736.7 1592.5 730.3 1593.0 731.7 1593.5 732.3 1594.0 729.1 1594.5 736.7 1595.0 724.0 1595.5 724.2 1596.0 728.4 1596.5 728.7 1597.0 727.1 1597.5 730.2 1598.0 724.1 1598.5 730.5 1599.0 727.0 1599.5 725.6 1600.0 728.8 1600.5 728.5 1601.0 730.3 1601.5 737.1 1602.0 734.8 1602.5 733.7 1603.0 722.2 1603.5 730.3 1604.0 726.2 1604.5 724.8 1605.0 730.4 1605.5 722.1 1606.0 733.0 1606.5 733.2 1607.0 720.7 1607.5 722.8 1608.0 735.7 1608.5 720.8 1609.0 731.4 1609.5 731.1 1610.0 727.1 1610.5 718.5 1611.0 733.9 1611.5 722.8 1612.0 735.5 1612.5 727.4 1613.0 731.1 1613.5 720.2 1614.0 716.4 1614.5 724.0 1615.0 721.2 1615.5 712.6 1616.0 729.4 1616.5 736.9 1617.0 727.7 1617.5 736.1 1618.0 731.6 1618.5 717.0 1619.0 714.2 1619.5 729.2 1620.0 722.0 1620.5 729.9 1621.0 717.6 1621.5 722.1 1622.0 735.8 1622.5 719.2 1623.0 717.9 1623.5 724.8 1624.0 722.9 1624.5 726.8 1625.0 716.4 1625.5 716.0 1626.0 722.5 1626.5 723.0 1627.0 730.0 1627.5 721.3 1628.0 719.1 1628.5 734.1 1629.0 714.9 1629.5 722.6 1630.0 717.9 1630.5 728.6 1631.0 726.8 1631.5 725.1 1632.0 724.0 1632.5 723.3 1633.0 731.3 1633.5 719.0 1634.0 729.7 1634.5 716.3 1635.0 724.9 1635.5 728.0 1636.0 721.6 1636.5 729.9 1637.0 724.9 1637.5 715.0 1638.0 722.8 1638.5 712.5 1639.0 714.1 1639.5 725.6 1640.0 716.5 1640.5 716.1 1641.0 722.1 1641.5 728.0 1642.0 721.2 1642.5 715.3 1643.0 715.9 1643.5 710.2 1644.0 712.8 1644.5 719.1 1645.0 714.4 1645.5 716.0 1646.0 730.6 1646.5 726.7 1647.0 728.5 1647.5 732.1 1648.0 727.0 1648.5 721.4 1649.0 711.9 1649.5 727.6 1650.0 712.5 1650.5 716.4 1651.0 717.7 1651.5 730.4 1652.0 729.0 1652.5 714.1 1653.0 717.4 1653.5 720.3 1654.0 711.6 1654.5 718.8 1655.0 718.7 1655.5 723.4 1656.0 723.8 1656.5 726.4 1657.0 707.1 1657.5 727.6 1658.0 712.7 1658.5 730.8 1659.0 710.3 1659.5 715.4 1660.0 722.6 1660.5 711.7 1661.0 715.9 1661.5 713.1 1662.0 713.6 1662.5 726.8 1663.0 711.1 1663.5 724.0 1664.0 723.8 1664.5 710.8 1665.0 713.4 1665.5 724.8 1666.0 718.1 1666.5 711.2 1667.0 717.2 1667.5 714.4 1668.0 724.3 1668.5 726.7 1669.0 715.3 1669.5 725.9 1670.0 705.8 1670.5 726.4 1671.0 706.0 1671.5 714.2 1672.0 712.6 1672.5 720.3 1673.0 712.7 1673.5 710.3 1674.0 718.3 1674.5 696.2 1675.0 713.8 1675.5 720.4 1676.0 709.1 1676.5 713.5 1677.0 721.9 1677.5 719.1 1678.0 715.9 1678.5 709.6 1679.0 703.5 1679.5 712.8 1680.0 715.6 1680.5 705.3 1681.0 720.1 1681.5 715.8 1682.0 705.9 1682.5 705.0 1683.0 702.8 1683.5 704.0 1684.0 716.4 1684.5 703.0 1685.0 710.3 1685.5 707.6 1686.0 713.9 1686.5 716.0 1687.0 712.6 1687.5 712.6 1688.0 713.9 1688.5 716.2 1689.0 713.1 1689.5 704.9 1690.0 703.1 1690.5 712.7 1691.0 715.3 1691.5 716.4 1692.0 716.6 1692.5 716.3 1693.0 701.1 1693.5 716.8 1694.0 700.6 1694.5 712.5 1695.0 709.2 1695.5 702.1 1696.0 711.0 1696.5 701.5 1697.0 699.6 1697.5 712.0 1698.0 720.6 1698.5 707.4 1699.0 722.2 1699.5 720.8 1700.0 714.7 1700.5 708.2 1701.0 717.5 1701.5 703.6 1702.0 704.7 1702.5 716.8 1703.0 716.6 1703.5 704.1 1704.0 706.0 1704.5 699.0 1705.0 699.1 1705.5 702.4 1706.0 701.1 1706.5 696.5 1707.0 716.2 1707.5 715.8 1708.0 700.4 1708.5 703.5 1709.0 696.9 1709.5 705.9 1710.0 701.2 1710.5 709.2 1711.0 711.9 1711.5 712.1 1712.0 701.1 1712.5 715.1 1713.0 716.0 1713.5 702.2 1714.0 716.8 1714.5 703.1 1715.0 704.5 1715.5 697.4 1716.0 715.0 1716.5 717.5 1717.0 713.0 1717.5 704.5 1718.0 701.6 1718.5 714.0 1719.0 715.1 1719.5 712.9 1720.0 697.8 1720.5 702.4 1721.0 707.6 1721.5 700.4 1722.0 714.7 1722.5 715.9 1723.0 718.7 1723.5 716.4 1724.0 696.9 1724.5 701.5 1725.0 717.2 1725.5 709.2 1726.0 698.2 1726.5 699.4 1727.0 702.4 1727.5 715.7 1728.0 703.2 1728.5 712.2 1729.0 716.8 1729.5 705.0 1730.0 714.2 1730.5 713.5 1731.0 698.7 1731.5 701.0 1732.0 718.1 1732.5 720.2 1733.0 713.7 1733.5 710.8 1734.0 717.8 1734.5 707.4 1735.0 715.7 1735.5 713.7 1736.0 706.2 1736.5 693.0 1737.0 703.2 1737.5 716.8 1738.0 716.8 1738.5 711.3 1739.0 702.9 1739.5 714.2 1740.0 702.2 1740.5 711.8 1741.0 702.1 1741.5 708.0 1742.0 712.2 1742.5 710.5 1743.0 715.5 1743.5 719.4 1744.0 712.5 1744.5 698.1 1745.0 704.9 1745.5 710.8 1746.0 714.9 1746.5 699.6 1747.0 706.9 1747.5 717.7 1748.0 716.3 1748.5 716.9 1749.0 703.5 1749.5 703.2 1750.0 715.4 1750.5 717.4 1751.0 715.9 1751.5 714.2 1752.0 712.0 1752.5 703.2 1753.0 713.2 1753.5 707.8 1754.0 714.1 1754.5 711.1 1755.0 703.9 1755.5 703.3 1756.0 701.8 1756.5 702.6 1757.0 718.4 1757.5 706.7 1758.0 711.1 1758.5 703.5 1759.0 726.1 1759.5 719.3 1760.0 709.0 1760.5 719.7 1761.0 719.8 1761.5 713.6 1762.0 702.2 1762.5 712.9 1763.0 702.6 1763.5 721.3 1764.0 719.6 1764.5 702.9 1765.0 705.2 1765.5 712.2 1766.0 706.1 1766.5 717.8 1767.0 710.6 1767.5 713.4 1768.0 710.0 1768.5 713.8 1769.0 721.3 1769.5 717.4 1770.0 708.6 1770.5 710.3 1771.0 706.2 1771.5 720.8 1772.0 705.2 1772.5 710.3 1773.0 703.3 1773.5 717.3 1774.0 723.8 1774.5 713.5 1775.0 703.7 1775.5 708.8 1776.0 717.4 1776.5 703.7 1777.0 711.2 1777.5 697.7 1778.0 704.3 1778.5 718.2 1779.0 708.3 1779.5 708.6 1780.0 719.3 1780.5 715.6 1781.0 711.6 1781.5 706.4 1782.0 724.8 1782.5 714.1 1783.0 712.9 1783.5 715.6 1784.0 714.7 1784.5 721.0 1785.0 720.4 1785.5 709.6 1786.0 724.2 1786.5 710.4 1787.0 716.4 1787.5 725.1 1788.0 715.8 1788.5 706.2 1789.0 715.9 1789.5 719.9 1790.0 705.0 1790.5 710.5 1791.0 710.7 1791.5 712.5 1792.0 725.1 1792.5 705.9 1793.0 707.9 1793.5 717.9 1794.0 707.7 1794.5 720.2 1795.0 714.0 1795.5 717.1 1796.0 715.5 1796.5 712.4 1797.0 714.2 1797.5 715.1 1798.0 712.3 1798.5 712.5 1799.0 687.2 1799.5 715.6 1800.0 717.7 1800.5 716.3 1801.0 718.1 1801.5 721.9 1802.0 726.1 1802.5 709.1 1803.0 716.7 1803.5 716.3 1804.0 709.6 1804.5 712.4 1805.0 713.9 1805.5 710.3 1806.0 717.5 1806.5 707.8 1807.0 714.2 1807.5 714.0 1808.0 710.0 1808.5 710.7 1809.0 720.3 1809.5 707.6 1810.0 717.2 1810.5 707.4 1811.0 721.8 1811.5 722.3 1812.0 713.4 1812.5 715.6 1813.0 723.7 1813.5 709.8 1814.0 726.2 1814.5 719.9 1815.0 727.0 1815.5 720.6 1816.0 708.4 1816.5 716.2 1817.0 722.3 1817.5 719.9 1818.0 717.6 1818.5 714.8 1819.0 723.6 1819.5 713.2 1820.0 723.3 1820.5 714.8 1821.0 720.9 1821.5 729.1 1822.0 722.1 1822.5 727.9 1823.0 710.3 1823.5 722.6 1824.0 722.3 1824.5 712.4 1825.0 724.2 1825.5 724.0 1826.0 719.5 1826.5 728.4 1827.0 710.5 1827.5 728.4 1828.0 711.3 1828.5 728.1 1829.0 714.1 1829.5 711.4 1830.0 720.6 1830.5 721.2 1831.0 725.4 1831.5 729.0 1832.0 722.4 1832.5 723.8 1833.0 722.5 1833.5 719.2 1834.0 729.8 1834.5 728.0 1835.0 717.1 1835.5 727.7 1836.0 718.0 1836.5 718.8 1837.0 727.5 1837.5 719.7 1838.0 724.7 1838.5 732.9 1839.0 728.0 1839.5 717.2 1840.0 713.9 1840.5 719.6 1841.0 721.1 1841.5 728.3 1842.0 718.9 1842.5 715.4 1843.0 731.7 1843.5 727.6 1844.0 721.4 1844.5 718.1 1845.0 717.9 1845.5 720.0 1846.0 729.1 1846.5 715.4 1847.0 728.5 1847.5 722.8 1848.0 726.8 1848.5 722.7 1849.0 719.0 1849.5 716.3 1850.0 731.8 1850.5 730.9 1851.0 719.5 1851.5 721.7 1852.0 723.0 1852.5 730.6 1853.0 725.1 1853.5 724.9 1854.0 715.0 1854.5 718.7 1855.0 730.7 1855.5 725.1 1856.0 719.2 1856.5 728.3 1857.0 719.5 1857.5 730.4 1858.0 736.4 1858.5 733.2 1859.0 720.7 1859.5 724.8 1860.0 732.5 1860.5 725.2 1861.0 716.9 1861.5 722.1 1862.0 730.2 1862.5 725.4 1863.0 719.5 1863.5 724.9 1864.0 732.1 1864.5 728.0 1865.0 722.3 1865.5 720.8 1866.0 721.0 1866.5 722.5 1867.0 733.4 1867.5 733.3 1868.0 721.2 1868.5 729.3 1869.0 732.7 1869.5 723.0 1870.0 729.6 1870.5 734.3 1871.0 719.3 1871.5 725.9 1872.0 733.0 1872.5 718.4 1873.0 717.0 1873.5 730.4 1874.0 726.7 1874.5 735.1 1875.0 728.4 1875.5 733.5 1876.0 727.3 1876.5 727.1 1877.0 730.4 1877.5 724.4 1878.0 724.1 1878.5 730.3 1879.0 717.5 1879.5 724.3 1880.0 720.0 1880.5 724.3 1881.0 716.2 1881.5 718.4 1882.0 726.0 1882.5 720.8 1883.0 730.6 1883.5 726.6 1884.0 722.7 1884.5 731.2 1885.0 719.4 1885.5 733.5 1886.0 717.8 1886.5 718.4 1887.0 733.1 1887.5 719.6 1888.0 725.8 1888.5 722.4 1889.0 724.3 1889.5 722.9 1890.0 730.6 1890.5 725.9 1891.0 728.8 1891.5 736.5 1892.0 726.1 1892.5 724.5 1893.0 726.7 1893.5 748.0 1894.0 727.1 1894.5 733.9 1895.0 724.0 1895.5 734.2 1896.0 723.0 1896.5 719.0 1897.0 728.3 1897.5 732.7 1898.0 721.8 1898.5 733.3 1899.0 730.8 1899.5 721.9 1900.0 731.6 1900.5 725.7 1901.0 725.4 1901.5 723.3 1902.0 720.3 1902.5 724.7 1903.0 725.8 1903.5 716.9 1904.0 733.7 1904.5 723.4 1905.0 724.6 1905.5 733.9 1906.0 723.7 1906.5 724.5 1907.0 732.1 1907.5 723.2 1908.0 734.2 1908.5 727.3 1909.0 724.2 1909.5 723.2 1910.0 724.2 1910.5 735.1 1911.0 726.9 1911.5 717.0 1912.0 719.3 1912.5 732.0 1913.0 733.3 1913.5 747.2 1914.0 718.0 1914.5 724.0 1915.0 732.8 1915.5 732.0 1916.0 732.1 1916.5 719.6 1917.0 732.1 1917.5 731.6 1918.0 733.4 1918.5 725.0 1919.0 730.1 1919.5 719.9 1920.0 733.6 1920.5 718.2 1921.0 732.9 1921.5 730.6 1922.0 721.1 1922.5 722.2 1923.0 725.7 1923.5 732.9 1924.0 736.2 1924.5 734.6 1925.0 729.8 1925.5 722.9 1926.0 717.9 1926.5 732.7 1927.0 730.2 1927.5 721.0 1928.0 727.9 1928.5 724.2 1929.0 731.2 1929.5 718.4 1930.0 721.8 1930.5 718.6 1931.0 727.0 1931.5 722.7 1932.0 728.3 1932.5 728.4 1933.0 724.6 1933.5 729.8 1934.0 730.7 1934.5 717.9 1935.0 724.7 1935.5 730.1 1936.0 727.3 1936.5 726.8 1937.0 720.8 1937.5 735.1 1938.0 728.5 1938.5 730.1 1939.0 731.4 1939.5 718.2 1940.0 722.1 1940.5 732.0 1941.0 716.5 1941.5 717.5 1942.0 732.9 1942.5 718.7 1943.0 731.8 1943.5 733.4 1944.0 723.3 1944.5 729.8 1945.0 717.6 1945.5 731.7 1946.0 736.4 1946.5 722.2 1947.0 718.3 1947.5 729.8 1948.0 736.8 1948.5 721.1 1949.0 734.4 1949.5 733.4 1950.0 722.5 1950.5 721.3 1951.0 720.8 1951.5 723.8 1952.0 725.2 1952.5 720.4 1953.0 721.7 1953.5 725.0 1954.0 728.1 1954.5 734.1 1955.0 718.2 1955.5 733.8 1956.0 724.2 1956.5 722.6 1957.0 733.6 1957.5 726.3 1958.0 727.7 1958.5 732.5 1959.0 729.8 1959.5 730.7 1960.0 725.4 1960.5 723.9 1961.0 726.5 1961.5 725.9 1962.0 718.6 1962.5 730.9 1963.0 730.9 1963.5 732.1 1964.0 728.4 1964.5 725.8 1965.0 724.2 1965.5 723.5 1966.0 732.9 1966.5 729.9 1967.0 718.2 1967.5 729.2 1968.0 732.4 1968.5 731.7 1969.0 722.2 1969.5 732.8 1970.0 731.6 1970.5 728.4 1971.0 731.8 1971.5 719.8 1972.0 731.5 1972.5 731.0 1973.0 722.2 1973.5 730.3 1974.0 726.5 1974.5 729.8 1975.0 722.3 1975.5 728.3 1976.0 720.0 1976.5 734.8 1977.0 726.9 1977.5 734.1 1978.0 725.8 1978.5 726.4 1979.0 732.4 1979.5 735.8 1980.0 721.9 1980.5 714.3 1981.0 729.0 1981.5 725.0 1982.0 735.5 1982.5 726.2 1983.0 717.7"/>
<path stroke="#0000ff" stroke-width="5.3" d="M227.0 1159.7L228.0 1158.4 229.0 1157.7 230.0 1155.8 231.0 1153.5 232.0 1152.9 233.0 1151.4 234.0 1150.6 235.0 1148.6 236.0 1148.3 237.0 1147.2 238.0 1146.7 239.0 1145.1 240.0 1144.1 241.0 1142.2 242.0 1142.9 243.0 1140.0 244.0 1140.4 245.0 1138.9 246.0 1137.7 247.0 1136.9 248.0 1136.0 249.0 1135.7 250.0 1134.6 251.0 1134.6 252.0 1132.3 253.0 1132.3 254.0 1131.2 255.0 1131.2 256.0 1129.1 257.0 1129.2 258.0 1128.7 259.0 1127.2 260.0 1127.5 261.0 1126.4 262.0 1126.0 263.0 1125.2 264.0 1123.6 265.0 1122.8 266.0 1122.3 267.0 1121.9 268.0 1121.1 269.0 1119.6 270.0 1118.8 271.0 1117.9 272.0 1117.1 273.0 1116.4 274.0 1115.6 275.0 1115.8 276.0 1113.8 277.0 1113.1 278.0 1112.6 279.0 1111.2 280.0 1110.7 281.0 1110.1 282.0 1109.7 283.0 1108.1 284.0 1108.6 285.0 1107.2 286.0 1106.7 287.0 1106.4 288.0 1105.6 289.0 1105.2 290.0 1104.1 291.0 1103.4 292.0 1102.9 293.0 1101.7 294.0 1102.1 295.0 1100.7 296.0 1099.9 297.0 1100.8 298.0 1099.3 299.0 1098.3 300.0 1099.2 301.0 1097.7 302.0 1097.9 303.0 1096.6 304.0 1096.5 305.0 1095.4 306.0 1094.8 307.0 1094.8 308.0 1094.8 309.0 1094.7 310.0 1095.1 311.0 1093.2 312.0 1093.8 313.0 1092.9 314.0 1093.0 315.0 1092.3 316.0 1092.3 317.0 1092.7 318.0 1092.5 319.0 1093.1 320.0 1092.8 321.0 1093.8 322.0 1093.4 323.0 1093.4 324.0 1094.0 325.0 1093.8 326.0 1093.6 327.0 1093.7 328.0 1093.8 329.0 1094.5 330.0 1094.5 331.0 1094.5 332.0 1095.0 333.0 1094.7 334.0 1095.5 335.0 1095.0 336.0 1096.7 337.0 1096.6 338.0 1097.1 339.0 1097.8 340.0 1098.0 341.0 1098.4 342.0 1099.7 343.0 1099.9 344.0 1100.2 345.0 1101.6 346.0 1101.5 347.0 1103.9 348.0 1103.9 349.0 1105.0 350.0 1107.0 351.0 1108.1 352.0 1108.4 353.0 1109.8 354.0 1111.2 355.0 1112.6 356.0 1112.9 357.0 1114.2 358.0 1115.7 359.0 1116.4 360.0 1117.7 361.0 1118.6 362.0 1118.9 363.0 1120.1 364.0 1120.4 365.0 1122.5 366.0 1124.2 367.0 1124.2 368.0 1126.3 369.0 1127.2 370.0 1127.7 371.0 1128.8 372.0 1129.9 373.0 1130.6 374.0 1132.1 375.0 1133.6 376.0 1135.3 377.0 1136.9 378.0 1137.6 379.0 1139.6 380.0 1139.9 381.0 1140.9 382.0 1141.7 383.0 1141.9 384.0 1142.1 385.0 1142.6 386.0 1142.6 387.0 1143.2 388.0 1144.9 389.0 1147.8 390.0 1150.2 391.0 1153.9 392.0 1155.6 393.0 1156.8 394.0 1160.6 395.0 1164.1 396.0 1165.8 397.0 1167.8 398.0 1169.6 399.0 1172.5 400.0 1174.2 401.0 1175.8 402.0 1177.4 403.0 1179.5 404.0 1180.9 405.0 1181.6 406.0 1184.2 407.0 1185.6 408.0 1187.1 409.0 1189.1 410.0 1190.4 411.0 1190.7 412.0 1194.3 413.0 1195.6 414.0 1196.7 415.0 1198.2 416.0 1199.9 417.0 1200.8 418.0 1203.0 419.0 1204.3 420.0 1205.8 421.0 1207.2 422.0 1209.1 423.0 1211.8 424.0 1214.0 425.0 1215.9 426.0 1217.9 427.0 1219.9 428.0 1223.0 429.0 1225.6 430.0 1226.3 431.0 1229.6 432.0 1229.9 433.0 1232.5 434.0 1234.4 435.0 1235.3 436.0 1236.7 437.0 1239.0 438.0 1240.8 439.0 1241.6 440.0 1243.9 441.0 1244.3 442.0 1246.9 443.0 1247.6 444.0 1249.1 445.0 1250.7 446.0 1252.1 447.0 1254.2 448.0 1255.9 449.0 1256.6 450.0 1257.7 451.0 1258.7 452.0 1260.4 453.0 1262.1 454.0 1263.4 455.0 1264.8 456.0 1266.1 457.0 1267.6 458.0 1268.0 459.0 1269.3 460.0 1271.5 461.0 1272.5 462.0 1273.0 463.0 1274.9 464.0 1275.1 465.0 1276.3 466.0 1276.6 467.0 1278.9 468.0 1279.5 469.0 1281.0 470.0 1281.9 471.0 1282.7 472.0 1283.7 473.0 1285.2 474.0 1285.6 475.0 1286.6 476.0 1287.7 477.0 1289.0 478.0 1290.0 479.0 1291.5 480.0 1291.5 481.0 1293.1 482.0 1293.2 483.0 1294.7 484.0 1295.4 485.0 1297.1 486.0 1297.6 487.0 1298.1 488.0 1299.5 489.0 1300.4 490.0 1301.0 491.0 1301.9 492.0 1302.5 493.0 1305.1 494.0 1304.7 495.0 1305.9 496.0 1305.6 497.0 1306.4 498.0 1307.5 499.0 1308.1 500.0 1309.2 501.0 1309.0 502.0 1310.3 503.0 1311.3 504.0 1310.8 505.0 1312.1 506.0 1311.8 507.0 1313.0 508.0 1313.5 509.0 1314.7 510.0 1314.1 511.0 1315.0 512.0 1315.9 513.0 1315.4 514.0 1316.4 515.0 1316.5 516.0 1317.0 517.0 1318.1 518.0 1318.6 519.0 1319.9 520.0 1319.9 521.0 1320.3 522.0 1320.1 523.0 1320.6 524.0 1321.3 525.0 1320.8 526.0 1323.1 527.0 1322.6 528.0 1322.9 529.0 1323.7 530.0 1324.8 531.0 1325.5 532.0 1325.3 533.0 1326.2 534.0 1326.4 535.0 1326.4 536.0 1327.4 537.0 1327.8 538.0 1327.5 539.0 1329.1 540.0 1328.3 541.0 1329.6 542.0 1329.4 543.0 1329.9 544.0 1330.3 545.0 1331.3 546.0 1330.8 547.0 1331.6 548.0 1332.7 549.0 1332.1 550.0 1332.7 551.0 1333.3 552.0 1333.1 553.0 1333.8 554.0 1333.6 555.0 1334.5 556.0 1334.5 557.0 1334.3 558.0 1335.7 559.0 1335.3 560.0 1335.5 561.0 1335.5 562.0 1336.0 563.0 1336.4 564.0 1336.8 565.0 1337.5 566.0 1336.7 567.0 1337.4 568.0 1338.3 569.0 1338.1 570.0 1338.5 571.0 1339.3 572.0 1338.9 573.0 1339.2 574.0 1339.2 575.0 1340.2 576.0 1340.1 577.0 1339.5 578.0 1340.3 579.0 1339.7 580.0 1340.9 581.0 1340.9 582.0 1340.7 583.0 1340.7 584.0 1340.3 585.0 1341.6 586.0 1341.4 587.0 1341.4 588.0 1342.1 589.0 1341.6 590.0 1341.8 591.0 1342.0 592.0 1341.8 593.0 1343.7 594.0 1342.7 595.0 1342.8 596.0 1343.5 597.0 1341.8 598.0 1343.3 599.0 1343.4 600.0 1343.1 601.0 1343.8 602.0 1342.7 603.0 1343.7 604.0 1344.2 605.0 1342.9 606.0 1343.3 607.0 1343.9 608.0 1344.0 609.0 1343.8 610.0 1344.3 611.0 1344.3 612.0 1343.6 613.0 1344.2 614.0 1343.7 615.0 1343.4 616.0 1343.2 617.0 1344.8 618.0 1344.3 619.0 1345.2 620.0 1343.7 621.0 1344.1 622.0 1344.4 623.0 1344.2 624.0 1344.5 625.0 1344.3 626.0 1343.9 627.0 1343.1 628.0 1343.7 629.0 1344.9 630.0 1344.4 631.0 1344.7 632.0 1343.8 633.0 1343.9 634.0 1343.6 635.0 1344.1 636.0 1343.9 637.0 1344.1 638.0 1344.6 639.0 1343.4 640.0 1344.1 641.0 1343.1 642.0 1344.2 643.0 1343.4 644.0 1343.5 645.0 1343.6 646.0 1344.2 647.0 1343.4 648.0 1343.1 649.0 1342.7 650.0 1343.3 651.0 1342.7 652.0 1342.8 653.0 1342.9 654.0 1343.2 655.0 1342.4 656.0 1343.0 657.0 1343.3 658.0 1341.8 659.0 1342.9 660.0 1343.1 661.0 1341.8 662.0 1342.2 663.0 1341.1 664.0 1341.7 665.0 1341.3 666.0 1341.4 667.0 1340.7 668.0 1340.5 669.0 1340.5 670.0 1340.2 671.0 1340.1 672.0 1340.1 673.0 1339.5 674.0 1339.7 675.0 1339.8 676.0 1338.4 677.0 1339.3 678.0 1338.7 679.0 1338.3 680.0 1337.9 681.0 1337.9 682.0 1337.7 683.0 1338.0 684.0 1337.0 685.0 1337.7 686.0 1336.6 687.0 1337.0 688.0 1336.9 689.0 1335.6 690.0 1336.3 691.0 1336.4 692.0 1334.8 693.0 1334.9 694.0 1334.2 695.0 1333.8 696.0 1333.3 697.0 1332.7 698.0 1332.9 699.0 1332.5 700.0 1331.7 701.0 1332.0 702.0 1331.4 703.0 1330.8 704.0 1329.7 705.0 1330.4 706.0 1329.6 707.0 1327.5 708.0 1327.3 709.0 1326.9 710.0 1326.9 711.0 1326.3 712.0 1324.9 713.0 1324.4 714.0 1324.0 715.0 1322.4 716.0 1322.7 717.0 1321.7 718.0 1321.3 719.0 1320.7 720.0 1319.6 721.0 1319.1 722.0 1319.0 723.0 1318.4 724.0 1317.6 725.0 1317.6 726.0 1316.3 727.0 1315.3 728.0 1315.0 729.0 1314.4 730.0 1313.7 731.0 1313.5 732.0 1312.4 733.0 1311.7 734.0 1310.6 735.0 1309.2 736.0 1308.7 737.0 1307.0 738.0 1306.1 739.0 1304.3 740.0 1303.6 741.0 1302.1 742.0 1301.2 743.0 1300.6 744.0 1299.6 745.0 1297.7 746.0 1295.9 747.0 1294.9 748.0 1293.3 749.0 1291.5 750.0 1290.3 751.0 1288.8 752.0 1287.3 753.0 1286.7 754.0 1284.5 755.0 1283.1 756.0 1282.3 757.0 1280.4 758.0 1278.8 759.0 1277.7 760.0 1277.0 761.0 1275.6 762.0 1274.3 763.0 1272.6 764.0 1271.1 765.0 1270.7 766.0 1268.3 767.0 1267.6 768.0 1265.8 769.0 1264.9 770.0 1263.8 771.0 1263.1 772.0 1259.9 773.0 1260.5 774.0 1258.1 775.0 1257.3 776.0 1256.2 777.0 1254.2 778.0 1253.2 779.0 1252.3 780.0 1250.9 781.0 1249.5 782.0 1248.9 783.0 1247.8 784.0 1246.1 785.0 1246.4 786.0 1245.0 787.0 1242.8 788.0 1242.6 789.0 1242.9 790.0 1241.9 791.0 1240.4 792.0 1238.7 793.0 1238.5 794.0 1238.2 795.0 1237.1 796.0 1235.9 797.0 1234.9 798.0 1234.8 799.0 1233.5 800.0 1232.9 801.0 1232.2 802.0 1231.9 803.0 1230.5 804.0 1229.7 805.0 1228.0 806.0 1228.6 807.0 1227.7 808.0 1226.6 809.0 1224.9 810.0 1225.1 811.0 1224.8 812.0 1225.2 813.0 1224.0 814.0 1223.5 815.0 1223.1 816.0 1223.1 817.0 1221.9 818.0 1222.1 819.0 1222.1 820.0 1222.7 821.0 1223.0 822.0 1223.5 823.0 1223.4 824.0 1224.3 825.0 1224.2 826.0 1225.9 827.0 1225.0 828.0 1226.7 829.0 1226.5 830.0 1225.5 831.0 1226.8 832.0 1227.0 833.0 1226.4 834.0 1227.8 835.0 1228.0 836.0 1228.7 837.0 1228.9 838.0 1229.9 839.0 1230.9 840.0 1231.4 841.0 1232.0 842.0 1232.9 843.0 1233.3 844.0 1234.7 845.0 1234.2 846.0 1236.8 847.0 1237.0 848.0 1238.0 849.0 1239.0 850.0 1238.8 851.0 1241.2 852.0 1240.5 853.0 1242.0 854.0 1242.7 855.0 1244.0 856.0 1244.2 857.0 1244.4 858.0 1246.0 859.0 1245.6 860.0 1247.5 861.0 1248.3 862.0 1250.1 863.0 1250.1 864.0 1251.0 865.0 1251.7 866.0 1252.6 867.0 1253.6 868.0 1255.0 869.0 1255.0 870.0 1256.4 871.0 1256.8 872.0 1258.3 873.0 1259.3 874.0 1259.6 875.0 1260.8 876.0 1262.0 877.0 1263.2 878.0 1264.2 879.0 1264.6 880.0 1265.2 881.0 1265.8 882.0 1267.9 883.0 1269.1 884.0 1269.5 885.0 1270.9 886.0 1270.8 887.0 1271.6 888.0 1273.2 889.0 1272.8 890.0 1274.2 891.0 1274.8 892.0 1275.4 893.0 1276.7 894.0 1276.2 895.0 1277.0 896.0 1276.9 897.0 1278.0 898.0 1278.8 899.0 1279.4 900.0 1280.1 901.0 1280.9 902.0 1281.0 903.0 1280.9 904.0 1282.5 905.0 1283.1 906.0 1282.9 907.0 1283.6 908.0 1285.3 909.0 1285.5 910.0 1286.0 911.0 1286.3 912.0 1286.6 913.0 1286.8 914.0 1287.8 915.0 1287.9 916.0 1288.3 917.0 1288.9 918.0 1289.4 919.0 1290.3 920.0 1289.9 921.0 1291.9 922.0 1290.8 923.0 1291.5 924.0 1292.6 925.0 1292.2 926.0 1292.8 927.0 1293.5 928.0 1292.5 929.0 1294.1 930.0 1294.3 931.0 1295.1 932.0 1295.8 933.0 1296.3 934.0 1297.1 935.0 1297.5 936.0 1297.7 937.0 1297.7 938.0 1298.6 939.0 1298.0 940.0 1298.9 941.0 1299.9 942.0 1300.0 943.0 1299.4 944.0 1300.2 945.0 1301.2 946.0 1301.5 947.0 1302.0 948.0 1301.1 949.0 1301.7 950.0 1302.5 951.0 1302.5 952.0 1303.2 953.0 1303.6 954.0 1304.1 955.0 1304.2 956.0 1304.8 957.0 1305.2 958.0 1305.3 959.0 1304.9 960.0 1306.4 961.0 1306.2 962.0 1306.6 963.0 1306.7 964.0 1306.2 965.0 1307.4 966.0 1307.1 967.0 1307.1 968.0 1308.5 969.0 1308.0 970.0 1308.5 971.0 1309.0 972.0 1309.5 973.0 1308.2 974.0 1308.9 975.0 1309.7 976.0 1309.3 977.0 1308.3 978.0 1310.1 979.0 1310.3 980.0 1310.7 981.0 1310.7 982.0 1310.5 983.0 1311.0 984.0 1311.1 985.0 1311.0 986.0 1311.5 987.0 1311.7 988.0 1311.2 989.0 1312.3 990.0 1312.4 991.0 1312.5 992.0 1311.0 993.0 1312.4 994.0 1312.5 995.0 1312.2 996.0 1313.0 997.0 1312.2 998.0 1313.6 999.0 1313.4 1000.0 1313.1 1001.0 1314.1 1002.0 1313.8 1003.0 1313.9 1004.0 1313.3 1005.0 1314.3 1006.0 1314.9 1007.0 1314.9 1008.0 1314.0 1009.0 1315.3 1010.0 1315.6 1011.0 1315.4 1012.0 1315.0 1013.0 1314.7 1014.0 1315.1 1015.0 1315.4 1016.0 1315.9 1017.0 1316.2 1018.0 1315.7 1019.0 1315.5 1020.0 1316.2 1021.0 1315.9 1022.0 1317.2 1023.0 1316.2 1024.0 1317.1 1025.0 1317.3 1026.0 1316.6 1027.0 1317.7 1028.0 1317.3 1029.0 1317.1 1030.0 1317.1 1031.0 1317.7 1032.0 1318.3 1033.0 1317.1 1034.0 1318.3 1035.0 1318.1 1036.0 1318.0 1037.0 1318.4 1038.0 1318.6 1039.0 1318.7 1040.0 1319.2 1041.0 1318.6 1042.0 1320.0 1043.0 1319.7 1044.0 1319.2 1045.0 1318.7 1046.0 1319.7 1047.0 1319.7 1048.0 1320.4 1049.0 1320.5 1050.0 1321.2 1051.0 1320.5 1052.0 1321.0 1053.0 1320.6 1054.0 1320.8 1055.0 1321.8 1056.0 1321.2 1057.0 1321.4 1058.0 1321.4 1059.0 1321.9 1060.0 1322.1 1061.0 1321.9 1062.0 1321.6 1063.0 1322.4 1064.0 1322.0 1065.0 1322.4 1066.0 1322.8 1067.0 1322.9 1068.0 1321.9 1069.0 1323.8 1070.0 1323.5 1071.0 1324.1 1072.0 1324.5 1073.0 1323.1 1074.0 1323.4 1075.0 1323.8 1076.0 1324.3 1077.0 1323.7 1078.0 1323.9 1079.0 1324.7 1080.0 1323.9 1081.0 1324.5 1082.0 1325.0 1083.0 1324.5 1084.0 1325.1 1085.0 1324.8 1086.0 1324.2 1087.0 1324.8 1088.0 1325.1 1089.0 1325.1 1090.0 1325.4 1091.0 1325.7 1092.0 1325.7 1093.0 1325.8 1094.0 1325.6 1095.0 1325.8 1096.0 1325.9 1097.0 1325.9 1098.0 1326.9 1099.0 1325.6 1100.0 1326.7 1101.0 1325.9 1102.0 1326.5 1103.0 1327.3 1104.0 1327.0 1105.0 1327.9 1106.0 1326.9 1107.0 1327.4 1108.0 1327.4 1109.0 1327.8 1110.0 1327.8 1111.0 1328.0 1112.0 1328.3 1113.0 1328.9 1114.0 1328.7 1115.0 1328.8 1116.0 1328.8 1117.0 1328.8 1118.0 1328.6 1119.0 1329.0 1120.0 1329.6 1121.0 1328.9 1122.0 1330.3 1123.0 1329.9 1124.0 1329.9 1125.0 1330.2 1126.0 1331.0 1127.0 1331.0 1128.0 1331.1 1129.0 1332.0 1130.0 1332.4 1131.0 1331.0 1132.0 1332.1 1133.0 1331.5 1134.0 1331.4 1135.0 1332.0 1136.0 1332.8 1137.0 1332.4 1138.0 1332.5 1139.0 1333.5 1140.0 1333.3 1141.0 1333.1 1142.0 1334.2 1143.0 1333.7 1144.0 1333.3 1145.0 1333.3 1146.0 1333.7 1147.0 1334.1 1148.0 1334.6 1149.0 1334.7 1150.0 1334.5 1151.0 1334.0 1152.0 1335.1 1153.0 1334.8 1154.0 1334.4 1155.0 1334.5 1156.0 1335.2 1157.0 1335.4 1158.0 1335.7 1159.0 1334.9 1160.0 1336.5 1161.0 1334.9 1162.0 1335.8 1163.0 1336.5 1164.0 1336.5 1165.0 1335.7 1166.0 1336.6 1167.0 1337.0 1168.0 1336.9 1169.0 1336.2 1170.0 1337.5 1171.0 1336.2 1172.0 1337.1 1173.0 1336.7 1174.0 1337.1 1175.0 1337.3 1176.0 1337.8 1177.0 1337.1 1178.0 1337.9 1179.0 1338.6 1180.0 1338.1 1181.0 1338.5 1182.0 1338.6 1183.0 1338.2 1184.0 1338.5 1185.0 1338.8 1186.0 1339.1 1187.0 1339.9 1188.0 1339.9 1189.0 1339.0 1190.0 1339.2 1191.0 1339.1 1192.0 1338.6 1193.0 1340.4 1194.0 1340.2 1195.0 1339.2 1196.0 1340.2 1197.0 1341.4 1198.0 1340.7 1199.0 1340.8 1200.0 1340.8 1201.0 1340.5 1202.0 1340.3 1203.0 1340.5 1204.0 1341.0 1205.0 1340.9 1206.0 1341.3 1207.0 1341.8 1208.0 1341.2 1209.0 1341.4 1210.0 1340.8 1211.0 1340.4 1212.0 1342.0 1213.0 1341.3 1214.0 1341.5 1215.0 1340.8 1216.0 1340.2 1217.0 1341.6 1218.0 1340.0 1219.0 1340.9 1220.0 1340.7 1221.0 1340.9 1222.0 1340.8 1223.0 1340.3 1224.0 1338.8 1225.0 1340.3 1226.0 1339.2 1227.0 1340.7 1228.0 1340.5 1229.0 1340.5 1230.0 1341.1 1231.0 1341.1 1232.0 1342.1 1233.0 1343.0 1234.0 1343.3 1235.0 1343.2 1236.0 1343.9 1237.0 1343.8 1238.0 1344.7 1239.0 1344.1 1240.0 1343.8 1241.0 1344.0 1242.0 1343.9 1243.0 1344.3 1244.0 1344.4 1245.0 1344.9 1246.0 1345.0 1247.0 1344.7 1248.0 1344.9 1249.0 1344.4 1250.0 1344.5 1251.0 1343.7 1252.0 1344.5 1253.0 1344.6 1254.0 1346.0 1255.0 1344.3 1256.0 1344.9 1257.0 1344.8 1258.0 1344.2 1259.0 1345.1 1260.0 1345.0 1261.0 1344.3 1262.0 1344.0 1263.0 1345.1 1264.0 1344.5 1265.0 1345.5 1266.0 1345.1 1267.0 1345.5 1268.0 1345.2 1269.0 1346.1 1270.0 1345.8 1271.0 1346.2 1272.0 1345.6 1273.0 1345.2 1274.0 1345.0 1275.0 1345.5 1276.0 1345.9 1277.0 1345.6 1278.0 1347.1 1279.0 1346.0 1280.0 1346.3 1281.0 1346.2 1282.0 1345.6 1283.0 1346.7 1284.0 1346.6 1285.0 1346.8 1286.0 1346.0 1287.0 1346.5 1288.0 1346.5 1289.0 1347.1 1290.0 1346.0 1291.0 1347.0 1292.0 1347.3 1293.0 1346.5 1294.0 1346.4 1295.0 1347.4 1296.0 1347.0 1297.0 1347.4 1298.0 1347.3 1299.0 1347.5 1300.0 1346.9 1301.0 1346.1 1302.0 1347.4 1303.0 1346.8 1304.0 1347.4 1305.0 1347.0 1306.0 1348.0 1307.0 1347.2 1308.0 1347.7 1309.0 1347.8 1310.0 1347.3 1311.0 1347.6 1312.0 1347.4 1313.0 1347.0 1314.0 1348.2 1315.0 1347.1 1316.0 1346.9 1317.0 1347.4 1318.0 1347.7 1319.0 1347.7 1320.0 1347.5 1321.0 1347.5 1322.0 1346.8 1323.0 1348.1 1324.0 1348.6 1325.0 1347.5 1326.0 1347.0 1327.0 1348.2 1328.0 1347.8 1329.0 1346.1 1330.0 1347.6 1331.0 1347.3 1332.0 1347.4 1333.0 1348.9 1334.0 1348.4 1335.0 1347.9 1336.0 1348.0 1337.0 1348.7 1338.0 1347.5 1339.0 1348.4 1340.0 1347.7 1341.0 1348.4 1342.0 1348.1 1343.0 1347.7 1344.0 1348.5 1345.0 1348.3 1346.0 1348.9 1347.0 1347.8 1348.0 1348.1 1349.0 1347.7 1350.0 1348.6 1351.0 1347.7 1352.0 1348.0 1353.0 1348.6 1354.0 1348.3 1355.0 1348.2 1356.0 1348.1 1357.0 1348.2 1358.0 1348.3 1359.0 1347.9 1360.0 1347.1 1361.0 1348.6 1362.0 1347.5 1363.0 1348.9 1364.0 1348.2 1365.0 1349.5 1366.0 1348.6 1367.0 1348.2 1368.0 1348.4 1369.0 1347.4 1370.0 1348.1 1371.0 1347.8 1372.0 1348.0 1373.0 1347.1 1374.0 1347.0 1375.0 1348.3 1376.0 1348.0 1377.0 1347.8 1378.0 1348.0 1379.0 1347.7 1380.0 1347.8 1381.0 1348.3 1382.0 1347.9 1383.0 1348.3 1384.0 1347.6 1385.0 1347.1 1386.0 1347.6 1387.0 1347.9 1388.0 1347.4 1389.0 1347.7 1390.0 1347.6 1391.0 1348.3 1392.0 1348.2 1393.0 1348.3 1394.0 1347.5 1395.0 1348.0 1396.0 1348.4 1397.0 1347.8 1398.0 1347.7 1399.0 1347.4 1400.0 1348.1 1401.0 1347.8 1402.0 1348.1 1403.0 1347.6 1404.0 1348.6 1405.0 1347.6 1406.0 1347.0 1407.0 1347.7 1408.0 1347.8 1409.0 1348.1 1410.0 1347.3 1411.0 1347.3 1412.0 1347.4 1413.0 1347.3 1414.0 1346.5 1415.0 1347.8 1416.0 1348.1 1417.0 1347.1 1418.0 1347.0 1419.0 1347.4 1420.0 1347.1 1421.0 1347.9 1422.0 1347.2 1423.0 1347.8 1424.0 1346.9 1425.0 1346.8 1426.0 1346.8 1427.0 1346.8 1428.0 1347.7 1429.0 1347.9 1430.0 1347.6 1431.0 1347.6 1432.0 1346.5 1433.0 1348.0 1434.0 1346.9 1435.0 1348.1 1436.0 1348.6 1437.0 1347.5 1438.0 1347.8 1439.0 1347.8 1440.0 1346.9 1441.0 1347.0 1442.0 1347.2 1443.0 1347.6 1444.0 1347.9 1445.0 1347.6 1446.0 1348.0 1447.0 1347.3 1448.0 1346.8 1449.0 1347.5 1450.0 1347.5 1451.0 1346.8 1452.0 1348.0 1453.0 1347.1 1454.0 1347.2 1455.0 1347.6 1456.0 1347.0 1457.0 1347.8 1458.0 1347.7 1459.0 1347.7 1460.0 1347.5 1461.0 1347.3 1462.0 1347.2 1463.0 1347.6 1464.0 1348.1 1465.0 1347.9 1466.0 1347.7 1467.0 1348.0 1468.0 1348.1 1469.0 1347.0 1470.0 1347.5 1471.0 1348.1 1472.0 1347.3 1473.0 1347.4 1474.0 1347.9 1475.0 1347.5 1476.0 1348.2 1477.0 1347.5 1478.0 1347.9 1479.0 1348.8 1480.0 1348.2 1481.0 1347.1 1482.0 1347.3 1483.0 1347.3 1484.0 1347.8 1485.0 1347.1 1486.0 1348.1 1487.0 1348.6 1488.0 1348.6 1489.0 1347.5 1490.0 1347.8 1491.0 1347.8 1492.0 1347.5 1493.0 1348.7 1494.0 1347.6 1495.0 1347.4 1496.0 1348.1 1497.0 1348.1 1498.0 1348.7 1499.0 1348.7 1500.0 1347.9 1501.0 1347.0 1502.0 1348.3 1503.0 1348.4 1504.0 1348.8 1505.0 1347.3 1506.0 1347.5 1507.0 1348.7 1508.0 1348.7 1509.0 1348.5 1510.0 1347.9 1511.0 1348.5 1512.0 1347.6 1513.0 1347.2 1514.0 1347.8 1515.0 1347.8 1516.0 1348.1 1517.0 1348.2 1518.0 1346.8 1519.0 1347.7 1520.0 1347.7 1521.0 1346.9 1522.0 1347.3 1523.0 1347.4 1524.0 1347.5 1525.0 1346.8 1526.0 1346.9 1527.0 1346.6 1528.0 1347.2 1529.0 1346.8 1530.0 1346.6 1531.0 1347.1 1532.0 1346.7 1533.0 1346.1 1534.0 1347.1 1535.0 1347.0 1536.0 1346.7 1537.0 1345.9 1538.0 1346.8 1539.0 1346.0 1540.0 1345.3 1541.0 1346.1 1542.0 1346.9 1543.0 1345.8 1544.0 1346.2 1545.0 1346.5 1546.0 1345.8 1547.0 1345.5 1548.0 1345.6 1549.0 1345.7 1550.0 1345.1 1551.0 1345.4 1552.0 1345.4 1553.0 1344.9 1554.0 1345.3 1555.0 1345.1 1556.0 1344.6 1557.0 1344.5 1558.0 1344.5 1559.0 1344.3 1560.0 1344.1 1561.0 1343.6 1562.0 1344.0 1563.0 1344.2 1564.0 1344.0 1565.0 1343.2 1566.0 1343.7 1567.0 1343.6 1568.0 1342.8 1569.0 1343.3 1570.0 1342.8 1571.0 1342.6 1572.0 1342.7 1573.0 1342.4 1574.0 1341.3 1575.0 1342.2 1576.0 1341.5 1577.0 1341.8 1578.0 1342.0 1579.0 1341.4 1580.0 1341.1 1581.0 1341.2 1582.0 1341.2 1583.0 1340.4 1584.0 1340.3 1585.0 1340.7 1586.0 1341.0 1587.0 1340.1 1588.0 1340.3 1589.0 1339.3 1590.0 1339.5 1591.0 1339.3 1592.0 1338.5 1593.0 1338.8 1594.0 1338.5 1595.0 1337.2 1596.0 1338.1 1597.0 1338.1 1598.0 1337.8 1599.0 1337.6 1600.0 1336.7 1601.0 1336.6 1602.0 1336.6 1603.0 1336.1 1604.0 1336.0 1605.0 1336.5 1606.0 1335.3 1607.0 1335.2 1608.0 1335.9 1609.0 1334.7 1610.0 1334.1 1611.0 1334.3 1612.0 1334.0 1613.0 1333.7 1614.0 1332.5 1615.0 1333.1 1616.0 1332.8 1617.0 1333.2 1618.0 1332.3 1619.0 1331.5 1620.0 1331.5 1621.0 1331.3 1622.0 1330.6 1623.0 1330.3 1624.0 1330.5 1625.0 1329.7 1626.0 1329.4 1627.0 1328.3 1628.0 1328.5 1629.0 1327.1 1630.0 1328.0 1631.0 1326.9 1632.0 1326.9 1633.0 1326.9 1634.0 1325.3 1635.0 1325.9 1636.0 1325.1 1637.0 1325.1 1638.0 1324.0 1639.0 1323.5 1640.0 1324.0 1641.0 1323.2 1642.0 1322.7 1643.0 1321.8 1644.0 1322.5 1645.0 1321.5 1646.0 1321.2 1647.0 1320.6 1648.0 1320.6 1649.0 1320.5 1650.0 1319.9 1651.0 1319.5 1652.0 1319.0 1653.0 1319.5 1654.0 1319.3 1655.0 1318.1 1656.0 1317.5 1657.0 1317.7 1658.0 1316.5 1659.0 1317.0 1660.0 1316.6 1661.0 1316.3 1662.0 1316.5 1663.0 1316.3 1664.0 1315.3 1665.0 1314.6 1666.0 1314.8 1667.0 1314.5 1668.0 1313.1 1669.0 1313.0 1670.0 1312.8 1671.0 1311.8 1672.0 1311.7 1673.0 1312.6 1674.0 1311.0 1675.0 1311.6 1676.0 1310.5 1677.0 1311.0 1678.0 1310.4 1679.0 1310.3 1680.0 1309.0 1681.0 1309.5 1682.0 1308.8 1683.0 1309.1 1684.0 1308.8 1685.0 1308.3 1686.0 1307.9 1687.0 1307.7 1688.0 1307.5 1689.0 1307.0 1690.0 1306.7 1691.0 1306.4 1692.0 1306.0 1693.0 1306.7 1694.0 1305.4 1695.0 1306.3 1696.0 1305.8 1697.0 1304.6 1698.0 1304.3 1699.0 1304.9 1700.0 1304.2 1701.0 1304.6 1702.0 1304.8 1703.0 1304.3 1704.0 1303.9 1705.0 1303.7 1706.0 1304.3 1707.0 1303.3 1708.0 1304.0 1709.0 1304.0 1710.0 1302.8 1711.0 1302.9 1712.0 1303.4 1713.0 1302.2 1714.0 1302.5 1715.0 1302.7 1716.0 1301.7 1717.0 1302.2 1718.0 1302.0 1719.0 1301.6 1720.0 1302.4 1721.0 1301.6 1722.0 1302.6 1723.0 1301.9 1724.0 1301.2 1725.0 1301.5 1726.0 1301.0 1727.0 1301.6 1728.0 1301.5 1729.0 1300.6 1730.0 1300.9 1731.0 1301.3 1732.0 1301.0 1733.0 1300.5 1734.0 1301.4 1735.0 1301.5 1736.0 1300.2 1737.0 1301.5 1738.0 1299.9 1739.0 1300.8 1740.0 1300.5 1741.0 1300.6 1742.0 1301.0 1743.0 1300.4 1744.0 1300.9 1745.0 1301.7 1746.0 1301.2 1747.0 1301.8 1748.0 1301.6 1749.0 1300.5 1750.0 1302.1 1751.0 1301.8 1752.0 1301.8 1753.0 1301.4 1754.0 1301.4 1755.0 1301.3 1756.0 1301.8 1757.0 1302.0 1758.0 1302.0 1759.0 1302.1 1760.0 1301.4 1761.0 1302.1 1762.0 1302.2 1763.0 1302.8 1764.0 1302.7 1765.0 1302.9 1766.0 1303.3 1767.0 1303.3 1768.0 1303.6 1769.0 1304.4 1770.0 1304.1 1771.0 1303.9 1772.0 1304.8 1773.0 1305.1 1774.0 1305.3 1775.0 1304.6 1776.0 1305.8 1777.0 1305.6 1778.0 1305.8 1779.0 1305.9 1780.0 1306.3 1781.0 1306.4 1782.0 1307.0 1783.0 1306.6 1784.0 1306.7 1785.0 1307.1 1786.0 1307.0 1787.0 1307.6 1788.0 1307.4 1789.0 1307.8 1790.0 1307.4 1791.0 1308.2 1792.0 1308.2 1793.0 1307.7 1794.0 1308.0 1795.0 1308.4 1796.0 1307.9 1797.0 1308.1 1798.0 1308.9 1799.0 1309.0 1800.0 1309.5 1801.0 1308.5 1802.0 1309.0 1803.0 1308.4 1804.0 1310.1 1805.0 1308.9 1806.0 1309.5 1807.0 1310.5 1808.0 1310.4 1809.0 1309.5 1810.0 1311.0 1811.0 1310.3 1812.0 1309.7 1813.0 1310.4 1814.0 1310.6 1815.0 1310.7 1816.0 1309.6 1817.0 1311.4 1818.0 1310.0 1819.0 1310.7 1820.0 1311.5 1821.0 1311.1 1822.0 1311.0 1823.0 1310.9 1824.0 1311.5 1825.0 1311.9 1826.0 1311.1 1827.0 1311.6 1828.0 1311.4 1829.0 1311.4 1830.0 1310.8 1831.0 1311.9 1832.0 1312.3 1833.0 1311.9 1834.0 1312.5 1835.0 1312.2 1836.0 1312.7 1837.0 1312.3 1838.0 1312.2 1839.0 1312.2 1840.0 1312.5 1841.0 1312.6 1842.0 1312.2 1843.0 1312.6 1844.0 1312.1 1845.0 1312.2 1846.0 1313.1 1847.0 1313.1 1848.0 1313.4 1849.0 1313.1 1850.0 1313.2 1851.0 1313.9 1852.0 1312.8 1853.0 1313.4 1854.0 1314.0 1855.0 1314.2 1856.0 1313.6 1857.0 1313.4 1858.0 1313.0 1859.0 1313.5 1860.0 1313.6 1861.0 1313.6 1862.0 1313.9 1863.0 1314.0 1864.0 1313.6 1865.0 1313.4 1866.0 1313.7 1867.0 1314.1 1868.0 1314.6 1869.0 1313.3 1870.0 1314.5 1871.0 1313.9 1872.0 1314.6 1873.0 1315.0 1874.0 1314.4 1875.0 1313.7 1876.0 1314.1 1877.0 1314.4 1878.0 1314.2 1879.0 1314.3 1880.0 1314.0 1881.0 1314.3 1882.0 1314.2 1883.0 1314.8 1884.0 1314.6 1885.0 1314.8 1886.0 1313.8 1887.0 1314.3 1888.0 1314.2 1889.0 1314.3 1890.0 1314.1 1891.0 1314.2 1892.0 1315.2 1893.0 1314.4 1894.0 1313.9 1895.0 1314.3 1896.0 1315.4 1897.0 1314.7 1898.0 1314.0 1899.0 1314.2 1900.0 1314.3 1901.0 1314.3 1902.0 1313.4 1903.0 1313.8 1904.0 1314.0 1905.0 1313.3 1906.0 1313.9 1907.0 1314.0 1908.0 1314.2 1909.0 1314.3 1910.0 1313.7 1911.0 1313.8 1912.0 1313.9 1913.0 1314.0 1914.0 1313.5 1915.0 1313.1 1916.0 1313.6 1917.0 1313.6 1918.0 1313.3 1919.0 1313.4 1920.0 1313.8 1921.0 1312.8 1922.0 1312.6 1923.0 1312.4 1924.0 1312.9 1925.0 1313.1 1926.0 1312.4 1927.0 1313.3 1928.0 1312.2 1929.0 1312.5 1930.0 1312.3 1931.0 1312.8 1932.0 1311.8 1933.0 1312.7 1934.0 1311.8 1935.0 1311.2 1936.0 1311.4 1937.0 1311.5 1938.0 1312.2 1939.0 1311.1 1940.0 1311.2 1941.0 1312.0 1942.0 1311.0 1943.0 1310.6 1944.0 1310.4 1945.0 1309.9 1946.0 1310.6 1947.0 1310.9 1948.0 1310.1 1949.0 1309.7 1950.0 1310.1 1951.0 1309.9 1952.0 1309.7 1953.0 1309.9 1954.0 1309.6 1955.0 1309.3 1956.0 1309.8 1957.0 1308.5 1958.0 1308.7 1959.0 1309.0 1960.0 1308.4 1961.0 1309.6 1962.0 1307.9 1963.0 1309.1 1964.0 1308.9 1965.0 1308.8 1966.0 1308.7 1967.0 1308.2 1968.0 1308.1 1969.0 1308.9 1970.0 1308.2 1971.0 1307.6 1972.0 1307.6 1973.0 1307.4 1974.0 1308.1 1975.0 1308.4 1976.0 1307.7 1977.0 1307.9 1978.0 1307.5 1979.0 1308.1 1980.0 1308.0 1981.0 1308.0 1982.0 1308.3 1983.0 1307.0"/>
</g>
<g clip-path="url(#pc)" fill="#000"><polygon points="485.1,129.2 489.7,143.4 504.6,143.4 492.5,152.1 497.1,166.3 485.1,157.5 473.1,166.3 477.7,152.1 465.6,143.4 480.5,143.4"/><polygon points="620.2,129.2 624.8,143.4 639.7,143.4 627.6,152.1 632.2,166.3 620.2,157.5 608.2,166.3 612.8,152.1 600.7,143.4 615.6,143.4"/><polygon points="661.0,129.2 665.6,143.4 680.5,143.4 668.4,152.1 673.0,166.3 661.0,157.5 649.0,166.3 653.6,152.1 641.5,143.4 656.4,143.4"/><polygon points="813.0,129.2 817.6,143.4 832.5,143.4 820.4,152.1 825.0,166.3 813.0,157.5 801.0,166.3 805.6,152.1 793.5,143.4 808.4,143.4"/><polygon points="916.2,129.2 920.8,143.4 935.7,143.4 923.6,152.1 928.2,166.3 916.2,157.5 904.2,166.3 908.8,152.1 896.7,143.4 911.6,143.4"/><polygon points="1074.4,129.2 1079.0,143.4 1093.9,143.4 1081.8,152.1 1086.4,166.3 1074.4,157.5 1062.4,166.3 1067.0,152.1 1054.9,143.4 1069.8,143.4"/><polygon points="1163.4,129.2 1168.0,143.4 1182.9,143.4 1170.8,152.1 1175.4,166.3 1163.4,157.5 1151.4,166.3 1156.0,152.1 1143.9,143.4 1158.8,143.4"/><polygon points="1304.6,129.2 1309.2,143.4 1324.1,143.4 1312.0,152.1 1316.6,166.3 1304.6,157.5 1292.6,166.3 1297.2,152.1 1285.1,143.4 1300.0,143.4"/><polygon points="1385.4,129.2 1390.0,143.4 1404.9,143.4 1392.8,152.1 1397.4,166.3 1385.4,157.5 1373.4,166.3 1378.0,152.1 1365.9,143.4 1380.8,143.4"/><polygon points="1412.7,129.2 1417.3,143.4 1432.2,143.4 1420.1,152.1 1424.7,166.3 1412.7,157.5 1400.7,166.3 1405.3,152.1 1393.2,143.4 1408.1,143.4"/><polygon points="1517.4,129.2 1522.0,143.4 1536.9,143.4 1524.8,152.1 1529.4,166.3 1517.4,157.5 1505.4,166.3 1510.0,152.1 1497.9,143.4 1512.8,143.4"/><polygon points="1594.5,129.2 1599.1,143.4 1614.0,143.4 1601.9,152.1 1606.5,166.3 1594.5,157.5 1582.5,166.3 1587.1,152.1 1575.0,143.4 1589.9,143.4"/><polygon points="1619.3,129.2 1623.9,143.4 1638.8,143.4 1626.7,152.1 1631.3,166.3 1619.3,157.5 1607.3,166.3 1611.9,152.1 1599.8,143.4 1614.7,143.4"/><polygon points="1720.0,129.2 1724.6,143.4 1739.5,143.4 1727.4,152.1 1732.0,166.3 1720.0,157.5 1708.0,166.3 1712.6,152.1 1700.5,143.4 1715.4,143.4"/><polygon points="1794.3,129.2 1798.9,143.4 1813.8,143.4 1801.7,152.1 1806.3,166.3 1794.3,157.5 1782.3,166.3 1786.9,152.1 1774.8,143.4 1789.7,143.4"/><polygon points="1917.0,129.2 1921.6,143.4 1936.5,143.4 1924.4,152.1 1929.0,166.3 1917.0,157.5 1905.0,166.3 1909.6,152.1 1897.5,143.4 1912.4,143.4"/><polygon points="1990.5,129.2 1995.1,143.4 2010.0,143.4 1997.9,152.1 2002.5,166.3 1990.5,157.5 1978.5,166.3 1983.1,152.1 1971.0,143.4 1985.9,143.4"/></g>
<g fill="#000">
<rect x="225" y="46" width="1760" height="6"/>
<rect x="225" y="1460" width="1760" height="6"/>
<rect x="225" y="46" width="5" height="1420"/>
<rect x="1979" y="46" width="6" height="1420"/>
<rect x="350" y="1449" width="6" height="11"/>
<rect x="350" y="52" width="6" height="11"/>
<rect x="475" y="1436" width="6" height="24"/>
<rect x="475" y="52" width="6" height="24"/>
<rect x="600" y="1449" width="6" height="11"/>
<rect x="600" y="52" width="6" height="11"/>
<rect x="726" y="1436" width="6" height="24"/>
<rect x="726" y="52" width="6" height="24"/>
<rect x="851" y="1449" width="6" height="11"/>
<rect x="851" y="52" width="6" height="11"/>
<rect x="976" y="1436" width="6" height="24"/>
<rect x="976" y="52" width="6" height="24"/>
<rect x="1102" y="1449" width="6" height="11"/>
<rect x="1102" y="52" width="6" height="11"/>
<rect x="1227" y="1436" width="6" height="24"/>
<rect x="1227" y="52" width="6" height="24"/>
<rect x="1352" y="1449" width="6" height="11"/>
<rect x="1352" y="52" width="6" height="11"/>
<rect x="1478" y="1436" width="6" height="24"/>
<rect x="1478" y="52" width="6" height="24"/>
<rect x="1603" y="1449" width="6" height="11"/>
<rect x="1603" y="52" width="6" height="11"/>
<rect x="1728" y="1436" width="6" height="24"/>
<rect x="1728" y="52" width="6" height="24"/>
<rect x="1854" y="1449" width="6" height="11"/>
<rect x="1854" y="52" width="6" height="11"/>
<rect x="230" y="1410" width="25" height="6"/>
<rect x="1954" y="1410" width="25" height="6"/>
<rect x="230" y="1284" width="12" height="6"/>
<rect x="1967" y="1284" width="12" height="6"/>
<rect x="230" y="1157" width="25" height="6"/>
<rect x="1954" y="1157" width="25" height="6"/>
<rect x="230" y="1031" width="12" height="6"/>
<rect x="1967" y="1031" width="12" height="6"/>
<rect x="230" y="905" width="25" height="6"/>
<rect x="1954" y="905" width="25" height="6"/>
<rect x="230" y="778" width="12" height="6"/>
<rect x="1967" y="778" width="12" height="6"/>
<rect x="230" y="652" width="25" height="6"/>
<rect x="1954" y="652" width="25" height="6"/>
<rect x="230" y="526" width="12" height="6"/>
<rect x="1967" y="526" width="12" height="6"/>
<rect x="230" y="400" width="25" height="6"/>
<rect x="1954" y="400" width="25" height="6"/>
<rect x="230" y="273" width="12" height="6"/>
<rect x="1967" y="273" width="12" height="6"/>
<rect x="230" y="147" width="25" height="6"/>
<rect x="1954" y="147" width="25" height="6"/>
</g>
<g font-family="Liberation Sans, Arial, sans-serif" font-size="60" fill="#000">
<text x="227.3" y="1541" text-anchor="middle">20</text>
<text x="478.0" y="1541" text-anchor="middle">30</text>
<text x="728.7" y="1541" text-anchor="middle">40</text>
<text x="979.4" y="1541" text-anchor="middle">50</text>
<text x="1230.1" y="1541" text-anchor="middle">60</text>
<text x="1480.8" y="1541" text-anchor="middle">70</text>
<text x="1731.5" y="1541" text-anchor="middle">80</text>
<text x="1982.2" y="1541" text-anchor="middle">90</text>
<text x="195.3" y="1430.0" text-anchor="end">5</text>
<text x="195.3" y="1177.4" text-anchor="end">10</text>
<text x="195.3" y="924.8" text-anchor="end">15</text>
<text x="195.3" y="672.2" text-anchor="end">20</text>
<text x="195.3" y="419.6" text-anchor="end">25</text>
<text x="195.3" y="167.0" text-anchor="end">30</text>
</g>
<g font-family="Liberation Sans, Arial, sans-serif" fill="#000">
<g transform="translate(743.7,1658.9) scale(1,1.035)"><text x="0" y="0" font-size="73.4">Diffraction angle (°2</text></g>
<g transform="translate(1387,1659.5)"><text x="0" y="0" font-size="76" font-family="Liberation Serif, Times New Roman, serif">Θ</text></g>
<g transform="translate(1440.1,1658)"><text x="0" y="0" font-size="68" font-family="Liberation Serif, Times New Roman, serif">)</text></g>
<g transform="translate(100,1032.7) rotate(-90) scale(1,1.035)"><text x="0" y="0" font-size="73">Intensity (counts)</text></g>
</g>
<line x1="1433.5" y1="243.5" x2="1565.5" y2="243.5" stroke="#000" stroke-width="5" stroke-linecap="round"/>
<text x="1583.2" y="264" font-family="Liberation Sans, Arial, sans-serif" fill="#000"><tspan font-size="60" dy="0">Fe</tspan><tspan font-size="40" dy="15.6">99</tspan><tspan font-size="60" dy="-15.6">Pd</tspan><tspan font-size="40" dy="15.6">1</tspan><tspan font-size="60" dy="-15.6">/C</tspan></text>
<line x1="1433.5" y1="330" x2="1565.5" y2="330" stroke="#f00" stroke-width="5" stroke-linecap="round"/>
<text x="1583.2" y="351" font-family="Liberation Sans, Arial, sans-serif" fill="#000"><tspan font-size="60" dy="0">Fe</tspan><tspan font-size="40" dy="15.6">99</tspan><tspan font-size="60" dy="-15.6">Pt</tspan><tspan font-size="40" dy="15.6">1</tspan><tspan font-size="60" dy="-15.6">/C</tspan></text>
<line x1="1433.5" y1="415.7" x2="1565.5" y2="415.7" stroke="#808080" stroke-width="5" stroke-linecap="round"/>
<text x="1583.2" y="436.8" font-family="Liberation Sans, Arial, sans-serif" fill="#000"><tspan font-size="60" dy="0">Fe/C</tspan></text>
<line x1="1433.5" y1="489" x2="1565.5" y2="489" stroke="#00f" stroke-width="5" stroke-linecap="round"/>
<text x="1583.2" y="510" font-family="Liberation Sans, Arial, sans-serif" fill="#000"><tspan font-size="60" dy="0">Carbon Bckgr</tspan></text>
</svg>
</body></html>
